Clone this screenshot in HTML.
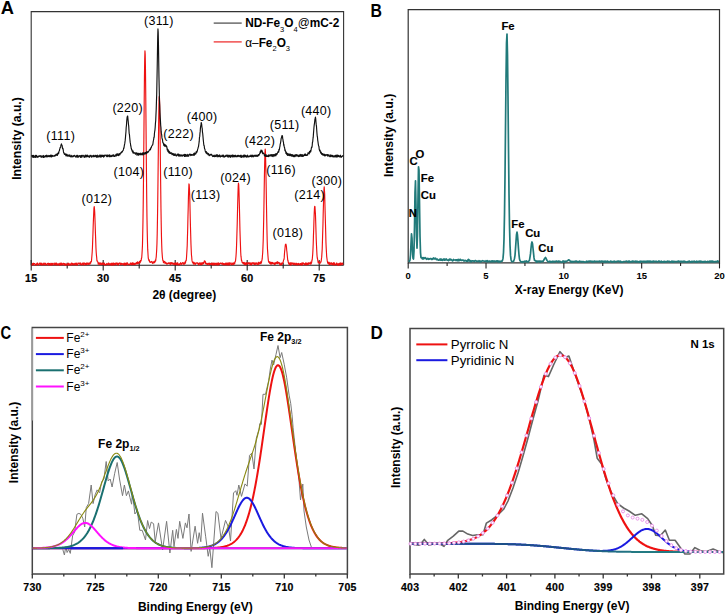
<!DOCTYPE html>
<html><head><meta charset="utf-8"><style>
html,body{margin:0;padding:0;background:#fff;width:725px;height:614px;overflow:hidden}
svg{display:block;font-family:"Liberation Sans", sans-serif}
</style></head><body>
<svg width="725" height="614" viewBox="0 0 725 614">
<rect width="725" height="614" fill="#fff"/>
<path d="M31.2,265.2 L31.2,11.6 L343.6,11.6 L343.6,265.2" fill="none" stroke="#333" stroke-width="1.1"/>
<line x1="31.2" y1="265.2" x2="343.6" y2="265.2" stroke="#222" stroke-width="1.1"/>
<line x1="31.20" y1="259.9" x2="31.20" y2="270.59999999999997" stroke="#222" stroke-width="1.1"/>
<text x="31.20" y="282.4" font-size="10.7" font-weight="700" text-anchor="middle" fill="#000" letter-spacing="0.3" stroke="#000" stroke-width="0.2">15</text>
<line x1="103.20" y1="259.9" x2="103.20" y2="270.59999999999997" stroke="#222" stroke-width="1.1"/>
<text x="103.20" y="282.4" font-size="10.7" font-weight="700" text-anchor="middle" fill="#000" letter-spacing="0.3" stroke="#000" stroke-width="0.2">30</text>
<line x1="175.20" y1="259.9" x2="175.20" y2="270.59999999999997" stroke="#222" stroke-width="1.1"/>
<text x="175.20" y="282.4" font-size="10.7" font-weight="700" text-anchor="middle" fill="#000" letter-spacing="0.3" stroke="#000" stroke-width="0.2">45</text>
<line x1="247.20" y1="259.9" x2="247.20" y2="270.59999999999997" stroke="#222" stroke-width="1.1"/>
<text x="247.20" y="282.4" font-size="10.7" font-weight="700" text-anchor="middle" fill="#000" letter-spacing="0.3" stroke="#000" stroke-width="0.2">60</text>
<line x1="319.20" y1="259.9" x2="319.20" y2="270.59999999999997" stroke="#222" stroke-width="1.1"/>
<text x="319.20" y="282.4" font-size="10.7" font-weight="700" text-anchor="middle" fill="#000" letter-spacing="0.3" stroke="#000" stroke-width="0.2">75</text>
<line x1="67.20" y1="262.7" x2="67.20" y2="268.5" stroke="#222" stroke-width="1.1"/>
<line x1="139.20" y1="262.7" x2="139.20" y2="268.5" stroke="#222" stroke-width="1.1"/>
<line x1="211.20" y1="262.7" x2="211.20" y2="268.5" stroke="#222" stroke-width="1.1"/>
<line x1="283.20" y1="262.7" x2="283.20" y2="268.5" stroke="#222" stroke-width="1.1"/>
<path d="M31.70,264.42 L31.95,265.05 L32.20,264.77 L32.45,263.50 L32.70,263.68 L32.95,265.00 L33.20,263.00 L33.45,264.88 L33.70,264.82 L33.95,264.06 L34.20,263.68 L34.45,263.63 L34.70,263.57 L34.95,264.01 L35.20,264.15 L35.45,264.26 L35.70,265.28 L35.95,264.81 L36.20,264.42 L36.45,265.26 L36.70,263.48 L36.95,263.35 L37.20,264.39 L37.45,263.09 L37.70,263.07 L37.95,264.17 L38.20,264.06 L38.45,265.09 L38.70,264.43 L38.95,264.17 L39.20,264.13 L39.45,263.55 L39.70,263.01 L39.95,263.43 L40.20,264.58 L40.45,263.45 L40.70,263.83 L40.95,262.99 L41.20,264.89 L41.45,263.34 L41.70,263.60 L41.95,265.01 L42.20,264.16 L42.45,264.93 L42.70,264.45 L42.95,264.69 L43.20,263.19 L43.45,264.23 L43.70,264.15 L43.95,264.99 L44.20,263.81 L44.45,264.36 L44.70,263.12 L44.95,263.87 L45.20,263.73 L45.45,263.33 L45.70,264.86 L45.95,263.85 L46.20,265.23 L46.45,264.34 L46.70,264.37 L46.95,264.45 L47.20,264.54 L47.45,263.33 L47.70,263.99 L47.95,263.53 L48.20,263.91 L48.45,263.20 L48.70,265.21 L48.95,263.48 L49.20,264.53 L49.45,263.67 L49.70,264.99 L49.95,264.50 L50.20,263.28 L50.45,264.92 L50.70,265.15 L50.95,265.06 L51.20,264.29 L51.45,263.31 L51.70,263.42 L51.95,265.11 L52.20,264.25 L52.45,263.39 L52.70,265.01 L52.95,264.45 L53.20,264.29 L53.45,263.84 L53.70,263.92 L53.95,263.53 L54.20,263.07 L54.45,264.99 L54.70,264.05 L54.95,264.24 L55.20,263.72 L55.45,264.70 L55.70,263.03 L55.95,263.83 L56.20,263.05 L56.45,263.26 L56.70,265.20 L56.95,264.49 L57.20,263.96 L57.45,264.18 L57.70,264.98 L57.95,263.77 L58.20,264.33 L58.45,264.55 L58.70,263.79 L58.95,264.17 L59.20,264.73 L59.45,265.06 L59.70,263.32 L59.95,265.12 L60.20,262.98 L60.45,264.70 L60.70,264.84 L60.95,263.29 L61.20,263.93 L61.45,264.85 L61.70,263.00 L61.95,264.42 L62.20,264.79 L62.45,264.15 L62.70,264.64 L62.95,263.49 L63.20,263.43 L63.45,263.80 L63.70,263.38 L63.95,263.76 L64.20,265.15 L64.45,264.29 L64.70,263.75 L64.95,263.59 L65.20,265.16 L65.45,263.99 L65.70,265.22 L65.95,264.15 L66.20,264.16 L66.45,265.03 L66.70,264.67 L66.95,264.30 L67.20,263.94 L67.45,264.98 L67.70,263.91 L67.95,265.08 L68.20,263.12 L68.45,263.95 L68.70,264.15 L68.95,265.15 L69.20,263.54 L69.45,264.81 L69.70,264.51 L69.95,264.61 L70.20,264.40 L70.45,265.19 L70.70,263.72 L70.95,263.87 L71.20,263.42 L71.45,263.07 L71.70,263.44 L71.95,265.06 L72.20,264.88 L72.45,263.21 L72.70,264.34 L72.95,264.05 L73.20,264.31 L73.45,264.46 L73.70,263.65 L73.95,265.16 L74.20,264.01 L74.45,264.39 L74.70,264.40 L74.95,263.36 L75.20,263.08 L75.45,263.88 L75.70,264.69 L75.95,264.81 L76.20,264.61 L76.45,263.19 L76.70,265.03 L76.95,264.77 L77.20,264.95 L77.45,264.13 L77.70,265.03 L77.95,263.03 L78.20,262.99 L78.45,262.97 L78.70,263.50 L78.95,263.49 L79.20,263.34 L79.45,264.21 L79.70,263.00 L79.95,264.26 L80.20,263.28 L80.45,264.46 L80.70,262.95 L80.95,263.61 L81.20,265.05 L81.45,264.13 L81.70,264.75 L81.95,264.39 L82.20,264.28 L82.45,263.31 L82.70,264.19 L82.95,262.95 L83.20,264.70 L83.45,265.06 L83.70,264.81 L83.95,262.95 L84.20,263.61 L84.45,263.55 L84.70,263.07 L84.95,264.25 L85.20,264.63 L85.45,263.51 L85.70,264.76 L85.95,264.60 L86.20,263.05 L86.45,264.50 L86.70,264.75 L86.95,263.16 L87.20,264.00 L87.45,264.13 L87.70,264.04 L87.95,262.84 L88.20,264.11 L88.45,264.01 L88.70,264.41 L88.95,264.32 L89.20,263.18 L89.45,264.03 L89.70,264.29 L89.95,264.26 L90.20,262.45 L90.45,261.96 L90.70,263.10 L90.95,261.64 L91.20,261.69 L91.45,261.38 L91.70,258.26 L91.95,255.29 L92.20,252.02 L92.45,247.55 L92.70,240.16 L92.95,233.71 L93.20,225.55 L93.45,219.37 L93.70,213.43 L93.95,208.07 L94.20,206.52 L94.45,208.44 L94.70,212.01 L94.95,218.41 L95.20,226.00 L95.45,233.89 L95.70,240.11 L95.95,247.77 L96.20,252.30 L96.45,255.39 L96.70,257.56 L96.95,260.96 L97.20,260.69 L97.45,261.44 L97.70,261.90 L97.95,262.07 L98.20,264.15 L98.45,262.81 L98.70,262.99 L98.95,264.27 L99.20,263.84 L99.45,262.89 L99.70,263.50 L99.95,264.57 L100.20,263.43 L100.45,264.23 L100.70,262.85 L100.95,264.32 L101.20,264.45 L101.45,264.58 L101.70,264.25 L101.95,263.57 L102.20,262.88 L102.45,263.94 L102.70,264.50 L102.95,263.20 L103.20,263.39 L103.45,264.02 L103.70,264.51 L103.95,264.86 L104.20,263.09 L104.45,263.23 L104.70,264.66 L104.95,264.30 L105.20,264.48 L105.45,265.12 L105.70,265.00 L105.95,264.78 L106.20,264.63 L106.45,263.75 L106.70,264.32 L106.95,263.28 L107.20,264.60 L107.45,264.60 L107.70,264.52 L107.95,263.88 L108.20,263.73 L108.45,263.83 L108.70,262.94 L108.95,264.81 L109.20,264.12 L109.45,263.76 L109.70,264.13 L109.95,264.53 L110.20,263.75 L110.45,264.79 L110.70,264.99 L110.95,263.77 L111.20,263.19 L111.45,264.63 L111.70,265.16 L111.95,263.22 L112.20,264.52 L112.45,264.78 L112.70,265.00 L112.95,263.16 L113.20,263.09 L113.45,265.15 L113.70,263.15 L113.95,263.29 L114.20,264.20 L114.45,263.90 L114.70,264.60 L114.95,263.32 L115.20,264.98 L115.45,263.38 L115.70,264.64 L115.95,263.03 L116.20,263.96 L116.45,262.95 L116.70,263.59 L116.95,263.59 L117.20,264.53 L117.45,263.92 L117.70,263.00 L117.95,265.16 L118.20,264.91 L118.45,264.97 L118.70,263.43 L118.95,263.77 L119.20,263.38 L119.45,263.15 L119.70,262.93 L119.95,264.01 L120.20,263.14 L120.45,263.26 L120.70,264.83 L120.95,263.96 L121.20,263.27 L121.45,264.39 L121.70,263.45 L121.95,264.05 L122.20,263.49 L122.45,264.02 L122.70,264.28 L122.95,264.06 L123.20,263.74 L123.45,264.64 L123.70,264.83 L123.95,263.23 L124.20,263.13 L124.45,263.07 L124.70,265.06 L124.95,264.97 L125.20,263.33 L125.45,265.03 L125.70,263.27 L125.95,263.95 L126.20,263.93 L126.45,264.88 L126.70,262.87 L126.95,263.50 L127.20,264.15 L127.45,262.91 L127.70,263.30 L127.95,263.82 L128.20,264.77 L128.45,264.49 L128.70,264.64 L128.95,264.47 L129.20,264.34 L129.45,264.66 L129.70,264.27 L129.95,264.38 L130.20,263.38 L130.45,263.06 L130.70,264.40 L130.95,263.03 L131.20,264.76 L131.45,264.00 L131.70,263.38 L131.95,264.76 L132.20,262.95 L132.45,263.76 L132.70,262.78 L132.95,264.77 L133.20,263.86 L133.45,264.36 L133.70,263.14 L133.95,264.32 L134.20,264.07 L134.45,263.91 L134.70,264.59 L134.95,263.38 L135.20,263.31 L135.45,263.91 L135.70,264.21 L135.95,263.02 L136.20,263.76 L136.45,262.65 L136.70,263.40 L136.95,263.85 L137.20,262.18 L137.45,263.64 L137.70,261.94 L137.95,264.04 L138.20,262.83 L138.45,262.61 L138.70,263.23 L138.95,262.67 L139.20,263.02 L139.45,261.40 L139.70,262.34 L139.95,262.15 L140.20,262.80 L140.45,260.49 L140.70,261.12 L140.95,261.09 L141.20,260.27 L141.45,258.19 L141.70,257.81 L141.95,254.42 L142.20,250.31 L142.45,245.62 L142.70,234.77 L142.95,222.26 L143.20,205.46 L143.45,183.39 L143.70,157.23 L143.95,129.69 L144.20,100.90 L144.45,76.57 L144.70,59.17 L144.95,50.87 L145.20,54.24 L145.45,67.90 L145.70,90.61 L145.95,117.31 L146.20,146.51 L146.45,172.62 L146.70,196.44 L146.95,216.39 L147.20,230.60 L147.45,240.92 L147.70,249.40 L147.95,253.19 L148.20,257.31 L148.45,259.06 L148.70,259.45 L148.95,260.79 L149.20,259.71 L149.45,260.87 L149.70,262.20 L149.95,261.75 L150.20,261.86 L150.45,262.24 L150.70,262.38 L150.95,262.26 L151.20,261.96 L151.45,261.47 L151.70,261.77 L151.95,261.80 L152.20,262.13 L152.45,263.45 L152.70,261.95 L152.95,262.15 L153.20,261.94 L153.45,262.38 L153.70,263.16 L153.95,262.94 L154.20,261.67 L154.45,261.29 L154.70,262.55 L154.95,261.44 L155.20,261.58 L155.45,259.74 L155.70,260.88 L155.95,258.50 L156.20,257.12 L156.45,253.54 L156.70,249.54 L156.95,243.71 L157.20,234.04 L157.45,220.17 L157.70,204.23 L157.95,183.72 L158.20,161.59 L158.45,139.73 L158.70,118.74 L158.95,103.65 L159.20,96.56 L159.45,97.63 L159.70,105.63 L159.95,123.75 L160.20,144.79 L160.45,166.32 L160.70,187.08 L160.95,207.75 L161.20,222.68 L161.45,235.97 L161.70,244.41 L161.95,251.30 L162.20,254.59 L162.45,257.75 L162.70,259.52 L162.95,260.79 L163.20,260.46 L163.45,262.63 L163.70,261.39 L163.95,261.66 L164.20,261.73 L164.45,261.45 L164.70,262.40 L164.95,263.32 L165.20,263.28 L165.45,262.19 L165.70,262.14 L165.95,262.64 L166.20,263.73 L166.45,263.15 L166.70,264.20 L166.95,263.64 L167.20,263.60 L167.45,263.98 L167.70,263.97 L167.95,263.07 L168.20,262.90 L168.45,263.35 L168.70,263.49 L168.95,262.72 L169.20,263.43 L169.45,263.91 L169.70,262.77 L169.95,262.79 L170.20,262.89 L170.45,263.16 L170.70,264.73 L170.95,262.59 L171.20,262.97 L171.45,262.94 L171.70,263.66 L171.95,262.61 L172.20,263.64 L172.45,262.97 L172.70,263.23 L172.95,264.44 L173.20,263.04 L173.45,264.05 L173.70,263.57 L173.95,263.60 L174.20,264.52 L174.45,263.02 L174.70,264.77 L174.95,264.71 L175.20,264.19 L175.45,262.77 L175.70,264.19 L175.95,264.04 L176.20,264.44 L176.45,263.15 L176.70,264.85 L176.95,264.70 L177.20,262.92 L177.45,263.38 L177.70,262.73 L177.95,264.56 L178.20,264.75 L178.45,264.92 L178.70,264.05 L178.95,264.17 L179.20,264.19 L179.45,263.93 L179.70,264.80 L179.95,264.00 L180.20,263.37 L180.45,263.76 L180.70,262.61 L180.95,264.22 L181.20,264.13 L181.45,263.49 L181.70,264.46 L181.95,264.22 L182.20,263.23 L182.45,262.60 L182.70,262.70 L182.95,262.78 L183.20,263.02 L183.45,263.30 L183.70,264.35 L183.95,262.80 L184.20,264.15 L184.45,263.57 L184.70,263.86 L184.95,262.68 L185.20,261.56 L185.45,263.06 L185.70,261.33 L185.95,260.31 L186.20,260.57 L186.45,258.34 L186.70,254.27 L186.95,250.10 L187.20,245.78 L187.45,236.69 L187.70,228.57 L187.95,216.99 L188.20,207.96 L188.45,196.47 L188.70,189.54 L188.95,183.87 L189.20,184.62 L189.45,189.09 L189.70,194.63 L189.95,204.64 L190.20,216.34 L190.45,226.38 L190.70,235.10 L190.95,243.71 L191.20,249.51 L191.45,255.04 L191.70,256.94 L191.95,260.16 L192.20,261.26 L192.45,262.37 L192.70,262.07 L192.95,263.20 L193.20,263.36 L193.45,262.80 L193.70,262.08 L193.95,264.32 L194.20,263.83 L194.45,262.72 L194.70,263.99 L194.95,263.00 L195.20,263.48 L195.45,264.41 L195.70,263.50 L195.95,263.17 L196.20,263.23 L196.45,262.73 L196.70,263.08 L196.95,263.22 L197.20,263.02 L197.45,262.78 L197.70,263.72 L197.95,263.16 L198.20,264.38 L198.45,264.81 L198.70,263.33 L198.95,264.03 L199.20,263.89 L199.45,262.90 L199.70,263.02 L199.95,264.78 L200.20,263.84 L200.45,264.60 L200.70,262.91 L200.95,264.12 L201.20,264.74 L201.45,264.74 L201.70,262.74 L201.95,263.89 L202.20,263.48 L202.45,264.29 L202.70,262.57 L202.95,262.82 L203.20,263.83 L203.45,262.75 L203.70,262.40 L203.95,263.29 L204.20,261.55 L204.45,260.77 L204.70,261.56 L204.95,261.14 L205.20,261.21 L205.45,262.62 L205.70,263.83 L205.95,263.27 L206.20,263.69 L206.45,263.15 L206.70,263.88 L206.95,264.40 L207.20,264.10 L207.45,264.63 L207.70,264.08 L207.95,263.29 L208.20,264.18 L208.45,263.98 L208.70,263.23 L208.95,264.28 L209.20,264.74 L209.45,263.17 L209.70,264.12 L209.95,264.56 L210.20,263.80 L210.45,263.49 L210.70,263.73 L210.95,264.12 L211.20,264.46 L211.45,264.17 L211.70,263.13 L211.95,264.76 L212.20,265.01 L212.45,263.12 L212.70,263.46 L212.95,263.28 L213.20,264.84 L213.45,264.98 L213.70,262.99 L213.95,263.65 L214.20,263.33 L214.45,263.97 L214.70,265.01 L214.95,263.05 L215.20,263.28 L215.45,264.01 L215.70,264.09 L215.95,264.60 L216.20,263.89 L216.45,263.21 L216.70,263.70 L216.95,265.14 L217.20,264.61 L217.45,263.15 L217.70,264.74 L217.95,263.60 L218.20,264.68 L218.45,262.91 L218.70,264.89 L218.95,263.25 L219.20,263.93 L219.45,264.40 L219.70,264.05 L219.95,263.26 L220.20,263.20 L220.45,263.53 L220.70,262.99 L220.95,263.37 L221.20,263.17 L221.45,263.94 L221.70,263.69 L221.95,264.21 L222.20,263.51 L222.45,262.94 L222.70,263.62 L222.95,264.59 L223.20,263.44 L223.45,263.78 L223.70,264.58 L223.95,263.78 L224.20,264.88 L224.45,264.95 L224.70,263.55 L224.95,264.52 L225.20,263.41 L225.45,263.14 L225.70,263.83 L225.95,264.20 L226.20,264.96 L226.45,263.14 L226.70,264.44 L226.95,263.88 L227.20,263.09 L227.45,265.01 L227.70,264.37 L227.95,263.06 L228.20,264.84 L228.45,262.98 L228.70,262.95 L228.95,263.48 L229.20,264.87 L229.45,262.77 L229.70,264.80 L229.95,264.08 L230.20,262.81 L230.45,263.94 L230.70,263.67 L230.95,263.89 L231.20,264.27 L231.45,264.10 L231.70,264.81 L231.95,262.84 L232.20,264.32 L232.45,263.35 L232.70,264.16 L232.95,264.36 L233.20,264.54 L233.45,262.80 L233.70,263.15 L233.95,264.18 L234.20,264.07 L234.45,262.59 L234.70,263.65 L234.95,262.06 L235.20,261.39 L235.45,261.32 L235.70,259.14 L235.95,256.73 L236.20,253.10 L236.45,248.28 L236.70,241.03 L236.95,232.58 L237.20,224.47 L237.45,213.45 L237.70,203.17 L237.95,194.18 L238.20,186.15 L238.45,183.16 L238.70,184.56 L238.95,189.96 L239.20,199.43 L239.45,208.73 L239.70,219.30 L239.95,230.16 L240.20,238.02 L240.45,245.09 L240.70,252.02 L240.95,256.18 L241.20,257.90 L241.45,260.50 L241.70,260.26 L241.95,261.83 L242.20,262.67 L242.45,262.21 L242.70,262.61 L242.95,263.35 L243.20,263.40 L243.45,262.48 L243.70,263.82 L243.95,262.44 L244.20,264.54 L244.45,262.82 L244.70,262.98 L244.95,262.89 L245.20,264.74 L245.45,263.15 L245.70,263.91 L245.95,264.82 L246.20,264.74 L246.45,262.67 L246.70,263.79 L246.95,263.99 L247.20,264.24 L247.45,263.40 L247.70,263.40 L247.95,262.66 L248.20,262.74 L248.45,263.93 L248.70,262.85 L248.95,263.15 L249.20,263.45 L249.45,262.85 L249.70,262.76 L249.95,264.83 L250.20,263.70 L250.45,263.17 L250.70,264.33 L250.95,262.72 L251.20,263.26 L251.45,264.91 L251.70,264.76 L251.95,264.16 L252.20,262.91 L252.45,263.42 L252.70,262.75 L252.95,263.19 L253.20,262.74 L253.45,262.96 L253.70,264.12 L253.95,262.89 L254.20,263.01 L254.45,264.72 L254.70,263.41 L254.95,263.39 L255.20,262.81 L255.45,264.43 L255.70,264.14 L255.95,263.83 L256.20,263.98 L256.45,262.77 L256.70,263.12 L256.95,263.84 L257.20,264.66 L257.45,264.32 L257.70,263.89 L257.95,263.58 L258.20,262.38 L258.45,264.35 L258.70,262.41 L258.95,262.51 L259.20,263.75 L259.45,263.96 L259.70,263.83 L259.95,262.97 L260.20,262.24 L260.45,261.80 L260.70,263.54 L260.95,263.65 L261.20,261.72 L261.45,262.78 L261.70,261.14 L261.95,260.01 L262.20,258.96 L262.45,255.46 L262.70,252.82 L262.95,246.93 L263.20,240.66 L263.45,230.35 L263.70,219.01 L263.95,204.95 L264.20,188.49 L264.45,173.65 L264.70,162.56 L264.95,152.96 L265.20,148.96 L265.45,151.91 L265.70,162.68 L265.95,174.34 L266.20,187.89 L266.45,204.07 L266.70,218.17 L266.95,230.20 L267.20,241.21 L267.45,248.66 L267.70,252.10 L267.95,255.79 L268.20,258.74 L268.45,261.21 L268.70,261.65 L268.95,262.47 L269.20,262.48 L269.45,261.89 L269.70,263.47 L269.95,261.76 L270.20,263.44 L270.45,262.38 L270.70,263.10 L270.95,264.33 L271.20,263.39 L271.45,262.34 L271.70,263.24 L271.95,263.82 L272.20,262.47 L272.45,262.96 L272.70,262.45 L272.95,263.67 L273.20,263.33 L273.45,263.62 L273.70,263.15 L273.95,263.97 L274.20,262.84 L274.45,264.49 L274.70,264.56 L274.95,263.41 L275.20,263.25 L275.45,264.04 L275.70,262.61 L275.95,263.66 L276.20,262.35 L276.45,263.24 L276.70,262.29 L276.95,262.87 L277.20,263.64 L277.45,261.70 L277.70,263.53 L277.95,263.05 L278.20,262.81 L278.45,262.88 L278.70,262.37 L278.95,262.91 L279.20,263.85 L279.45,262.71 L279.70,264.08 L279.95,264.79 L280.20,264.86 L280.45,264.66 L280.70,264.47 L280.95,263.02 L281.20,264.83 L281.45,263.04 L281.70,264.54 L281.95,264.51 L282.20,263.85 L282.45,263.49 L282.70,262.54 L282.95,262.93 L283.20,261.87 L283.45,260.69 L283.70,259.56 L283.95,259.56 L284.20,257.88 L284.45,253.75 L284.70,250.86 L284.95,248.81 L285.20,246.13 L285.45,244.44 L285.70,244.41 L285.95,244.15 L286.20,245.30 L286.45,246.74 L286.70,250.26 L286.95,252.04 L287.20,254.85 L287.45,257.27 L287.70,260.17 L287.95,260.12 L288.20,262.27 L288.45,262.07 L288.70,263.91 L288.95,263.08 L289.20,263.53 L289.45,264.50 L289.70,264.11 L289.95,262.83 L290.20,262.96 L290.45,264.96 L290.70,262.77 L290.95,263.41 L291.20,264.94 L291.45,262.78 L291.70,263.13 L291.95,263.26 L292.20,262.98 L292.45,263.87 L292.70,264.16 L292.95,263.53 L293.20,263.06 L293.45,264.68 L293.70,264.67 L293.95,264.11 L294.20,263.14 L294.45,264.07 L294.70,264.28 L294.95,263.82 L295.20,264.82 L295.45,263.74 L295.70,264.02 L295.95,263.10 L296.20,264.14 L296.45,264.61 L296.70,264.53 L296.95,263.44 L297.20,265.13 L297.45,264.50 L297.70,263.82 L297.95,263.80 L298.20,264.64 L298.45,263.25 L298.70,264.32 L298.95,264.50 L299.20,264.03 L299.45,264.85 L299.70,263.92 L299.95,263.91 L300.20,263.49 L300.45,264.95 L300.70,263.56 L300.95,264.43 L301.20,263.77 L301.45,264.98 L301.70,265.00 L301.95,262.89 L302.20,265.10 L302.45,264.20 L302.70,262.98 L302.95,263.95 L303.20,262.91 L303.45,264.06 L303.70,263.22 L303.95,263.63 L304.20,263.48 L304.45,264.16 L304.70,264.66 L304.95,264.91 L305.20,263.50 L305.45,264.05 L305.70,262.74 L305.95,263.57 L306.20,264.92 L306.45,262.97 L306.70,264.68 L306.95,264.17 L307.20,263.32 L307.45,264.42 L307.70,263.28 L307.95,264.65 L308.20,262.75 L308.45,262.81 L308.70,264.23 L308.95,263.51 L309.20,262.77 L309.45,263.57 L309.70,263.03 L309.95,263.55 L310.20,263.93 L310.45,264.10 L310.70,262.15 L310.95,263.22 L311.20,263.87 L311.45,262.27 L311.70,262.35 L311.95,259.80 L312.20,260.02 L312.45,257.00 L312.70,254.36 L312.95,249.62 L313.20,244.07 L313.45,235.36 L313.70,229.30 L313.95,220.42 L314.20,213.60 L314.45,208.43 L314.70,206.28 L314.95,206.66 L315.20,210.67 L315.45,214.26 L315.70,221.84 L315.95,229.93 L316.20,238.42 L316.45,244.42 L316.70,249.81 L316.95,254.62 L317.20,257.47 L317.45,258.77 L317.70,259.71 L317.95,261.45 L318.20,262.95 L318.45,262.61 L318.70,261.53 L318.95,262.51 L319.20,262.42 L319.45,262.88 L319.70,262.86 L319.95,263.63 L320.20,262.10 L320.45,262.05 L320.70,262.18 L320.95,262.22 L321.20,260.84 L321.45,258.75 L321.70,257.14 L321.95,252.85 L322.20,249.00 L322.45,240.90 L322.70,232.44 L322.95,224.66 L323.20,213.37 L323.45,204.81 L323.70,195.87 L323.95,189.92 L324.20,186.92 L324.45,190.58 L324.70,194.66 L324.95,205.14 L325.20,214.77 L325.45,223.54 L325.70,232.55 L325.95,242.42 L326.20,248.04 L326.45,252.19 L326.70,256.61 L326.95,258.46 L327.20,260.41 L327.45,261.94 L327.70,263.19 L327.95,263.31 L328.20,262.09 L328.45,262.99 L328.70,263.14 L328.95,264.38 L329.20,262.39 L329.45,263.43 L329.70,264.42 L329.95,263.28 L330.20,263.01 L330.45,263.73 L330.70,263.22 L330.95,264.65 L331.20,262.74 L331.45,263.05 L331.70,262.79 L331.95,264.26 L332.20,263.32 L332.45,264.73 L332.70,264.73 L332.95,264.85 L333.20,263.30 L333.45,262.72 L333.70,263.63 L333.95,264.96 L334.20,264.51 L334.45,262.90 L334.70,264.39 L334.95,264.89 L335.20,265.02 L335.45,264.45 L335.70,264.79 L335.95,264.75 L336.20,263.65 L336.45,263.06 L336.70,264.51 L336.95,263.15 L337.20,263.73 L337.45,265.14 L337.70,264.14 L337.95,264.06 L338.20,265.04 L338.45,263.52 L338.70,265.17 L338.95,264.97 L339.20,263.71 L339.45,263.63 L339.70,263.17 L339.95,264.99 L340.20,263.32 L340.45,262.91 L340.70,264.94 L340.95,264.27 L341.20,264.45 L341.45,264.59 L341.70,263.00 L341.95,263.12 L342.20,264.06 L342.45,263.03 L342.70,264.07 L342.95,264.61 L343.20,264.43" fill="none" stroke="#ee1111" stroke-width="1.15" stroke-linejoin="round"/>
<path d="M31.70,156.63 L31.95,155.32 L32.20,155.75 L32.45,157.27 L32.70,155.49 L32.95,156.43 L33.20,155.32 L33.45,157.37 L33.70,155.60 L33.95,156.15 L34.20,156.46 L34.45,156.85 L34.70,157.36 L34.95,156.89 L35.20,156.00 L35.45,155.37 L35.70,156.82 L35.95,157.43 L36.20,155.23 L36.45,156.97 L36.70,155.60 L36.95,156.25 L37.20,156.39 L37.45,156.60 L37.70,157.46 L37.95,156.76 L38.20,156.08 L38.45,156.82 L38.70,156.25 L38.95,156.13 L39.20,156.02 L39.45,156.31 L39.70,155.82 L39.95,155.73 L40.20,155.51 L40.45,156.18 L40.70,155.84 L40.95,157.09 L41.20,157.11 L41.45,155.95 L41.70,156.58 L41.95,157.23 L42.20,155.97 L42.45,156.42 L42.70,156.16 L42.95,156.64 L43.20,157.35 L43.45,155.45 L43.70,157.35 L43.95,156.66 L44.20,156.95 L44.45,156.58 L44.70,157.12 L44.95,155.86 L45.20,156.74 L45.45,155.71 L45.70,156.27 L45.95,156.66 L46.20,155.55 L46.45,155.23 L46.70,156.90 L46.95,156.94 L47.20,156.60 L47.45,155.80 L47.70,156.57 L47.95,155.24 L48.20,156.57 L48.45,156.36 L48.70,156.45 L48.95,156.05 L49.20,155.53 L49.45,156.67 L49.70,156.06 L49.95,156.69 L50.20,155.80 L50.45,155.16 L50.70,156.19 L50.95,156.36 L51.20,157.03 L51.45,156.94 L51.70,155.01 L51.95,156.64 L52.20,155.44 L52.45,156.42 L52.70,155.67 L52.95,155.51 L53.20,155.87 L53.45,155.94 L53.70,156.28 L53.95,156.12 L54.20,156.17 L54.45,155.45 L54.70,156.08 L54.95,155.26 L55.20,155.81 L55.45,155.40 L55.70,155.57 L55.95,154.23 L56.20,155.24 L56.45,154.49 L56.70,154.75 L56.95,153.88 L57.20,155.05 L57.45,155.38 L57.70,153.89 L57.95,153.02 L58.20,153.85 L58.45,152.30 L58.70,153.56 L58.95,151.21 L59.20,151.08 L59.45,150.62 L59.70,148.89 L59.95,148.41 L60.20,147.31 L60.45,147.32 L60.70,147.02 L60.95,144.84 L61.20,145.35 L61.45,143.74 L61.70,145.02 L61.95,145.27 L62.20,145.77 L62.45,147.96 L62.70,148.79 L62.95,148.36 L63.20,149.64 L63.45,151.68 L63.70,152.81 L63.95,152.57 L64.20,153.71 L64.45,154.43 L64.70,154.27 L64.95,154.38 L65.20,153.68 L65.45,154.25 L65.70,155.03 L65.95,155.89 L66.20,154.59 L66.45,154.92 L66.70,154.17 L66.95,155.81 L67.20,155.30 L67.45,156.18 L67.70,154.95 L67.95,155.98 L68.20,156.06 L68.45,155.62 L68.70,155.03 L68.95,155.56 L69.20,156.38 L69.45,155.13 L69.70,154.93 L69.95,155.81 L70.20,155.31 L70.45,156.63 L70.70,156.69 L70.95,157.00 L71.20,156.78 L71.45,156.35 L71.70,155.31 L71.95,156.78 L72.20,156.58 L72.45,156.63 L72.70,156.53 L72.95,156.84 L73.20,155.63 L73.45,156.50 L73.70,156.15 L73.95,155.74 L74.20,155.73 L74.45,155.34 L74.70,156.12 L74.95,155.84 L75.20,155.97 L75.45,156.96 L75.70,156.58 L75.95,156.58 L76.20,157.28 L76.45,155.52 L76.70,156.19 L76.95,155.24 L77.20,155.94 L77.45,157.22 L77.70,155.24 L77.95,156.78 L78.20,157.03 L78.45,156.22 L78.70,156.88 L78.95,156.07 L79.20,155.87 L79.45,156.22 L79.70,155.50 L79.95,155.77 L80.20,155.76 L80.45,157.33 L80.70,155.83 L80.95,155.59 L81.20,157.23 L81.45,155.38 L81.70,157.29 L81.95,157.03 L82.20,156.56 L82.45,156.05 L82.70,155.52 L82.95,155.31 L83.20,155.31 L83.45,155.87 L83.70,156.01 L83.95,157.19 L84.20,156.30 L84.45,157.35 L84.70,156.73 L84.95,155.41 L85.20,156.34 L85.45,155.44 L85.70,155.16 L85.95,157.24 L86.20,155.85 L86.45,155.50 L86.70,155.30 L86.95,156.57 L87.20,156.13 L87.45,155.09 L87.70,156.71 L87.95,155.65 L88.20,156.86 L88.45,156.19 L88.70,156.29 L88.95,156.11 L89.20,156.61 L89.45,157.33 L89.70,156.89 L89.95,155.21 L90.20,156.19 L90.45,155.59 L90.70,155.29 L90.95,155.50 L91.20,155.62 L91.45,157.25 L91.70,156.76 L91.95,157.01 L92.20,156.65 L92.45,155.77 L92.70,155.94 L92.95,156.05 L93.20,155.71 L93.45,156.00 L93.70,156.80 L93.95,155.20 L94.20,155.66 L94.45,156.13 L94.70,156.58 L94.95,156.51 L95.20,156.68 L95.45,155.26 L95.70,155.43 L95.95,155.72 L96.20,155.66 L96.45,156.74 L96.70,157.29 L96.95,156.57 L97.20,155.07 L97.45,155.68 L97.70,156.84 L97.95,157.11 L98.20,156.35 L98.45,155.78 L98.70,155.79 L98.95,156.43 L99.20,156.96 L99.45,155.75 L99.70,155.40 L99.95,154.96 L100.20,155.27 L100.45,156.91 L100.70,156.38 L100.95,157.22 L101.20,155.10 L101.45,155.77 L101.70,156.76 L101.95,156.44 L102.20,155.07 L102.45,155.84 L102.70,156.37 L102.95,156.48 L103.20,155.94 L103.45,155.32 L103.70,157.11 L103.95,155.95 L104.20,156.52 L104.45,156.10 L104.70,155.05 L104.95,155.40 L105.20,154.99 L105.45,155.28 L105.70,155.29 L105.95,155.78 L106.20,155.56 L106.45,155.64 L106.70,156.68 L106.95,154.84 L107.20,155.02 L107.45,156.63 L107.70,155.99 L107.95,155.76 L108.20,155.36 L108.45,155.98 L108.70,155.23 L108.95,156.69 L109.20,156.60 L109.45,155.43 L109.70,154.73 L109.95,156.70 L110.20,155.34 L110.45,156.15 L110.70,156.59 L110.95,156.44 L111.20,156.57 L111.45,155.70 L111.70,156.49 L111.95,155.60 L112.20,155.13 L112.45,155.60 L112.70,155.25 L112.95,156.22 L113.20,156.35 L113.45,154.73 L113.70,154.76 L113.95,155.24 L114.20,155.40 L114.45,156.50 L114.70,156.44 L114.95,156.46 L115.20,155.88 L115.45,155.73 L115.70,154.75 L115.95,154.95 L116.20,154.06 L116.45,155.92 L116.70,154.59 L116.95,154.09 L117.20,154.57 L117.45,154.53 L117.70,155.39 L117.95,153.67 L118.20,154.12 L118.45,155.57 L118.70,155.39 L118.95,154.78 L119.20,154.52 L119.45,153.64 L119.70,155.03 L119.95,154.64 L120.20,153.93 L120.45,152.97 L120.70,152.93 L120.95,153.12 L121.20,152.81 L121.45,151.96 L121.70,152.49 L121.95,152.30 L122.20,151.60 L122.45,151.44 L122.70,150.88 L122.95,150.46 L123.20,150.41 L123.45,149.42 L123.70,147.88 L123.95,148.26 L124.20,146.43 L124.45,144.92 L124.70,143.88 L124.95,142.09 L125.20,140.15 L125.45,137.62 L125.70,134.56 L125.95,131.71 L126.20,127.27 L126.45,125.35 L126.70,121.33 L126.95,118.78 L127.20,116.67 L127.45,116.51 L127.70,115.97 L127.95,118.85 L128.20,121.33 L128.45,124.23 L128.70,125.86 L128.95,130.19 L129.20,133.68 L129.45,134.65 L129.70,137.55 L129.95,139.98 L130.20,142.40 L130.45,143.44 L130.70,145.75 L130.95,146.54 L131.20,148.31 L131.45,148.91 L131.70,150.01 L131.95,149.63 L132.20,151.22 L132.45,151.73 L132.70,152.09 L132.95,150.92 L133.20,153.23 L133.45,152.63 L133.70,152.15 L133.95,152.71 L134.20,153.07 L134.45,153.23 L134.70,152.74 L134.95,152.90 L135.20,153.23 L135.45,154.29 L135.70,153.59 L135.95,152.75 L136.20,153.76 L136.45,153.25 L136.70,152.87 L136.95,155.13 L137.20,153.60 L137.45,154.20 L137.70,153.82 L137.95,153.14 L138.20,155.11 L138.45,155.21 L138.70,153.50 L138.95,154.04 L139.20,153.94 L139.45,153.47 L139.70,154.61 L139.95,154.88 L140.20,154.82 L140.45,154.61 L140.70,153.09 L140.95,153.56 L141.20,154.19 L141.45,154.60 L141.70,153.84 L141.95,153.96 L142.20,154.82 L142.45,152.91 L142.70,153.43 L142.95,153.43 L143.20,155.00 L143.45,153.19 L143.70,152.72 L143.95,153.51 L144.20,153.98 L144.45,152.77 L144.70,154.27 L144.95,152.71 L145.20,153.79 L145.45,152.46 L145.70,154.01 L145.95,152.35 L146.20,153.45 L146.45,153.58 L146.70,152.11 L146.95,151.61 L147.20,152.60 L147.45,152.24 L147.70,152.03 L147.95,152.55 L148.20,151.62 L148.45,151.50 L148.70,151.25 L148.95,150.94 L149.20,150.58 L149.45,149.74 L149.70,149.75 L149.95,149.36 L150.20,148.97 L150.45,149.82 L150.70,147.87 L150.95,147.64 L151.20,147.89 L151.45,146.87 L151.70,146.12 L151.95,145.78 L152.20,145.38 L152.45,145.00 L152.70,144.83 L152.95,143.60 L153.20,141.58 L153.45,140.46 L153.70,139.07 L153.95,137.19 L154.20,137.18 L154.45,133.27 L154.70,131.46 L154.95,130.07 L155.20,127.09 L155.45,123.09 L155.70,120.73 L155.95,114.86 L156.20,109.61 L156.45,101.37 L156.70,94.26 L156.95,81.04 L157.20,67.49 L157.45,52.27 L157.70,37.13 L157.95,28.91 L158.20,32.37 L158.45,44.21 L158.70,60.24 L158.95,76.45 L159.20,88.06 L159.45,99.98 L159.70,105.54 L159.95,112.44 L160.20,117.17 L160.45,120.88 L160.70,125.48 L160.95,127.47 L161.20,131.92 L161.45,133.65 L161.70,134.85 L161.95,137.63 L162.20,139.02 L162.45,139.24 L162.70,141.59 L162.95,142.78 L163.20,142.94 L163.45,143.06 L163.70,144.94 L163.95,145.54 L164.20,144.55 L164.45,144.22 L164.70,146.18 L164.95,145.78 L165.20,144.80 L165.45,145.58 L165.70,145.05 L165.95,146.68 L166.20,145.75 L166.45,145.98 L166.70,146.31 L166.95,147.71 L167.20,149.90 L167.45,148.76 L167.70,149.89 L167.95,151.58 L168.20,149.81 L168.45,150.85 L168.70,152.39 L168.95,151.01 L169.20,153.18 L169.45,153.19 L169.70,151.80 L169.95,153.01 L170.20,153.08 L170.45,153.55 L170.70,152.80 L170.95,153.10 L171.20,152.88 L171.45,153.11 L171.70,152.94 L171.95,154.72 L172.20,154.77 L172.45,153.64 L172.70,154.48 L172.95,154.09 L173.20,153.68 L173.45,153.90 L173.70,155.38 L173.95,154.01 L174.20,154.61 L174.45,155.50 L174.70,154.07 L174.95,155.29 L175.20,153.74 L175.45,155.21 L175.70,155.42 L175.95,155.53 L176.20,155.88 L176.45,155.31 L176.70,155.96 L176.95,154.38 L177.20,154.97 L177.45,154.29 L177.70,154.02 L177.95,154.87 L178.20,155.54 L178.45,155.70 L178.70,153.97 L178.95,156.12 L179.20,154.54 L179.45,154.67 L179.70,155.93 L179.95,156.09 L180.20,155.74 L180.45,154.83 L180.70,155.14 L180.95,156.01 L181.20,154.93 L181.45,155.97 L181.70,155.93 L181.95,155.22 L182.20,156.21 L182.45,155.04 L182.70,155.89 L182.95,155.65 L183.20,154.95 L183.45,155.41 L183.70,155.59 L183.95,155.43 L184.20,154.46 L184.45,156.49 L184.70,156.43 L184.95,154.29 L185.20,156.38 L185.45,155.43 L185.70,154.50 L185.95,156.09 L186.20,155.20 L186.45,155.84 L186.70,156.09 L186.95,155.42 L187.20,154.29 L187.45,156.06 L187.70,155.75 L187.95,156.24 L188.20,154.76 L188.45,155.93 L188.70,156.11 L188.95,154.90 L189.20,155.01 L189.45,154.82 L189.70,154.04 L189.95,154.53 L190.20,154.73 L190.45,154.19 L190.70,155.67 L190.95,154.86 L191.20,155.14 L191.45,154.45 L191.70,154.58 L191.95,155.43 L192.20,154.72 L192.45,154.96 L192.70,154.49 L192.95,154.73 L193.20,155.43 L193.45,153.90 L193.70,154.38 L193.95,154.67 L194.20,153.17 L194.45,155.06 L194.70,153.85 L194.95,153.11 L195.20,154.12 L195.45,154.04 L195.70,153.39 L195.95,153.79 L196.20,151.58 L196.45,152.24 L196.70,152.33 L196.95,152.25 L197.20,151.05 L197.45,150.29 L197.70,149.00 L197.95,148.48 L198.20,147.34 L198.45,146.84 L198.70,145.15 L198.95,143.21 L199.20,141.66 L199.45,137.47 L199.70,136.66 L199.95,133.38 L200.20,131.41 L200.45,127.83 L200.70,126.01 L200.95,125.20 L201.20,122.56 L201.45,123.24 L201.70,124.71 L201.95,127.32 L202.20,128.28 L202.45,132.12 L202.70,133.43 L202.95,136.13 L203.20,139.10 L203.45,141.50 L203.70,143.96 L203.95,145.65 L204.20,145.68 L204.45,148.09 L204.70,148.91 L204.95,149.25 L205.20,150.93 L205.45,151.86 L205.70,151.45 L205.95,152.93 L206.20,151.51 L206.45,151.95 L206.70,153.62 L206.95,152.83 L207.20,153.70 L207.45,153.70 L207.70,153.07 L207.95,154.63 L208.20,154.75 L208.45,153.51 L208.70,153.89 L208.95,155.24 L209.20,155.60 L209.45,155.59 L209.70,154.83 L209.95,154.60 L210.20,154.85 L210.45,154.29 L210.70,155.09 L210.95,154.54 L211.20,154.43 L211.45,154.98 L211.70,154.30 L211.95,155.28 L212.20,155.84 L212.45,155.77 L212.70,156.56 L212.95,156.38 L213.20,155.83 L213.45,156.47 L213.70,155.46 L213.95,156.30 L214.20,155.14 L214.45,155.72 L214.70,156.79 L214.95,155.93 L215.20,155.74 L215.45,156.40 L215.70,155.33 L215.95,156.54 L216.20,154.69 L216.45,155.21 L216.70,155.08 L216.95,155.28 L217.20,156.88 L217.45,154.77 L217.70,155.42 L217.95,156.06 L218.20,156.37 L218.45,156.55 L218.70,155.66 L218.95,155.29 L219.20,156.76 L219.45,155.09 L219.70,154.96 L219.95,155.36 L220.20,155.97 L220.45,157.01 L220.70,156.52 L220.95,156.15 L221.20,156.06 L221.45,156.47 L221.70,156.32 L221.95,155.66 L222.20,155.10 L222.45,155.36 L222.70,156.70 L222.95,156.37 L223.20,156.75 L223.45,155.02 L223.70,157.00 L223.95,155.81 L224.20,157.06 L224.45,156.31 L224.70,156.20 L224.95,156.83 L225.20,156.39 L225.45,156.51 L225.70,155.32 L225.95,156.35 L226.20,155.79 L226.45,155.14 L226.70,155.28 L226.95,156.08 L227.20,155.58 L227.45,156.74 L227.70,155.27 L227.95,155.02 L228.20,157.29 L228.45,155.72 L228.70,156.17 L228.95,155.48 L229.20,155.48 L229.45,155.93 L229.70,156.83 L229.95,155.10 L230.20,156.94 L230.45,157.29 L230.70,156.30 L230.95,155.85 L231.20,155.56 L231.45,155.45 L231.70,155.77 L231.95,156.99 L232.20,155.04 L232.45,156.84 L232.70,156.57 L232.95,155.08 L233.20,155.20 L233.45,156.73 L233.70,156.59 L233.95,155.76 L234.20,157.02 L234.45,155.53 L234.70,156.03 L234.95,155.31 L235.20,156.53 L235.45,155.25 L235.70,155.46 L235.95,156.81 L236.20,156.20 L236.45,156.57 L236.70,156.74 L236.95,156.45 L237.20,155.51 L237.45,156.66 L237.70,155.32 L237.95,155.68 L238.20,156.09 L238.45,155.32 L238.70,155.30 L238.95,156.56 L239.20,156.76 L239.45,155.91 L239.70,155.95 L239.95,155.53 L240.20,156.26 L240.45,156.39 L240.70,157.20 L240.95,155.15 L241.20,157.15 L241.45,157.33 L241.70,155.85 L241.95,156.72 L242.20,156.95 L242.45,156.55 L242.70,155.72 L242.95,156.49 L243.20,157.07 L243.45,155.30 L243.70,156.15 L243.95,155.10 L244.20,156.99 L244.45,156.84 L244.70,155.15 L244.95,156.76 L245.20,156.63 L245.45,155.33 L245.70,156.25 L245.95,156.62 L246.20,155.81 L246.45,156.19 L246.70,157.28 L246.95,156.49 L247.20,156.18 L247.45,155.18 L247.70,155.30 L247.95,156.98 L248.20,156.72 L248.45,156.93 L248.70,156.34 L248.95,156.33 L249.20,156.22 L249.45,156.69 L249.70,155.75 L249.95,156.13 L250.20,156.06 L250.45,156.50 L250.70,155.47 L250.95,155.02 L251.20,155.16 L251.45,155.36 L251.70,156.92 L251.95,156.58 L252.20,156.65 L252.45,155.94 L252.70,155.14 L252.95,155.97 L253.20,156.87 L253.45,156.04 L253.70,156.31 L253.95,155.70 L254.20,155.17 L254.45,156.24 L254.70,155.90 L254.95,155.55 L255.20,155.33 L255.45,156.31 L255.70,155.40 L255.95,155.96 L256.20,155.19 L256.45,156.28 L256.70,155.36 L256.95,155.53 L257.20,156.49 L257.45,155.92 L257.70,155.85 L257.95,154.81 L258.20,155.81 L258.45,154.57 L258.70,155.74 L258.95,155.26 L259.20,154.41 L259.45,154.44 L259.70,153.37 L259.95,153.35 L260.20,151.47 L260.45,152.96 L260.70,152.05 L260.95,150.16 L261.20,150.14 L261.45,150.84 L261.70,151.41 L261.95,150.30 L262.20,152.58 L262.45,151.64 L262.70,153.63 L262.95,153.54 L263.20,153.35 L263.45,153.45 L263.70,153.17 L263.95,153.44 L264.20,154.92 L264.45,155.45 L264.70,155.92 L264.95,154.81 L265.20,156.24 L265.45,154.86 L265.70,156.41 L265.95,156.42 L266.20,154.71 L266.45,156.38 L266.70,156.05 L266.95,156.08 L267.20,156.42 L267.45,155.74 L267.70,155.68 L267.95,155.37 L268.20,156.53 L268.45,156.62 L268.70,154.92 L268.95,156.33 L269.20,155.18 L269.45,154.97 L269.70,154.99 L269.95,155.85 L270.20,155.17 L270.45,155.07 L270.70,154.73 L270.95,155.23 L271.20,156.25 L271.45,154.50 L271.70,155.54 L271.95,155.79 L272.20,154.49 L272.45,155.03 L272.70,156.40 L272.95,156.57 L273.20,156.20 L273.45,154.59 L273.70,155.91 L273.95,155.14 L274.20,154.44 L274.45,155.09 L274.70,156.04 L274.95,155.86 L275.20,154.66 L275.45,153.81 L275.70,155.63 L275.95,155.71 L276.20,154.48 L276.45,153.67 L276.70,154.23 L276.95,154.39 L277.20,153.66 L277.45,153.09 L277.70,152.53 L277.95,152.27 L278.20,151.26 L278.45,151.20 L278.70,152.19 L278.95,149.28 L279.20,150.08 L279.45,149.22 L279.70,147.20 L279.95,146.34 L280.20,144.04 L280.45,143.49 L280.70,141.92 L280.95,140.30 L281.20,138.16 L281.45,137.91 L281.70,136.72 L281.95,135.62 L282.20,136.05 L282.45,135.87 L282.70,138.61 L282.95,139.44 L283.20,141.67 L283.45,141.95 L283.70,145.16 L283.95,144.64 L284.20,146.97 L284.45,147.21 L284.70,148.44 L284.95,150.67 L285.20,149.85 L285.45,151.24 L285.70,151.36 L285.95,153.35 L286.20,151.99 L286.45,152.91 L286.70,154.39 L286.95,154.25 L287.20,154.49 L287.45,155.34 L287.70,153.27 L287.95,154.88 L288.20,155.19 L288.45,155.30 L288.70,155.32 L288.95,153.93 L289.20,154.04 L289.45,155.69 L289.70,155.38 L289.95,154.64 L290.20,154.11 L290.45,155.36 L290.70,154.39 L290.95,155.94 L291.20,155.04 L291.45,156.14 L291.70,154.54 L291.95,155.48 L292.20,154.60 L292.45,156.19 L292.70,155.70 L292.95,154.97 L293.20,156.67 L293.45,156.03 L293.70,155.25 L293.95,156.46 L294.20,155.38 L294.45,156.68 L294.70,155.21 L294.95,156.79 L295.20,154.68 L295.45,156.23 L295.70,155.22 L295.95,155.53 L296.20,156.02 L296.45,154.66 L296.70,155.07 L296.95,154.79 L297.20,156.25 L297.45,155.06 L297.70,155.69 L297.95,155.30 L298.20,155.08 L298.45,156.68 L298.70,155.69 L298.95,156.01 L299.20,156.13 L299.45,156.39 L299.70,155.09 L299.95,154.66 L300.20,155.54 L300.45,154.84 L300.70,154.48 L300.95,156.53 L301.20,155.84 L301.45,155.33 L301.70,154.67 L301.95,156.09 L302.20,155.54 L302.45,154.69 L302.70,156.52 L302.95,156.42 L303.20,156.33 L303.45,156.07 L303.70,155.35 L303.95,154.78 L304.20,155.55 L304.45,154.35 L304.70,155.37 L304.95,154.06 L305.20,153.88 L305.45,155.43 L305.70,154.51 L305.95,155.26 L306.20,155.37 L306.45,155.41 L306.70,154.82 L306.95,155.25 L307.20,154.71 L307.45,155.22 L307.70,155.02 L307.95,152.92 L308.20,153.28 L308.45,153.39 L308.70,152.88 L308.95,152.50 L309.20,153.87 L309.45,151.65 L309.70,151.71 L309.95,152.69 L310.20,151.06 L310.45,150.68 L310.70,151.77 L310.95,150.67 L311.20,149.21 L311.45,147.63 L311.70,146.91 L311.95,147.36 L312.20,145.53 L312.45,142.26 L312.70,141.88 L312.95,139.02 L313.20,137.45 L313.45,133.87 L313.70,130.67 L313.95,127.45 L314.20,125.11 L314.45,123.58 L314.70,121.22 L314.95,118.96 L315.20,118.21 L315.45,117.04 L315.70,118.50 L315.95,121.69 L316.20,124.42 L316.45,126.05 L316.70,129.80 L316.95,133.11 L317.20,136.04 L317.45,136.99 L317.70,140.12 L317.95,141.56 L318.20,143.54 L318.45,145.10 L318.70,146.02 L318.95,146.59 L319.20,149.29 L319.45,149.97 L319.70,151.02 L319.95,150.06 L320.20,150.77 L320.45,152.05 L320.70,153.22 L320.95,152.49 L321.20,152.16 L321.45,153.33 L321.70,154.40 L321.95,154.40 L322.20,154.66 L322.45,153.70 L322.70,153.52 L322.95,155.05 L323.20,154.99 L323.45,155.26 L323.70,154.30 L323.95,154.16 L324.20,154.15 L324.45,155.68 L324.70,155.87 L324.95,154.67 L325.20,155.91 L325.45,154.84 L325.70,155.05 L325.95,155.38 L326.20,154.63 L326.45,154.79 L326.70,154.83 L326.95,154.86 L327.20,155.49 L327.45,154.57 L327.70,156.17 L327.95,154.81 L328.20,155.46 L328.45,155.94 L328.70,154.81 L328.95,155.46 L329.20,155.84 L329.45,155.84 L329.70,156.65 L329.95,156.42 L330.20,154.92 L330.45,156.57 L330.70,155.94 L330.95,156.25 L331.20,155.08 L331.45,155.81 L331.70,156.35 L331.95,156.59 L332.20,156.63 L332.45,155.29 L332.70,156.72 L332.95,156.12 L333.20,156.36 L333.45,156.80 L333.70,155.78 L333.95,156.97 L334.20,156.90 L334.45,156.74 L334.70,155.76 L334.95,156.11 L335.20,155.31 L335.45,156.66 L335.70,156.97 L335.95,155.30 L336.20,156.65 L336.45,156.54 L336.70,155.04 L336.95,157.07 L337.20,156.07 L337.45,155.59 L337.70,155.05 L337.95,156.79 L338.20,155.77 L338.45,156.18 L338.70,155.45 L338.95,156.41 L339.20,155.93 L339.45,156.88 L339.70,156.56 L339.95,156.69 L340.20,155.61 L340.45,155.19 L340.70,157.07 L340.95,157.20 L341.20,156.53 L341.45,157.18 L341.70,156.69 L341.95,156.46 L342.20,156.03 L342.45,155.89 L342.70,156.20 L342.95,155.59 L343.20,156.07" fill="none" stroke="#111" stroke-width="1.15" stroke-linejoin="round"/>
<text x="46.3" y="139.5" font-size="12.5" font-weight="400" text-anchor="start" fill="#000" letter-spacing="0.3">(111)</text>
<text x="112.4" y="112.0" font-size="12.5" font-weight="400" text-anchor="start" fill="#000" letter-spacing="0.3">(220)</text>
<text x="144.0" y="25.3" font-size="12.5" font-weight="400" text-anchor="start" fill="#000" letter-spacing="0.3">(311)</text>
<text x="163.2" y="137.6" font-size="12.5" font-weight="400" text-anchor="start" fill="#000" letter-spacing="0.3">(222)</text>
<text x="186.8" y="120.8" font-size="12.5" font-weight="400" text-anchor="start" fill="#000" letter-spacing="0.3">(400)</text>
<text x="244.5" y="145.3" font-size="12.5" font-weight="400" text-anchor="start" fill="#000" letter-spacing="0.3">(422)</text>
<text x="269.8" y="129.4" font-size="12.5" font-weight="400" text-anchor="start" fill="#000" letter-spacing="0.3">(511)</text>
<text x="300.9" y="114.8" font-size="12.5" font-weight="400" text-anchor="start" fill="#000" letter-spacing="0.3">(440)</text>
<text x="113.5" y="176.0" font-size="12.5" font-weight="400" text-anchor="start" fill="#000" letter-spacing="0.3">(104)</text>
<text x="163.2" y="176.4" font-size="12.5" font-weight="400" text-anchor="start" fill="#000" letter-spacing="0.3">(110)</text>
<text x="81.5" y="202.8" font-size="12.5" font-weight="400" text-anchor="start" fill="#000" letter-spacing="0.3">(012)</text>
<text x="190.8" y="199.3" font-size="12.5" font-weight="400" text-anchor="start" fill="#000" letter-spacing="0.3">(113)</text>
<text x="220.3" y="181.8" font-size="12.5" font-weight="400" text-anchor="start" fill="#000" letter-spacing="0.3">(024)</text>
<text x="266.3" y="173.7" font-size="12.5" font-weight="400" text-anchor="start" fill="#000" letter-spacing="0.3">(116)</text>
<text x="272.5" y="237.2" font-size="12.5" font-weight="400" text-anchor="start" fill="#000" letter-spacing="0.3">(018)</text>
<text x="294.2" y="199.4" font-size="12.5" font-weight="400" text-anchor="start" fill="#000" letter-spacing="0.3">(214)</text>
<text x="311.5" y="184.5" font-size="12.5" font-weight="400" text-anchor="start" fill="#000" letter-spacing="0.3">(300)</text>
<line x1="213.7" y1="23.1" x2="241.7" y2="23.1" stroke="#555" stroke-width="1.3"/>
<line x1="213.7" y1="41.9" x2="241.7" y2="41.9" stroke="#ee3333" stroke-width="1.3"/>
<text x="245.2" y="27.4" font-size="11.85" font-weight="700">ND-Fe<tspan font-size="7.5" font-weight="400" dy="4.2">3</tspan><tspan dy="-4.2">O</tspan><tspan font-size="7.5" font-weight="400" dy="4.2">4</tspan><tspan dy="-4.2" font-weight="400">@</tspan><tspan>mC-2</tspan></text>
<text x="245.2" y="46.7" font-size="11.85" font-weight="700"><tspan font-weight="400">α–</tspan>Fe<tspan font-size="7.5" font-weight="400" dy="4.2">2</tspan><tspan dy="-4.2">O</tspan><tspan font-size="7.5" font-weight="400" dy="4.2">3</tspan></text>
<text x="0.7" y="13.8" font-size="18.3" font-weight="700" text-anchor="start" fill="#000" >A</text>
<text transform="translate(21,138.5) rotate(-90)" font-size="12.2" font-weight="700" text-anchor="middle">Intensity (a.u.)</text>
<text x="184.3" y="299.4" font-size="12" font-weight="700" text-anchor="middle" fill="#000" >2θ (degree)</text>
<path d="M408.2,262.9 L408.2,9.7 L719.5,9.7 L719.5,262.9 Z" fill="none" stroke="#333" stroke-width="1.2"/>
<line x1="408.20" y1="262.9" x2="408.20" y2="268.4" stroke="#222" stroke-width="1.1"/>
<text x="408.20" y="279.0" font-size="9.5" font-weight="700" text-anchor="middle" fill="#000" >0</text>
<line x1="486.02" y1="262.9" x2="486.02" y2="268.4" stroke="#222" stroke-width="1.1"/>
<text x="486.02" y="279.0" font-size="9.5" font-weight="700" text-anchor="middle" fill="#000" >5</text>
<line x1="563.85" y1="262.9" x2="563.85" y2="268.4" stroke="#222" stroke-width="1.1"/>
<text x="563.85" y="279.0" font-size="9.5" font-weight="700" text-anchor="middle" fill="#000" >10</text>
<line x1="641.67" y1="262.9" x2="641.67" y2="268.4" stroke="#222" stroke-width="1.1"/>
<text x="641.67" y="279.0" font-size="9.5" font-weight="700" text-anchor="middle" fill="#000" >15</text>
<line x1="719.50" y1="262.9" x2="719.50" y2="268.4" stroke="#222" stroke-width="1.1"/>
<text x="719.50" y="279.0" font-size="9.5" font-weight="700" text-anchor="middle" fill="#000" >20</text>
<line x1="447.11" y1="262.9" x2="447.11" y2="266.09999999999997" stroke="#222" stroke-width="1.1"/>
<line x1="524.94" y1="262.9" x2="524.94" y2="266.09999999999997" stroke="#222" stroke-width="1.1"/>
<line x1="602.76" y1="262.9" x2="602.76" y2="266.09999999999997" stroke="#222" stroke-width="1.1"/>
<line x1="680.59" y1="262.9" x2="680.59" y2="266.09999999999997" stroke="#222" stroke-width="1.1"/>
<path d="M408.50,261.61 L409.00,261.03 L409.50,261.32 L410.00,259.98 L410.50,255.03 L411.00,243.56 L411.50,233.87 L412.00,238.46 L412.50,250.91 L413.00,258.31 L413.50,259.02 L414.00,251.02 L414.50,226.69 L415.00,192.42 L415.50,180.82 L416.00,205.90 L416.50,237.13 L417.00,248.22 L417.50,233.61 L418.00,197.72 L418.50,166.73 L419.00,170.09 L419.50,202.35 L420.00,236.12 L420.50,252.55 L421.00,257.77 L421.50,257.42 L422.00,258.34 L422.50,258.94 L423.00,257.58 L423.50,258.92 L424.00,257.92 L424.50,258.45 L425.00,257.60 L425.50,258.00 L426.00,258.46 L426.50,259.30 L427.00,258.95 L427.50,258.60 L428.00,258.42 L428.50,259.24 L429.00,258.84 L429.50,259.08 L430.00,258.84 L430.50,258.56 L431.00,258.88 L431.50,259.39 L432.00,258.68 L432.50,259.27 L433.00,258.90 L433.50,257.97 L434.00,258.91 L434.50,258.90 L435.00,258.40 L435.50,258.23 L436.00,259.22 L436.50,259.59 L437.00,259.06 L437.50,259.35 L438.00,260.07 L438.50,260.26 L439.00,260.15 L439.50,259.78 L440.00,259.10 L440.50,260.00 L441.00,259.01 L441.50,260.20 L442.00,259.63 L442.50,260.41 L443.00,259.51 L443.50,259.90 L444.00,258.78 L444.50,260.25 L445.00,260.27 L445.50,259.67 L446.00,258.95 L446.50,259.02 L447.00,260.03 L447.50,260.27 L448.00,260.22 L448.50,260.68 L449.00,259.57 L449.50,259.13 L450.00,260.05 L450.50,259.23 L451.00,259.78 L451.50,259.69 L452.00,260.33 L452.50,260.81 L453.00,260.71 L453.50,259.44 L454.00,260.07 L454.50,260.02 L455.00,260.02 L455.50,259.80 L456.00,260.67 L456.50,259.80 L457.00,260.07 L457.50,259.70 L458.00,260.91 L458.50,259.49 L459.00,259.66 L459.50,260.50 L460.00,259.54 L460.50,259.37 L461.00,260.27 L461.50,260.40 L462.00,260.17 L462.50,260.10 L463.00,260.37 L463.50,260.21 L464.00,261.05 L464.50,260.60 L465.00,260.83 L465.50,260.44 L466.00,260.68 L466.50,261.10 L467.00,260.75 L467.50,261.27 L468.00,259.83 L468.50,259.35 L469.00,260.97 L469.50,260.17 L470.00,261.07 L470.50,261.60 L471.00,260.75 L471.50,261.65 L472.00,260.98 L472.50,260.81 L473.00,260.80 L473.50,261.15 L474.00,261.10 L474.50,261.61 L475.00,260.61 L475.50,260.61 L476.00,260.75 L476.50,261.30 L477.00,261.52 L477.50,261.17 L478.00,261.33 L478.50,261.37 L479.00,260.63 L479.50,260.91 L480.00,261.82 L480.50,261.03 L481.00,261.77 L481.50,261.23 L482.00,260.92 L482.50,260.66 L483.00,260.92 L483.50,261.05 L484.00,261.20 L484.50,261.22 L485.00,261.34 L485.50,261.26 L486.00,260.74 L486.50,261.02 L487.00,261.86 L487.50,260.75 L488.00,261.60 L488.50,261.29 L489.00,261.58 L489.50,261.13 L490.00,261.18 L490.50,261.36 L491.00,261.84 L491.50,261.15 L492.00,260.86 L492.50,260.81 L493.00,261.82 L493.50,261.14 L494.00,260.92 L494.50,261.49 L495.00,261.79 L495.50,261.50 L496.00,260.97 L496.50,261.28 L497.00,261.12 L497.50,260.82 L498.00,261.96 L498.50,261.36 L499.00,260.97 L499.50,261.87 L500.00,262.00 L500.50,261.80 L501.00,261.11 L501.50,260.98 L502.00,261.15 L502.50,260.41 L503.00,258.38 L503.50,252.45 L504.00,239.28 L504.50,214.39 L505.00,177.01 L505.50,128.06 L506.00,79.23 L506.50,43.11 L507.00,34.01 L507.50,54.81 L508.00,97.92 L508.50,148.48 L509.00,193.83 L509.50,225.34 L510.00,244.71 L510.50,255.16 L511.00,259.42 L511.50,261.04 L512.00,261.56 L512.50,261.62 L513.00,261.47 L513.50,261.49 L514.00,260.01 L514.50,258.39 L515.00,255.32 L515.50,248.61 L516.00,241.46 L516.50,234.55 L517.00,232.12 L517.50,235.25 L518.00,241.62 L518.50,248.92 L519.00,254.78 L519.50,259.12 L520.00,260.72 L520.50,261.15 L521.00,261.89 L521.50,261.73 L522.00,262.09 L522.50,261.71 L523.00,262.00 L523.50,261.58 L524.00,261.77 L524.50,261.93 L525.00,261.03 L525.50,261.50 L526.00,261.65 L526.50,261.00 L527.00,261.88 L527.50,261.78 L528.00,262.01 L528.50,261.19 L529.00,260.86 L529.50,260.21 L530.00,257.18 L530.50,253.70 L531.00,248.22 L531.50,243.79 L532.00,241.97 L532.50,243.64 L533.00,248.24 L533.50,252.89 L534.00,257.69 L534.50,260.30 L535.00,260.42 L535.50,260.83 L536.00,260.91 L536.50,262.06 L537.00,261.04 L537.50,261.77 L538.00,261.32 L538.50,261.19 L539.00,261.25 L539.50,261.78 L540.00,260.98 L540.50,261.99 L541.00,261.64 L541.50,261.24 L542.00,261.20 L542.50,261.68 L543.00,261.48 L543.50,260.65 L544.00,259.79 L544.50,258.72 L545.00,258.18 L545.50,257.43 L546.00,258.46 L546.50,259.44 L547.00,260.47 L547.50,261.09 L548.00,261.64 L548.50,261.52 L549.00,261.83 L549.50,261.19 L550.00,261.36 L550.50,262.02 L551.00,261.44 L551.50,261.98 L552.00,262.10 L552.50,261.67 L553.00,261.09 L553.50,261.88 L554.00,261.77 L554.50,261.32 L555.00,262.01 L555.50,261.55 L556.00,261.04 L556.50,261.06 L557.00,261.25 L557.50,261.71 L558.00,261.96 L558.50,261.10 L559.00,261.00 L559.50,261.73 L560.00,261.47 L560.50,261.51 L561.00,261.96 L561.50,262.08 L562.00,262.14 L562.50,261.92 L563.00,260.98 L563.50,261.16 L564.00,261.69 L564.50,262.13 L565.00,261.08 L565.50,261.60 L566.00,261.44 L566.50,261.41 L567.00,261.10 L567.50,260.82 L568.00,260.36 L568.50,259.78 L569.00,260.15 L569.50,260.20 L570.00,260.93 L570.50,261.27 L571.00,261.93 L571.50,261.33 L572.00,262.03 L572.50,261.44 L573.00,261.78 L573.50,261.95 L574.00,261.46 L574.50,261.52 L575.00,261.74 L575.50,261.12 L576.00,261.63 L576.50,261.10 L577.00,261.26 L577.50,261.74 L578.00,262.16 L578.50,262.19 L579.00,261.30 L579.50,261.16 L580.00,261.61 L580.50,261.52 L581.00,261.45 L581.50,261.91 L582.00,261.84 L582.50,261.66 L583.00,261.74 L583.50,261.69 L584.00,261.80 L584.50,262.10 L585.00,262.13 L585.50,262.17 L586.00,262.02 L586.50,261.12 L587.00,261.53 L587.50,261.93 L588.00,261.35 L588.50,261.72 L589.00,261.06 L589.50,261.24 L590.00,261.47 L590.50,261.08 L591.00,261.50 L591.50,261.27 L592.00,262.03 L592.50,261.38 L593.00,261.45 L593.50,261.96 L594.00,261.67 L594.50,261.05 L595.00,261.25 L595.50,261.73 L596.00,261.23 L596.50,261.29 L597.00,261.74 L597.50,261.59 L598.00,261.32 L598.50,261.67 L599.00,261.76 L599.50,261.04 L600.00,261.32 L600.50,261.36 L601.00,262.05 L601.50,261.06 L602.00,261.41 L602.50,261.23 L603.00,261.83 L603.50,261.97 L604.00,261.06 L604.50,262.03 L605.00,261.83 L605.50,261.26 L606.00,262.09 L606.50,261.35 L607.00,261.94 L607.50,261.09 L608.00,261.54 L608.50,261.60 L609.00,262.07 L609.50,262.00 L610.00,261.65 L610.50,261.06 L611.00,261.51 L611.50,261.45 L612.00,262.19 L612.50,261.81 L613.00,261.48 L613.50,261.43 L614.00,261.92 L614.50,261.11 L615.00,261.98 L615.50,261.80 L616.00,261.52 L616.50,261.85 L617.00,261.47 L617.50,261.17 L618.00,261.50 L618.50,261.06 L619.00,261.10 L619.50,261.52 L620.00,261.99 L620.50,261.24 L621.00,261.60 L621.50,262.17 L622.00,261.99 L622.50,262.08 L623.00,261.81 L623.50,261.70 L624.00,261.70 L624.50,261.72 L625.00,261.56 L625.50,261.43 L626.00,261.28 L626.50,261.08 L627.00,261.44 L627.50,261.92 L628.00,261.66 L628.50,261.19 L629.00,261.98 L629.50,261.05 L630.00,262.12 L630.50,261.78 L631.00,261.67 L631.50,261.49 L632.00,261.99 L632.50,261.01 L633.00,261.02 L633.50,261.62 L634.00,261.35 L634.50,261.48 L635.00,261.64 L635.50,261.05 L636.00,262.18 L636.50,261.81 L637.00,261.12 L637.50,261.88 L638.00,261.64 L638.50,261.82 L639.00,261.88 L639.50,262.19 L640.00,261.14 L640.50,262.19 L641.00,261.57 L641.50,261.24 L642.00,261.45 L642.50,261.44 L643.00,262.07 L643.50,261.63 L644.00,261.08 L644.50,261.86 L645.00,261.60 L645.50,261.98 L646.00,261.05 L646.50,262.04 L647.00,262.07 L647.50,261.01 L648.00,261.57 L648.50,261.14 L649.00,261.63 L649.50,261.11 L650.00,262.06 L650.50,261.22 L651.00,261.80 L651.50,261.78 L652.00,261.38 L652.50,261.26 L653.00,262.10 L653.50,261.05 L654.00,261.30 L654.50,261.39 L655.00,261.70 L655.50,261.44 L656.00,261.13 L656.50,261.68 L657.00,261.87 L657.50,261.85 L658.00,261.59 L658.50,261.37 L659.00,261.01 L659.50,261.64 L660.00,261.75 L660.50,261.53 L661.00,262.15 L661.50,261.24 L662.00,261.98 L662.50,261.86 L663.00,262.08 L663.50,262.11 L664.00,261.28 L664.50,262.11 L665.00,261.48 L665.50,261.81 L666.00,262.14 L666.50,261.71 L667.00,261.70 L667.50,261.08 L668.00,261.72 L668.50,261.29 L669.00,261.47 L669.50,261.45 L670.00,262.17 L670.50,261.76 L671.00,261.87 L671.50,261.21 L672.00,261.36 L672.50,262.05 L673.00,261.14 L673.50,262.14 L674.00,261.51 L674.50,261.47 L675.00,261.62 L675.50,261.53 L676.00,261.56 L676.50,261.51 L677.00,261.84 L677.50,261.33 L678.00,261.20 L678.50,261.52 L679.00,261.11 L679.50,261.54 L680.00,261.59 L680.50,261.94 L681.00,261.13 L681.50,261.48 L682.00,261.94 L682.50,261.41 L683.00,262.00 L683.50,261.86 L684.00,261.05 L684.50,261.46 L685.00,261.92 L685.50,261.63 L686.00,261.81 L686.50,262.19 L687.00,261.81 L687.50,261.66 L688.00,262.02 L688.50,261.52 L689.00,261.01 L689.50,261.33 L690.00,261.71 L690.50,262.14 L691.00,261.73 L691.50,261.34 L692.00,262.19 L692.50,261.48 L693.00,261.27 L693.50,261.66 L694.00,261.41 L694.50,261.13 L695.00,261.86 L695.50,261.83 L696.00,262.17 L696.50,261.16 L697.00,262.09 L697.50,261.96 L698.00,261.30 L698.50,261.57 L699.00,261.76 L699.50,261.38 L700.00,261.13 L700.50,262.00 L701.00,261.20 L701.50,261.59 L702.00,261.53 L702.50,262.08 L703.00,261.67 L703.50,261.51 L704.00,262.17 L704.50,261.42 L705.00,261.87 L705.50,261.28 L706.00,261.91 L706.50,261.90 L707.00,261.99 L707.50,261.58 L708.00,261.27 L708.50,261.76 L709.00,262.09 L709.50,261.37 L710.00,261.02 L710.50,261.22 L711.00,262.12 L711.50,261.01 L712.00,261.06 L712.50,261.12 L713.00,262.07 L713.50,261.46 L714.00,261.83 L714.50,261.85 L715.00,261.52 L715.50,261.88 L716.00,261.55 L716.50,261.65 L717.00,261.37 L717.50,261.00 L718.00,261.71 L718.50,261.32 L719.00,261.33" fill="none" stroke="#217a7a" stroke-width="1.7" stroke-linejoin="round"/>
<text x="409.4" y="165.0" font-size="11.3" font-weight="700" text-anchor="start" fill="#000" stroke="#000" stroke-width="0.15">C</text>
<text x="415.5" y="157.7" font-size="11.3" font-weight="700" text-anchor="start" fill="#000" stroke="#000" stroke-width="0.15">O</text>
<text x="420.8" y="182.0" font-size="11.3" font-weight="700" text-anchor="start" fill="#000" stroke="#000" stroke-width="0.15">Fe</text>
<text x="420.8" y="198.9" font-size="11.3" font-weight="700" text-anchor="start" fill="#000" stroke="#000" stroke-width="0.15">Cu</text>
<text x="408.8" y="216.8" font-size="11.3" font-weight="700" text-anchor="start" fill="#000" stroke="#000" stroke-width="0.15">N</text>
<text x="501.4" y="29.9" font-size="11.3" font-weight="700" text-anchor="start" fill="#000" stroke="#000" stroke-width="0.15">Fe</text>
<text x="511.3" y="227.5" font-size="11.3" font-weight="700" text-anchor="start" fill="#000" stroke="#000" stroke-width="0.15">Fe</text>
<text x="525.2" y="237.2" font-size="11.3" font-weight="700" text-anchor="start" fill="#000" stroke="#000" stroke-width="0.15">Cu</text>
<text x="538.3" y="252.1" font-size="11.3" font-weight="700" text-anchor="start" fill="#000" stroke="#000" stroke-width="0.15">Cu</text>
<text transform="translate(370.6,17.1) scale(0.88,1)" font-size="18" font-weight="700">B</text>
<text transform="translate(392.9,135.4) rotate(-90)" font-size="12.3" font-weight="700" text-anchor="middle">Intensity (a.u.)</text>
<text x="569.2" y="293.6" font-size="12" font-weight="700" text-anchor="middle" fill="#000" >X-ray Energy (KeV)</text>
<path d="M32.3,574.1 L32.3,327.5 L347.4,327.5 L347.4,574.1 Z" fill="none" stroke="#444" stroke-width="1.5"/>
<line x1="32.3" y1="328.3" x2="32.3" y2="420.5" stroke="#9a9a9a" stroke-width="1.6"/>
<line x1="32.30" y1="574.1" x2="32.30" y2="578.6" stroke="#333" stroke-width="1.3"/>
<text x="32.50" y="590.9" font-size="10.5" font-weight="700" text-anchor="middle" fill="#000" letter-spacing="0.35" stroke="#000" stroke-width="0.2">730</text>
<line x1="95.30" y1="574.1" x2="95.30" y2="578.6" stroke="#333" stroke-width="1.3"/>
<text x="95.50" y="590.9" font-size="10.5" font-weight="700" text-anchor="middle" fill="#000" letter-spacing="0.35" stroke="#000" stroke-width="0.2">725</text>
<line x1="158.30" y1="574.1" x2="158.30" y2="578.6" stroke="#333" stroke-width="1.3"/>
<text x="158.50" y="590.9" font-size="10.5" font-weight="700" text-anchor="middle" fill="#000" letter-spacing="0.35" stroke="#000" stroke-width="0.2">720</text>
<line x1="221.30" y1="574.1" x2="221.30" y2="578.6" stroke="#333" stroke-width="1.3"/>
<text x="221.50" y="590.9" font-size="10.5" font-weight="700" text-anchor="middle" fill="#000" letter-spacing="0.35" stroke="#000" stroke-width="0.2">715</text>
<line x1="284.30" y1="574.1" x2="284.30" y2="578.6" stroke="#333" stroke-width="1.3"/>
<text x="284.50" y="590.9" font-size="10.5" font-weight="700" text-anchor="middle" fill="#000" letter-spacing="0.35" stroke="#000" stroke-width="0.2">710</text>
<line x1="347.30" y1="574.1" x2="347.30" y2="578.6" stroke="#333" stroke-width="1.3"/>
<text x="347.50" y="590.9" font-size="10.5" font-weight="700" text-anchor="middle" fill="#000" letter-spacing="0.35" stroke="#000" stroke-width="0.2">705</text>
<line x1="63.80" y1="574.1" x2="63.80" y2="576.6" stroke="#333" stroke-width="1.3"/>
<line x1="126.80" y1="574.1" x2="126.80" y2="576.6" stroke="#333" stroke-width="1.3"/>
<line x1="189.80" y1="574.1" x2="189.80" y2="576.6" stroke="#333" stroke-width="1.3"/>
<line x1="252.80" y1="574.1" x2="252.80" y2="576.6" stroke="#333" stroke-width="1.3"/>
<line x1="315.80" y1="574.1" x2="315.80" y2="576.6" stroke="#333" stroke-width="1.3"/>
<path d="M62.80,549.50 L64.40,555.00 L65.80,546.60 L67.10,552.50 L68.70,549.50 L70.30,553.40 L72.60,535.80 L74.60,532.00 L76.90,514.30 L78.90,513.40 L80.80,514.30 L82.80,518.20 L84.70,527.00 L86.30,507.50 L88.60,503.60 L91.20,485.00 L93.10,503.60 L95.10,494.80 L97.10,489.90 L99.60,492.80 L101.60,482.00 L103.90,479.00 L106.20,461.50 L108.20,481.00 L110.20,479.00 L112.10,487.00 L114.70,473.30 L117.20,462.50 L119.50,479.00 L122.50,495.70 L124.40,485.00 L126.40,495.70 L128.40,490.90 L130.00,497.70 L131.60,504.20 L132.40,492.80 L134.90,514.00 L137.30,510.70 L139.80,530.30 L142.20,530.30 L145.50,540.00 L147.60,520.50 L149.50,528.60 L151.20,522.10 L153.60,523.70 L155.20,541.70 L158.50,522.90 L162.60,549.80 L166.60,521.30 L169.90,553.00 L172.70,530.30 L174.00,546.50 L176.40,529.40 L178.00,538.40 L179.70,521.30 L182.90,538.40 L185.40,522.90 L187.00,527.80 L189.00,514.00 L191.10,551.40 L195.10,526.20 L197.60,543.30 L199.20,532.70 L200.80,541.70 L202.50,513.20 L205.70,536.80 L208.20,556.30 L209.80,548.20 L211.90,567.70 L213.90,540.00 L216.00,511.50 L217.90,513.20 L221.00,538.60 L225.50,520.40 L228.50,527.20 L230.50,541.00 L233.50,493.00 L235.80,490.70 L237.00,495.30 L238.80,485.00 L241.50,496.40 L245.00,483.90 L247.20,486.20 L249.50,455.40 L251.80,453.10 L254.00,469.00 L256.30,438.30 L259.00,429.30 L259.80,423.60 L261.40,424.40 L263.00,394.30 L265.50,394.30 L268.70,380.50 L270.30,369.00 L272.00,360.10 L273.60,365.00 L276.00,354.40 L278.00,345.50 L280.10,357.70 L281.70,352.50 L284.20,364.20 L286.60,377.20 L289.10,395.10 L290.70,403.30 L292.00,414.60 L293.10,427.70 L296.00,455.00 L299.00,480.00 L300.50,500.00 L302.80,484.00 L304.00,511.00 L306.30,527.00 L309.00,540.00 L312.00,549.00" fill="none" stroke="#7a7a7a" stroke-width="1.0" stroke-linejoin="round"/>
<path d="M32.80,548.20 L33.30,548.20 L33.80,548.20 L34.30,548.20 L34.80,548.20 L35.30,548.20 L35.80,548.20 L36.30,548.20 L36.80,548.20 L37.30,548.20 L37.80,548.20 L38.30,548.20 L38.80,548.20 L39.30,548.20 L39.80,548.20 L40.30,548.20 L40.80,548.20 L41.30,548.20 L41.80,548.20 L42.30,548.20 L42.80,548.20 L43.30,548.20 L43.80,548.20 L44.30,548.20 L44.80,548.20 L45.30,548.20 L45.80,548.20 L46.30,548.20 L46.80,548.20 L47.30,548.20 L47.80,548.20 L48.30,548.20 L48.80,548.20 L49.30,548.20 L49.80,548.20 L50.30,548.20 L50.80,548.20 L51.30,548.20 L51.80,548.20 L52.30,548.20 L52.80,548.20 L53.30,548.20 L53.80,548.20 L54.30,548.20 L54.80,548.20 L55.30,548.20 L55.80,548.20 L56.30,548.20 L56.80,548.20 L57.30,548.20 L57.80,548.20 L58.30,548.20 L58.80,548.20 L59.30,548.20 L59.80,548.20 L60.30,548.20 L60.80,548.20 L61.30,548.20 L61.80,548.20 L62.30,548.20 L62.80,548.20 L63.30,548.20 L63.80,548.20 L64.30,548.20 L64.80,548.20 L65.30,548.20 L65.80,548.20 L66.30,548.20 L66.80,548.20 L67.30,548.20 L67.80,548.20 L68.30,548.20 L68.80,548.20 L69.30,548.20 L69.80,548.20 L70.30,548.20 L70.80,548.20 L71.30,548.20 L71.80,548.20 L72.30,548.20 L72.80,548.20 L73.30,548.20 L73.80,548.20 L74.30,548.20 L74.80,548.20 L75.30,548.20 L75.80,548.20 L76.30,548.20 L76.80,548.20 L77.30,548.20 L77.80,548.20 L78.30,548.20 L78.80,548.20 L79.30,548.20 L79.80,548.20 L80.30,548.20 L80.80,548.20 L81.30,548.20 L81.80,548.20 L82.30,548.20 L82.80,548.20 L83.30,548.20 L83.80,548.20 L84.30,548.20 L84.80,548.20 L85.30,548.20 L85.80,548.20 L86.30,548.20 L86.80,548.20 L87.30,548.20 L87.80,548.20 L88.30,548.20 L88.80,548.20 L89.30,548.20 L89.80,548.20 L90.30,548.20 L90.80,548.20 L91.30,548.20 L91.80,548.20 L92.30,548.20 L92.80,548.20 L93.30,548.20 L93.80,548.20 L94.30,548.20 L94.80,548.20 L95.30,548.20 L95.80,548.20 L96.30,548.20 L96.80,548.20 L97.30,548.20 L97.80,548.20 L98.30,548.20 L98.80,548.20 L99.30,548.20 L99.80,548.20 L100.30,548.20 L100.80,548.20 L101.30,548.20 L101.80,548.20 L102.30,548.20 L102.80,548.20 L103.30,548.20 L103.80,548.20 L104.30,548.20 L104.80,548.20 L105.30,548.20 L105.80,548.20 L106.30,548.20 L106.80,548.20 L107.30,548.20 L107.80,548.20 L108.30,548.20 L108.80,548.20 L109.30,548.20 L109.80,548.20 L110.30,548.20 L110.80,548.20 L111.30,548.20 L111.80,548.20 L112.30,548.20 L112.80,548.20 L113.30,548.20 L113.80,548.20 L114.30,548.20 L114.80,548.20 L115.30,548.20 L115.80,548.20 L116.30,548.20 L116.80,548.20 L117.30,548.20 L117.80,548.20 L118.30,548.20 L118.80,548.20 L119.30,548.20 L119.80,548.20 L120.30,548.20 L120.80,548.20 L121.30,548.20 L121.80,548.20 L122.30,548.20 L122.80,548.20 L123.30,548.20 L123.80,548.20 L124.30,548.20 L124.80,548.20 L125.30,548.20 L125.80,548.20 L126.30,548.20 L126.80,548.20 L127.30,548.20 L127.80,548.20 L128.30,548.20 L128.80,548.20 L129.30,548.20 L129.80,548.20 L130.30,548.20 L130.80,548.20 L131.30,548.20 L131.80,548.20 L132.30,548.20 L132.80,548.20 L133.30,548.20 L133.80,548.20 L134.30,548.20 L134.80,548.20 L135.30,548.20 L135.80,548.20 L136.30,548.20 L136.80,548.20 L137.30,548.20 L137.80,548.20 L138.30,548.20 L138.80,548.20 L139.30,548.20 L139.80,548.20 L140.30,548.20 L140.80,548.20 L141.30,548.20 L141.80,548.20 L142.30,548.20 L142.80,548.20 L143.30,548.20 L143.80,548.20 L144.30,548.20 L144.80,548.20 L145.30,548.20 L145.80,548.20 L146.30,548.20 L146.80,548.20 L147.30,548.20 L147.80,548.20 L148.30,548.20 L148.80,548.20 L149.30,548.20 L149.80,548.20 L150.30,548.20 L150.80,548.20 L151.30,548.20 L151.80,548.20 L152.30,548.20 L152.80,548.20 L153.30,548.20 L153.80,548.20 L154.30,548.20 L154.80,548.20 L155.30,548.20 L155.80,548.20 L156.30,548.20 L156.80,548.20 L157.30,548.20 L157.80,548.20 L158.30,548.20 L158.80,548.20 L159.30,548.20 L159.80,548.20 L160.30,548.20 L160.80,548.20 L161.30,548.20 L161.80,548.20 L162.30,548.20 L162.80,548.20 L163.30,548.20 L163.80,548.20 L164.30,548.20 L164.80,548.20 L165.30,548.20 L165.80,548.20 L166.30,548.20 L166.80,548.20 L167.30,548.20 L167.80,548.20 L168.30,548.20 L168.80,548.20 L169.30,548.20 L169.80,548.20 L170.30,548.20 L170.80,548.20 L171.30,548.20 L171.80,548.20 L172.30,548.20 L172.80,548.20 L173.30,548.20 L173.80,548.20 L174.30,548.20 L174.80,548.20 L175.30,548.20 L175.80,548.20 L176.30,548.20 L176.80,548.20 L177.30,548.20 L177.80,548.20 L178.30,548.20 L178.80,548.20 L179.30,548.20 L179.80,548.20 L180.30,548.20 L180.80,548.20 L181.30,548.20 L181.80,548.20 L182.30,548.20 L182.80,548.20 L183.30,548.20 L183.80,548.20 L184.30,548.20 L184.80,548.20 L185.30,548.20 L185.80,548.20 L186.30,548.20 L186.80,548.20 L187.30,548.20 L187.80,548.20 L188.30,548.20 L188.80,548.20 L189.30,548.20 L189.80,548.20 L190.30,548.20 L190.80,548.20 L191.30,548.20 L191.80,548.20 L192.30,548.19 L192.80,548.19 L193.30,548.19 L193.80,548.19 L194.30,548.19 L194.80,548.19 L195.30,548.19 L195.80,548.19 L196.30,548.19 L196.80,548.19 L197.30,548.18 L197.80,548.18 L198.30,548.18 L198.80,548.18 L199.30,548.18 L199.80,548.18 L200.30,548.17 L200.80,548.17 L201.30,548.17 L201.80,548.16 L202.30,548.16 L202.80,548.16 L203.30,548.15 L203.80,548.15 L204.30,548.14 L204.80,548.14 L205.30,548.13 L205.80,548.12 L206.30,548.12 L206.80,548.11 L207.30,548.10 L207.80,548.09 L208.30,548.08 L208.80,548.07 L209.30,548.06 L209.80,548.04 L210.30,548.03 L210.80,548.01 L211.30,548.00 L211.80,547.98 L212.30,547.96 L212.80,547.94 L213.30,547.91 L213.80,547.89 L214.30,547.86 L214.80,547.83 L215.30,547.80 L215.80,547.77 L216.30,547.73 L216.80,547.69 L217.30,547.65 L217.80,547.60 L218.30,547.55 L218.80,547.50 L219.30,547.44 L219.80,547.38 L220.30,547.31 L220.80,547.24 L221.30,547.17 L221.80,547.08 L222.30,547.00 L222.80,546.90 L223.30,546.80 L223.80,546.69 L224.30,546.58 L224.80,546.45 L225.30,546.32 L225.80,546.18 L226.30,546.03 L226.80,545.87 L227.30,545.70 L227.80,545.51 L228.30,545.32 L228.80,545.11 L229.30,544.89 L229.80,544.65 L230.30,544.40 L230.80,544.13 L231.30,543.85 L231.80,543.55 L232.30,543.23 L232.80,542.89 L233.30,542.53 L233.80,542.15 L234.30,541.75 L234.80,541.32 L235.30,540.87 L235.80,540.39 L236.30,539.89 L236.80,539.35 L237.30,538.79 L237.80,538.19 L238.30,537.57 L238.80,536.91 L239.30,536.21 L239.80,535.48 L240.30,534.70 L240.80,533.89 L241.30,533.04 L241.80,532.14 L242.30,531.20 L242.80,530.22 L243.30,529.18 L243.80,528.10 L244.30,526.96 L244.80,525.77 L245.30,524.53 L245.80,523.23 L246.30,521.87 L246.80,520.45 L247.30,518.98 L247.80,517.43 L248.30,515.83 L248.80,514.16 L249.30,512.42 L249.80,510.61 L250.30,508.73 L250.80,506.79 L251.30,504.77 L251.80,502.67 L252.30,500.51 L252.80,498.27 L253.30,495.95 L253.80,493.56 L254.30,491.10 L254.80,488.56 L255.30,485.94 L255.80,483.25 L256.30,480.49 L256.80,477.66 L257.30,474.75 L257.80,471.78 L258.30,468.74 L258.80,465.64 L259.30,462.48 L259.80,459.26 L260.30,455.98 L260.80,452.66 L261.30,449.29 L261.80,445.88 L262.30,442.44 L262.80,438.97 L263.30,435.48 L263.80,431.98 L264.30,428.46 L264.80,424.95 L265.30,421.45 L265.80,417.96 L266.30,414.50 L266.80,411.08 L267.30,407.70 L267.80,404.38 L268.30,401.13 L268.80,397.95 L269.30,394.86 L269.80,391.87 L270.30,388.99 L270.80,386.23 L271.30,383.59 L271.80,381.10 L272.30,378.76 L272.80,376.58 L273.30,374.56 L273.80,372.73 L274.30,371.08 L274.80,369.62 L275.30,368.36 L275.80,367.31 L276.30,366.46 L276.80,365.83 L277.30,365.41 L277.80,365.22 L278.30,365.24 L278.80,365.48 L279.30,365.94 L279.80,366.61 L280.30,367.50 L280.80,368.60 L281.30,369.90 L281.80,371.39 L282.30,373.08 L282.80,374.95 L283.30,377.00 L283.80,379.22 L284.30,381.59 L284.80,384.11 L285.30,386.77 L285.80,389.56 L286.30,392.46 L286.80,395.47 L287.30,398.58 L287.80,401.77 L288.30,405.04 L288.80,408.37 L289.30,411.76 L289.80,415.19 L290.30,418.66 L290.80,422.15 L291.30,425.65 L291.80,429.17 L292.30,432.68 L292.80,436.18 L293.30,439.67 L293.80,443.13 L294.30,446.57 L294.80,449.97 L295.30,453.33 L295.80,456.64 L296.30,459.91 L296.80,463.11 L297.30,466.27 L297.80,469.36 L298.30,472.38 L298.80,475.34 L299.30,478.23 L299.80,481.05 L300.30,483.80 L300.80,486.47 L301.30,489.07 L301.80,491.60 L302.30,494.05 L302.80,496.42 L303.30,498.72 L303.80,500.95 L304.30,503.10 L304.80,505.18 L305.30,507.18 L305.80,509.12 L306.30,510.98 L306.80,512.77 L307.30,514.50 L307.80,516.16 L308.30,517.75 L308.80,519.28 L309.30,520.74 L309.80,522.15 L310.30,523.49 L310.80,524.78 L311.30,526.01 L311.80,527.19 L312.30,528.32 L312.80,529.39 L313.30,530.42 L313.80,531.40 L314.30,532.33 L314.80,533.21 L315.30,534.06 L315.80,534.86 L316.30,535.63 L316.80,536.35 L317.30,537.04 L317.80,537.69 L318.30,538.32 L318.80,538.90 L319.30,539.46 L319.80,539.99 L320.30,540.49 L320.80,540.96 L321.30,541.41 L321.80,541.83 L322.30,542.23 L322.80,542.61 L323.30,542.96 L323.80,543.30 L324.30,543.61 L324.80,543.91 L325.30,544.19 L325.80,544.45 L326.30,544.70 L326.80,544.93 L327.30,545.15 L327.80,545.36 L328.30,545.55 L328.80,545.73 L329.30,545.90 L329.80,546.06 L330.30,546.21 L330.80,546.35 L331.30,546.48 L331.80,546.60 L332.30,546.72 L332.80,546.82 L333.30,546.92 L333.80,547.01 L334.30,547.10 L334.80,547.18 L335.30,547.26 L335.80,547.33 L336.30,547.39 L336.80,547.45 L337.30,547.51 L337.80,547.56 L338.30,547.61 L338.80,547.66 L339.30,547.70 L339.80,547.74 L340.30,547.77 L340.80,547.81 L341.30,547.84 L341.80,547.87 L342.30,547.89 L342.80,547.92 L343.30,547.94 L343.80,547.96 L344.30,547.98 L344.80,548.00 L345.30,548.02 L345.80,548.03 L346.30,548.05 L346.80,548.06" fill="none" stroke="#ee1111" stroke-width="2" />
<path d="M32.80,548.20 L33.30,548.20 L33.80,548.20 L34.30,548.20 L34.80,548.20 L35.30,548.20 L35.80,548.20 L36.30,548.20 L36.80,548.20 L37.30,548.20 L37.80,548.20 L38.30,548.20 L38.80,548.20 L39.30,548.20 L39.80,548.20 L40.30,548.20 L40.80,548.20 L41.30,548.20 L41.80,548.20 L42.30,548.20 L42.80,548.20 L43.30,548.20 L43.80,548.20 L44.30,548.20 L44.80,548.20 L45.30,548.20 L45.80,548.20 L46.30,548.20 L46.80,548.20 L47.30,548.20 L47.80,548.20 L48.30,548.20 L48.80,548.20 L49.30,548.20 L49.80,548.20 L50.30,548.20 L50.80,548.20 L51.30,548.20 L51.80,548.20 L52.30,548.20 L52.80,548.20 L53.30,548.20 L53.80,548.20 L54.30,548.20 L54.80,548.20 L55.30,548.20 L55.80,548.20 L56.30,548.20 L56.80,548.20 L57.30,548.20 L57.80,548.20 L58.30,548.20 L58.80,548.20 L59.30,548.20 L59.80,548.20 L60.30,548.20 L60.80,548.20 L61.30,548.20 L61.80,548.20 L62.30,548.20 L62.80,548.20 L63.30,548.20 L63.80,548.20 L64.30,548.20 L64.80,548.20 L65.30,548.20 L65.80,548.20 L66.30,548.20 L66.80,548.20 L67.30,548.20 L67.80,548.20 L68.30,548.20 L68.80,548.20 L69.30,548.20 L69.80,548.20 L70.30,548.20 L70.80,548.20 L71.30,548.20 L71.80,548.20 L72.30,548.20 L72.80,548.20 L73.30,548.20 L73.80,548.20 L74.30,548.20 L74.80,548.20 L75.30,548.20 L75.80,548.20 L76.30,548.20 L76.80,548.20 L77.30,548.20 L77.80,548.20 L78.30,548.20 L78.80,548.20 L79.30,548.20 L79.80,548.20 L80.30,548.20 L80.80,548.20 L81.30,548.20 L81.80,548.20 L82.30,548.20 L82.80,548.20 L83.30,548.20 L83.80,548.20 L84.30,548.20 L84.80,548.20 L85.30,548.20 L85.80,548.20 L86.30,548.20 L86.80,548.20 L87.30,548.20 L87.80,548.20 L88.30,548.20 L88.80,548.20 L89.30,548.20 L89.80,548.20 L90.30,548.20 L90.80,548.20 L91.30,548.20 L91.80,548.20 L92.30,548.20 L92.80,548.20 L93.30,548.20 L93.80,548.20 L94.30,548.20 L94.80,548.20 L95.30,548.20 L95.80,548.20 L96.30,548.20 L96.80,548.20 L97.30,548.20 L97.80,548.20 L98.30,548.20 L98.80,548.20 L99.30,548.20 L99.80,548.20 L100.30,548.20 L100.80,548.20 L101.30,548.20 L101.80,548.20 L102.30,548.20 L102.80,548.20 L103.30,548.20 L103.80,548.20 L104.30,548.20 L104.80,548.20 L105.30,548.20 L105.80,548.20 L106.30,548.20 L106.80,548.20 L107.30,548.20 L107.80,548.20 L108.30,548.20 L108.80,548.20 L109.30,548.20 L109.80,548.20 L110.30,548.20 L110.80,548.20 L111.30,548.20 L111.80,548.20 L112.30,548.20 L112.80,548.20 L113.30,548.20 L113.80,548.20 L114.30,548.20 L114.80,548.20 L115.30,548.20 L115.80,548.20 L116.30,548.20 L116.80,548.20 L117.30,548.20 L117.80,548.20 L118.30,548.20 L118.80,548.20 L119.30,548.20 L119.80,548.20 L120.30,548.20 L120.80,548.20 L121.30,548.20 L121.80,548.20 L122.30,548.20 L122.80,548.20 L123.30,548.20 L123.80,548.20 L124.30,548.20 L124.80,548.20 L125.30,548.20 L125.80,548.20 L126.30,548.20 L126.80,548.20 L127.30,548.20 L127.80,548.20 L128.30,548.20 L128.80,548.20 L129.30,548.20 L129.80,548.20 L130.30,548.20 L130.80,548.20 L131.30,548.20 L131.80,548.20 L132.30,548.20 L132.80,548.20 L133.30,548.20 L133.80,548.20 L134.30,548.20 L134.80,548.20 L135.30,548.20 L135.80,548.20 L136.30,548.20 L136.80,548.20 L137.30,548.20 L137.80,548.20 L138.30,548.20 L138.80,548.20 L139.30,548.20 L139.80,548.20 L140.30,548.20 L140.80,548.20 L141.30,548.20 L141.80,548.20 L142.30,548.20 L142.80,548.20 L143.30,548.20 L143.80,548.20 L144.30,548.20 L144.80,548.20 L145.30,548.20 L145.80,548.20 L146.30,548.20 L146.80,548.20 L147.30,548.20 L147.80,548.20 L148.30,548.20 L148.80,548.20 L149.30,548.20 L149.80,548.20 L150.30,548.20 L150.80,548.20 L151.30,548.20 L151.80,548.20 L152.30,548.20 L152.80,548.20 L153.30,548.20 L153.80,548.20 L154.30,548.20 L154.80,548.20 L155.30,548.20 L155.80,548.20 L156.30,548.20 L156.80,548.20 L157.30,548.20 L157.80,548.20 L158.30,548.20 L158.80,548.20 L159.30,548.20 L159.80,548.20 L160.30,548.20 L160.80,548.20 L161.30,548.20 L161.80,548.20 L162.30,548.20 L162.80,548.20 L163.30,548.20 L163.80,548.20 L164.30,548.20 L164.80,548.20 L165.30,548.20 L165.80,548.20 L166.30,548.20 L166.80,548.20 L167.30,548.20 L167.80,548.20 L168.30,548.20 L168.80,548.20 L169.30,548.20 L169.80,548.20 L170.30,548.20 L170.80,548.20 L171.30,548.20 L171.80,548.20 L172.30,548.20 L172.80,548.20 L173.30,548.20 L173.80,548.20 L174.30,548.20 L174.80,548.20 L175.30,548.20 L175.80,548.20 L176.30,548.20 L176.80,548.20 L177.30,548.20 L177.80,548.20 L178.30,548.19 L178.80,548.19 L179.30,548.19 L179.80,548.19 L180.30,548.19 L180.80,548.19 L181.30,548.19 L181.80,548.19 L182.30,548.19 L182.80,548.19 L183.30,548.18 L183.80,548.18 L184.30,548.18 L184.80,548.18 L185.30,548.18 L185.80,548.17 L186.30,548.17 L186.80,548.17 L187.30,548.16 L187.80,548.16 L188.30,548.16 L188.80,548.15 L189.30,548.15 L189.80,548.14 L190.30,548.13 L190.80,548.13 L191.30,548.12 L191.80,548.11 L192.30,548.10 L192.80,548.09 L193.30,548.08 L193.80,548.07 L194.30,548.06 L194.80,548.04 L195.30,548.03 L195.80,548.01 L196.30,547.99 L196.80,547.97 L197.30,547.95 L197.80,547.93 L198.30,547.90 L198.80,547.88 L199.30,547.85 L199.80,547.82 L200.30,547.78 L200.80,547.74 L201.30,547.70 L201.80,547.66 L202.30,547.61 L202.80,547.56 L203.30,547.50 L203.80,547.44 L204.30,547.38 L204.80,547.31 L205.30,547.24 L205.80,547.16 L206.30,547.07 L206.80,546.98 L207.30,546.88 L207.80,546.78 L208.30,546.66 L208.80,546.54 L209.30,546.41 L209.80,546.27 L210.30,546.13 L210.80,545.97 L211.30,545.80 L211.80,545.62 L212.30,545.43 L212.80,545.23 L213.30,545.01 L213.80,544.78 L214.30,544.54 L214.80,544.28 L215.30,544.01 L215.80,543.72 L216.30,543.41 L216.80,543.09 L217.30,542.75 L217.80,542.39 L218.30,542.01 L218.80,541.61 L219.30,541.18 L219.80,540.74 L220.30,540.27 L220.80,539.78 L221.30,539.27 L221.80,538.73 L222.30,538.17 L222.80,537.58 L223.30,536.96 L223.80,536.32 L224.30,535.65 L224.80,534.96 L225.30,534.23 L225.80,533.48 L226.30,532.70 L226.80,531.89 L227.30,531.05 L227.80,530.19 L228.30,529.30 L228.80,528.38 L229.30,527.44 L229.80,526.47 L230.30,525.47 L230.80,524.46 L231.30,523.42 L231.80,522.37 L232.30,521.29 L232.80,520.20 L233.30,519.10 L233.80,517.99 L234.30,516.87 L234.80,515.74 L235.30,514.62 L235.80,513.49 L236.30,512.37 L236.80,511.27 L237.30,510.17 L237.80,509.09 L238.30,508.04 L238.80,507.02 L239.30,506.02 L239.80,505.06 L240.30,504.15 L240.80,503.27 L241.30,502.45 L241.80,501.69 L242.30,500.98 L242.80,500.33 L243.30,499.75 L243.80,499.25 L244.30,498.81 L244.80,498.45 L245.30,498.17 L245.80,497.96 L246.30,497.84 L246.80,497.80 L247.30,497.84 L247.80,497.96 L248.30,498.17 L248.80,498.45 L249.30,498.81 L249.80,499.25 L250.30,499.75 L250.80,500.33 L251.30,500.98 L251.80,501.69 L252.30,502.45 L252.80,503.27 L253.30,504.15 L253.80,505.06 L254.30,506.02 L254.80,507.02 L255.30,508.04 L255.80,509.09 L256.30,510.17 L256.80,511.27 L257.30,512.37 L257.80,513.49 L258.30,514.62 L258.80,515.74 L259.30,516.87 L259.80,517.99 L260.30,519.10 L260.80,520.20 L261.30,521.29 L261.80,522.37 L262.30,523.42 L262.80,524.46 L263.30,525.47 L263.80,526.47 L264.30,527.44 L264.80,528.38 L265.30,529.30 L265.80,530.19 L266.30,531.05 L266.80,531.89 L267.30,532.70 L267.80,533.48 L268.30,534.23 L268.80,534.96 L269.30,535.65 L269.80,536.32 L270.30,536.96 L270.80,537.58 L271.30,538.17 L271.80,538.73 L272.30,539.27 L272.80,539.78 L273.30,540.27 L273.80,540.74 L274.30,541.18 L274.80,541.61 L275.30,542.01 L275.80,542.39 L276.30,542.75 L276.80,543.09 L277.30,543.41 L277.80,543.72 L278.30,544.01 L278.80,544.28 L279.30,544.54 L279.80,544.78 L280.30,545.01 L280.80,545.23 L281.30,545.43 L281.80,545.62 L282.30,545.80 L282.80,545.97 L283.30,546.13 L283.80,546.27 L284.30,546.41 L284.80,546.54 L285.30,546.66 L285.80,546.78 L286.30,546.88 L286.80,546.98 L287.30,547.07 L287.80,547.16 L288.30,547.24 L288.80,547.31 L289.30,547.38 L289.80,547.44 L290.30,547.50 L290.80,547.56 L291.30,547.61 L291.80,547.66 L292.30,547.70 L292.80,547.74 L293.30,547.78 L293.80,547.82 L294.30,547.85 L294.80,547.88 L295.30,547.90 L295.80,547.93 L296.30,547.95 L296.80,547.97 L297.30,547.99 L297.80,548.01 L298.30,548.03 L298.80,548.04 L299.30,548.06 L299.80,548.07 L300.30,548.08 L300.80,548.09 L301.30,548.10 L301.80,548.11 L302.30,548.12 L302.80,548.13 L303.30,548.13 L303.80,548.14 L304.30,548.15 L304.80,548.15 L305.30,548.16 L305.80,548.16 L306.30,548.16 L306.80,548.17 L307.30,548.17 L307.80,548.17 L308.30,548.18 L308.80,548.18 L309.30,548.18 L309.80,548.18 L310.30,548.18 L310.80,548.19 L311.30,548.19 L311.80,548.19 L312.30,548.19 L312.80,548.19 L313.30,548.19 L313.80,548.19 L314.30,548.19 L314.80,548.19 L315.30,548.19 L315.80,548.20 L316.30,548.20 L316.80,548.20 L317.30,548.20 L317.80,548.20 L318.30,548.20 L318.80,548.20 L319.30,548.20 L319.80,548.20 L320.30,548.20 L320.80,548.20 L321.30,548.20 L321.80,548.20 L322.30,548.20 L322.80,548.20 L323.30,548.20 L323.80,548.20 L324.30,548.20 L324.80,548.20 L325.30,548.20 L325.80,548.20 L326.30,548.20 L326.80,548.20 L327.30,548.20 L327.80,548.20 L328.30,548.20 L328.80,548.20 L329.30,548.20 L329.80,548.20 L330.30,548.20 L330.80,548.20 L331.30,548.20 L331.80,548.20 L332.30,548.20 L332.80,548.20 L333.30,548.20 L333.80,548.20 L334.30,548.20 L334.80,548.20 L335.30,548.20 L335.80,548.20 L336.30,548.20 L336.80,548.20 L337.30,548.20 L337.80,548.20 L338.30,548.20 L338.80,548.20 L339.30,548.20 L339.80,548.20 L340.30,548.20 L340.80,548.20 L341.30,548.20 L341.80,548.20 L342.30,548.20 L342.80,548.20 L343.30,548.20 L343.80,548.20 L344.30,548.20 L344.80,548.20 L345.30,548.20 L345.80,548.20 L346.30,548.20 L346.80,548.20" fill="none" stroke="#1a1ae0" stroke-width="2" />
<path d="M32.80,548.20 L33.30,548.20 L33.80,548.20 L34.30,548.20 L34.80,548.20 L35.30,548.20 L35.80,548.20 L36.30,548.19 L36.80,548.19 L37.30,548.19 L37.80,548.19 L38.30,548.19 L38.80,548.19 L39.30,548.19 L39.80,548.19 L40.30,548.19 L40.80,548.19 L41.30,548.19 L41.80,548.18 L42.30,548.18 L42.80,548.18 L43.30,548.18 L43.80,548.18 L44.30,548.17 L44.80,548.17 L45.30,548.17 L45.80,548.16 L46.30,548.16 L46.80,548.16 L47.30,548.15 L47.80,548.15 L48.30,548.14 L48.80,548.14 L49.30,548.13 L49.80,548.13 L50.30,548.12 L50.80,548.11 L51.30,548.10 L51.80,548.10 L52.30,548.09 L52.80,548.08 L53.30,548.06 L53.80,548.05 L54.30,548.04 L54.80,548.02 L55.30,548.01 L55.80,547.99 L56.30,547.97 L56.80,547.95 L57.30,547.93 L57.80,547.91 L58.30,547.89 L58.80,547.86 L59.30,547.83 L59.80,547.80 L60.30,547.77 L60.80,547.73 L61.30,547.69 L61.80,547.65 L62.30,547.61 L62.80,547.56 L63.30,547.51 L63.80,547.46 L64.30,547.40 L64.80,547.33 L65.30,547.27 L65.80,547.20 L66.30,547.12 L66.80,547.04 L67.30,546.95 L67.80,546.86 L68.30,546.76 L68.80,546.65 L69.30,546.54 L69.80,546.41 L70.30,546.29 L70.80,546.15 L71.30,546.00 L71.80,545.85 L72.30,545.68 L72.80,545.51 L73.30,545.32 L73.80,545.12 L74.30,544.92 L74.80,544.69 L75.30,544.46 L75.80,544.21 L76.30,543.95 L76.80,543.67 L77.30,543.38 L77.80,543.07 L78.30,542.74 L78.80,542.39 L79.30,542.03 L79.80,541.64 L80.30,541.24 L80.80,540.81 L81.30,540.37 L81.80,539.90 L82.30,539.40 L82.80,538.88 L83.30,538.34 L83.80,537.77 L84.30,537.17 L84.80,536.54 L85.30,535.89 L85.80,535.20 L86.30,534.49 L86.80,533.74 L87.30,532.96 L87.80,532.14 L88.30,531.29 L88.80,530.41 L89.30,529.49 L89.80,528.54 L90.30,527.54 L90.80,526.52 L91.30,525.45 L91.80,524.34 L92.30,523.20 L92.80,522.01 L93.30,520.79 L93.80,519.53 L94.30,518.23 L94.80,516.89 L95.30,515.51 L95.80,514.09 L96.30,512.64 L96.80,511.15 L97.30,509.62 L97.80,508.06 L98.30,506.47 L98.80,504.84 L99.30,503.19 L99.80,501.51 L100.30,499.80 L100.80,498.07 L101.30,496.32 L101.80,494.55 L102.30,492.78 L102.80,490.99 L103.30,489.19 L103.80,487.39 L104.30,485.60 L104.80,483.81 L105.30,482.04 L105.80,480.28 L106.30,478.54 L106.80,476.83 L107.30,475.15 L107.80,473.51 L108.30,471.91 L108.80,470.36 L109.30,468.87 L109.80,467.44 L110.30,466.07 L110.80,464.78 L111.30,463.56 L111.80,462.43 L112.30,461.38 L112.80,460.42 L113.30,459.57 L113.80,458.81 L114.30,458.15 L114.80,457.60 L115.30,457.16 L115.80,456.83 L116.30,456.61 L116.80,456.51 L117.30,456.52 L117.80,456.65 L118.30,456.89 L118.80,457.24 L119.30,457.70 L119.80,458.27 L120.30,458.95 L120.80,459.73 L121.30,460.61 L121.80,461.58 L122.30,462.65 L122.80,463.80 L123.30,465.03 L123.80,466.34 L124.30,467.72 L124.80,469.17 L125.30,470.67 L125.80,472.23 L126.30,473.83 L126.80,475.48 L127.30,477.17 L127.80,478.88 L128.30,480.63 L128.80,482.39 L129.30,484.17 L129.80,485.96 L130.30,487.75 L130.80,489.55 L131.30,491.34 L131.80,493.13 L132.30,494.91 L132.80,496.67 L133.30,498.42 L133.80,500.14 L134.30,501.84 L134.80,503.52 L135.30,505.17 L135.80,506.79 L136.30,508.37 L136.80,509.93 L137.30,511.45 L137.80,512.93 L138.30,514.38 L138.80,515.79 L139.30,517.16 L139.80,518.49 L140.30,519.78 L140.80,521.04 L141.30,522.25 L141.80,523.43 L142.30,524.57 L142.80,525.66 L143.30,526.72 L143.80,527.75 L144.30,528.73 L144.80,529.68 L145.30,530.59 L145.80,531.47 L146.30,532.31 L146.80,533.12 L147.30,533.89 L147.80,534.63 L148.30,535.34 L148.80,536.02 L149.30,536.67 L149.80,537.29 L150.30,537.88 L150.80,538.45 L151.30,538.99 L151.80,539.50 L152.30,539.99 L152.80,540.46 L153.30,540.90 L153.80,541.32 L154.30,541.72 L154.80,542.10 L155.30,542.46 L155.80,542.80 L156.30,543.13 L156.80,543.44 L157.30,543.73 L157.80,544.00 L158.30,544.26 L158.80,544.51 L159.30,544.74 L159.80,544.96 L160.30,545.16 L160.80,545.36 L161.30,545.54 L161.80,545.72 L162.30,545.88 L162.80,546.03 L163.30,546.18 L163.80,546.31 L164.30,546.44 L164.80,546.56 L165.30,546.67 L165.80,546.78 L166.30,546.87 L166.80,546.97 L167.30,547.05 L167.80,547.13 L168.30,547.21 L168.80,547.28 L169.30,547.35 L169.80,547.41 L170.30,547.47 L170.80,547.52 L171.30,547.57 L171.80,547.62 L172.30,547.66 L172.80,547.70 L173.30,547.74 L173.80,547.77 L174.30,547.81 L174.80,547.84 L175.30,547.86 L175.80,547.89 L176.30,547.92 L176.80,547.94 L177.30,547.96 L177.80,547.98 L178.30,548.00 L178.80,548.01 L179.30,548.03 L179.80,548.04 L180.30,548.05 L180.80,548.07 L181.30,548.08 L181.80,548.09 L182.30,548.10 L182.80,548.11 L183.30,548.11 L183.80,548.12 L184.30,548.13 L184.80,548.13 L185.30,548.14 L185.80,548.14 L186.30,548.15 L186.80,548.15 L187.30,548.16 L187.80,548.16 L188.30,548.17 L188.80,548.17 L189.30,548.17 L189.80,548.17 L190.30,548.18 L190.80,548.18 L191.30,548.18 L191.80,548.18 L192.30,548.18 L192.80,548.19 L193.30,548.19 L193.80,548.19 L194.30,548.19 L194.80,548.19 L195.30,548.19 L195.80,548.19 L196.30,548.19 L196.80,548.19 L197.30,548.19 L197.80,548.19 L198.30,548.20 L198.80,548.20 L199.30,548.20 L199.80,548.20 L200.30,548.20 L200.80,548.20 L201.30,548.20 L201.80,548.20 L202.30,548.20 L202.80,548.20 L203.30,548.20 L203.80,548.20 L204.30,548.20 L204.80,548.20 L205.30,548.20 L205.80,548.20 L206.30,548.20 L206.80,548.20 L207.30,548.20 L207.80,548.20 L208.30,548.20 L208.80,548.20 L209.30,548.20 L209.80,548.20 L210.30,548.20 L210.80,548.20 L211.30,548.20 L211.80,548.20 L212.30,548.20 L212.80,548.20 L213.30,548.20 L213.80,548.20 L214.30,548.20 L214.80,548.20 L215.30,548.20 L215.80,548.20 L216.30,548.20 L216.80,548.20 L217.30,548.20 L217.80,548.20 L218.30,548.20 L218.80,548.20 L219.30,548.20 L219.80,548.20 L220.30,548.20 L220.80,548.20 L221.30,548.20 L221.80,548.20 L222.30,548.20 L222.80,548.20 L223.30,548.20 L223.80,548.20 L224.30,548.20 L224.80,548.20 L225.30,548.20 L225.80,548.20 L226.30,548.20 L226.80,548.20 L227.30,548.20 L227.80,548.20 L228.30,548.20 L228.80,548.20 L229.30,548.20 L229.80,548.20 L230.30,548.20 L230.80,548.20 L231.30,548.20 L231.80,548.20 L232.30,548.20 L232.80,548.20 L233.30,548.20 L233.80,548.20 L234.30,548.20 L234.80,548.20 L235.30,548.20 L235.80,548.20 L236.30,548.20 L236.80,548.20 L237.30,548.20 L237.80,548.20 L238.30,548.20 L238.80,548.20 L239.30,548.20 L239.80,548.20 L240.30,548.20 L240.80,548.20 L241.30,548.20 L241.80,548.20 L242.30,548.20 L242.80,548.20 L243.30,548.20 L243.80,548.20 L244.30,548.20 L244.80,548.20 L245.30,548.20 L245.80,548.20 L246.30,548.20 L246.80,548.20 L247.30,548.20 L247.80,548.20 L248.30,548.20 L248.80,548.20 L249.30,548.20 L249.80,548.20 L250.30,548.20 L250.80,548.20 L251.30,548.20 L251.80,548.20 L252.30,548.20 L252.80,548.20 L253.30,548.20 L253.80,548.20 L254.30,548.20 L254.80,548.20 L255.30,548.20 L255.80,548.20 L256.30,548.20 L256.80,548.20 L257.30,548.20 L257.80,548.20 L258.30,548.20 L258.80,548.20 L259.30,548.20 L259.80,548.20 L260.30,548.20 L260.80,548.20 L261.30,548.20 L261.80,548.20 L262.30,548.20 L262.80,548.20 L263.30,548.20 L263.80,548.20 L264.30,548.20 L264.80,548.20 L265.30,548.20 L265.80,548.20 L266.30,548.20 L266.80,548.20 L267.30,548.20 L267.80,548.20 L268.30,548.20 L268.80,548.20 L269.30,548.20 L269.80,548.20 L270.30,548.20 L270.80,548.20 L271.30,548.20 L271.80,548.20 L272.30,548.20 L272.80,548.20 L273.30,548.20 L273.80,548.20 L274.30,548.20 L274.80,548.20 L275.30,548.20 L275.80,548.20 L276.30,548.20 L276.80,548.20 L277.30,548.20 L277.80,548.20 L278.30,548.20 L278.80,548.20 L279.30,548.20 L279.80,548.20 L280.30,548.20 L280.80,548.20 L281.30,548.20 L281.80,548.20 L282.30,548.20 L282.80,548.20 L283.30,548.20 L283.80,548.20 L284.30,548.20 L284.80,548.20 L285.30,548.20 L285.80,548.20 L286.30,548.20 L286.80,548.20 L287.30,548.20 L287.80,548.20 L288.30,548.20 L288.80,548.20 L289.30,548.20 L289.80,548.20 L290.30,548.20 L290.80,548.20 L291.30,548.20 L291.80,548.20 L292.30,548.20 L292.80,548.20 L293.30,548.20 L293.80,548.20 L294.30,548.20 L294.80,548.20 L295.30,548.20 L295.80,548.20 L296.30,548.20 L296.80,548.20 L297.30,548.20 L297.80,548.20 L298.30,548.20 L298.80,548.20 L299.30,548.20 L299.80,548.20 L300.30,548.20 L300.80,548.20 L301.30,548.20 L301.80,548.20 L302.30,548.20 L302.80,548.20 L303.30,548.20 L303.80,548.20 L304.30,548.20 L304.80,548.20 L305.30,548.20 L305.80,548.20 L306.30,548.20 L306.80,548.20 L307.30,548.20 L307.80,548.20 L308.30,548.20 L308.80,548.20 L309.30,548.20 L309.80,548.20 L310.30,548.20 L310.80,548.20 L311.30,548.20 L311.80,548.20 L312.30,548.20 L312.80,548.20 L313.30,548.20 L313.80,548.20 L314.30,548.20 L314.80,548.20 L315.30,548.20 L315.80,548.20 L316.30,548.20 L316.80,548.20 L317.30,548.20 L317.80,548.20 L318.30,548.20 L318.80,548.20 L319.30,548.20 L319.80,548.20 L320.30,548.20 L320.80,548.20 L321.30,548.20 L321.80,548.20 L322.30,548.20 L322.80,548.20 L323.30,548.20 L323.80,548.20 L324.30,548.20 L324.80,548.20 L325.30,548.20 L325.80,548.20 L326.30,548.20 L326.80,548.20 L327.30,548.20 L327.80,548.20 L328.30,548.20 L328.80,548.20 L329.30,548.20 L329.80,548.20 L330.30,548.20 L330.80,548.20 L331.30,548.20 L331.80,548.20 L332.30,548.20 L332.80,548.20 L333.30,548.20 L333.80,548.20 L334.30,548.20 L334.80,548.20 L335.30,548.20 L335.80,548.20 L336.30,548.20 L336.80,548.20 L337.30,548.20 L337.80,548.20 L338.30,548.20 L338.80,548.20 L339.30,548.20 L339.80,548.20 L340.30,548.20 L340.80,548.20 L341.30,548.20 L341.80,548.20 L342.30,548.20 L342.80,548.20 L343.30,548.20 L343.80,548.20 L344.30,548.20 L344.80,548.20 L345.30,548.20 L345.80,548.20 L346.30,548.20 L346.80,548.20" fill="none" stroke="#1a7070" stroke-width="2" />
<path d="M32.80,548.15 L33.30,548.14 L33.80,548.14 L34.30,548.13 L34.80,548.12 L35.30,548.11 L35.80,548.11 L36.30,548.10 L36.80,548.09 L37.30,548.07 L37.80,548.06 L38.30,548.05 L38.80,548.03 L39.30,548.02 L39.80,548.00 L40.30,547.98 L40.80,547.96 L41.30,547.94 L41.80,547.92 L42.30,547.89 L42.80,547.87 L43.30,547.84 L43.80,547.80 L44.30,547.77 L44.80,547.73 L45.30,547.69 L45.80,547.65 L46.30,547.60 L46.80,547.55 L47.30,547.50 L47.80,547.44 L48.30,547.38 L48.80,547.31 L49.30,547.24 L49.80,547.17 L50.30,547.08 L50.80,547.00 L51.30,546.90 L51.80,546.81 L52.30,546.70 L52.80,546.59 L53.30,546.47 L53.80,546.34 L54.30,546.21 L54.80,546.06 L55.30,545.91 L55.80,545.75 L56.30,545.58 L56.80,545.40 L57.30,545.21 L57.80,545.01 L58.30,544.79 L58.80,544.57 L59.30,544.33 L59.80,544.08 L60.30,543.82 L60.80,543.55 L61.30,543.26 L61.80,542.96 L62.30,542.65 L62.80,542.32 L63.30,541.97 L63.80,541.62 L64.30,541.24 L64.80,540.85 L65.30,540.45 L65.80,540.03 L66.30,539.60 L66.80,539.15 L67.30,538.69 L67.80,538.21 L68.30,537.72 L68.80,537.22 L69.30,536.70 L69.80,536.18 L70.30,535.64 L70.80,535.09 L71.30,534.53 L71.80,533.96 L72.30,533.39 L72.80,532.81 L73.30,532.23 L73.80,531.64 L74.30,531.06 L74.80,530.48 L75.30,529.90 L75.80,529.33 L76.30,528.77 L76.80,528.22 L77.30,527.68 L77.80,527.16 L78.30,526.66 L78.80,526.18 L79.30,525.72 L79.80,525.30 L80.30,524.89 L80.80,524.52 L81.30,524.19 L81.80,523.89 L82.30,523.62 L82.80,523.40 L83.30,523.21 L83.80,523.07 L84.30,522.97 L84.80,522.91 L85.30,522.90 L85.80,522.93 L86.30,523.01 L86.80,523.12 L87.30,523.28 L87.80,523.48 L88.30,523.72 L88.80,524.00 L89.30,524.32 L89.80,524.67 L90.30,525.05 L90.80,525.46 L91.30,525.90 L91.80,526.37 L92.30,526.86 L92.80,527.37 L93.30,527.90 L93.80,528.44 L94.30,528.99 L94.80,529.56 L95.30,530.13 L95.80,530.71 L96.30,531.29 L96.80,531.88 L97.30,532.46 L97.80,533.04 L98.30,533.62 L98.80,534.19 L99.30,534.75 L99.80,535.31 L100.30,535.85 L100.80,536.39 L101.30,536.91 L101.80,537.42 L102.30,537.92 L102.80,538.41 L103.30,538.88 L103.80,539.33 L104.30,539.78 L104.80,540.20 L105.30,540.61 L105.80,541.01 L106.30,541.39 L106.80,541.76 L107.30,542.11 L107.80,542.45 L108.30,542.77 L108.80,543.08 L109.30,543.38 L109.80,543.66 L110.30,543.93 L110.80,544.19 L111.30,544.43 L111.80,544.66 L112.30,544.88 L112.80,545.09 L113.30,545.28 L113.80,545.47 L114.30,545.65 L114.80,545.81 L115.30,545.97 L115.80,546.12 L116.30,546.26 L116.80,546.39 L117.30,546.52 L117.80,546.63 L118.30,546.74 L118.80,546.85 L119.30,546.94 L119.80,547.03 L120.30,547.12 L120.80,547.20 L121.30,547.27 L121.80,547.34 L122.30,547.40 L122.80,547.46 L123.30,547.52 L123.80,547.57 L124.30,547.62 L124.80,547.67 L125.30,547.71 L125.80,547.75 L126.30,547.78 L126.80,547.82 L127.30,547.85 L127.80,547.88 L128.30,547.90 L128.80,547.93 L129.30,547.95 L129.80,547.97 L130.30,547.99 L130.80,548.01 L131.30,548.03 L131.80,548.04 L132.30,548.05 L132.80,548.07 L133.30,548.08 L133.80,548.09 L134.30,548.10 L134.80,548.11 L135.30,548.12 L135.80,548.12 L136.30,548.13 L136.80,548.14 L137.30,548.14 L137.80,548.15 L138.30,548.15 L138.80,548.16 L139.30,548.16 L139.80,548.17 L140.30,548.17 L140.80,548.17 L141.30,548.18 L141.80,548.18 L142.30,548.18 L142.80,548.18 L143.30,548.18 L143.80,548.19 L144.30,548.19 L144.80,548.19 L145.30,548.19 L145.80,548.19 L146.30,548.19 L146.80,548.19 L147.30,548.19 L147.80,548.19 L148.30,548.19 L148.80,548.20 L149.30,548.20 L149.80,548.20 L150.30,548.20 L150.80,548.20 L151.30,548.20 L151.80,548.20 L152.30,548.20 L152.80,548.20 L153.30,548.20 L153.80,548.20 L154.30,548.20 L154.80,548.20 L155.30,548.20 L155.80,548.20 L156.30,548.20 L156.80,548.20 L157.30,548.20 L157.80,548.20 L158.30,548.20 L158.80,548.20 L159.30,548.20 L159.80,548.20 L160.30,548.20 L160.80,548.20 L161.30,548.20 L161.80,548.20 L162.30,548.20 L162.80,548.20 L163.30,548.20 L163.80,548.20 L164.30,548.20 L164.80,548.20 L165.30,548.20 L165.80,548.20 L166.30,548.20 L166.80,548.20 L167.30,548.20 L167.80,548.20 L168.30,548.20 L168.80,548.20 L169.30,548.20 L169.80,548.20 L170.30,548.20 L170.80,548.20 L171.30,548.20 L171.80,548.20 L172.30,548.20 L172.80,548.20 L173.30,548.20 L173.80,548.20 L174.30,548.20 L174.80,548.20 L175.30,548.20 L175.80,548.20 L176.30,548.20 L176.80,548.20 L177.30,548.20 L177.80,548.20 L178.30,548.20 L178.80,548.20 L179.30,548.20 L179.80,548.20 L180.30,548.20 L180.80,548.20 L181.30,548.20 L181.80,548.20 L182.30,548.20 L182.80,548.20 L183.30,548.20 L183.80,548.20 L184.30,548.20 L184.80,548.20 L185.30,548.20 L185.80,548.20 L186.30,548.20 L186.80,548.20 L187.30,548.20 L187.80,548.20 L188.30,548.20 L188.80,548.20 L189.30,548.20 L189.80,548.20 L190.30,548.20 L190.80,548.20 L191.30,548.20 L191.80,548.20 L192.30,548.20 L192.80,548.20 L193.30,548.20 L193.80,548.20 L194.30,548.20 L194.80,548.20 L195.30,548.20 L195.80,548.20 L196.30,548.20 L196.80,548.20 L197.30,548.20 L197.80,548.20 L198.30,548.20 L198.80,548.20 L199.30,548.20 L199.80,548.20 L200.30,548.20 L200.80,548.20 L201.30,548.20 L201.80,548.20 L202.30,548.20 L202.80,548.20 L203.30,548.20 L203.80,548.20 L204.30,548.20 L204.80,548.20 L205.30,548.20 L205.80,548.20 L206.30,548.20 L206.80,548.20 L207.30,548.20 L207.80,548.20 L208.30,548.20 L208.80,548.20 L209.30,548.20 L209.80,548.20 L210.30,548.20 L210.80,548.20 L211.30,548.20 L211.80,548.20 L212.30,548.20 L212.80,548.20 L213.30,548.20 L213.80,548.20 L214.30,548.20 L214.80,548.20 L215.30,548.20 L215.80,548.20 L216.30,548.20 L216.80,548.20 L217.30,548.20 L217.80,548.20 L218.30,548.20 L218.80,548.20 L219.30,548.20 L219.80,548.20 L220.30,548.20 L220.80,548.20 L221.30,548.20 L221.80,548.20 L222.30,548.20 L222.80,548.20 L223.30,548.20 L223.80,548.20 L224.30,548.20 L224.80,548.20 L225.30,548.20 L225.80,548.20 L226.30,548.20 L226.80,548.20 L227.30,548.20 L227.80,548.20 L228.30,548.20 L228.80,548.20 L229.30,548.20 L229.80,548.20 L230.30,548.20 L230.80,548.20 L231.30,548.20 L231.80,548.20 L232.30,548.20 L232.80,548.20 L233.30,548.20 L233.80,548.20 L234.30,548.20 L234.80,548.20 L235.30,548.20 L235.80,548.20 L236.30,548.20 L236.80,548.20 L237.30,548.20 L237.80,548.20 L238.30,548.20 L238.80,548.20 L239.30,548.20 L239.80,548.20 L240.30,548.20 L240.80,548.20 L241.30,548.20 L241.80,548.20 L242.30,548.20 L242.80,548.20 L243.30,548.20 L243.80,548.20 L244.30,548.20 L244.80,548.20 L245.30,548.20 L245.80,548.20 L246.30,548.20 L246.80,548.20 L247.30,548.20 L247.80,548.20 L248.30,548.20 L248.80,548.20 L249.30,548.20 L249.80,548.20 L250.30,548.20 L250.80,548.20 L251.30,548.20 L251.80,548.20 L252.30,548.20 L252.80,548.20 L253.30,548.20 L253.80,548.20 L254.30,548.20 L254.80,548.20 L255.30,548.20 L255.80,548.20 L256.30,548.20 L256.80,548.20 L257.30,548.20 L257.80,548.20 L258.30,548.20 L258.80,548.20 L259.30,548.20 L259.80,548.20 L260.30,548.20 L260.80,548.20 L261.30,548.20 L261.80,548.20 L262.30,548.20 L262.80,548.20 L263.30,548.20 L263.80,548.20 L264.30,548.20 L264.80,548.20 L265.30,548.20 L265.80,548.20 L266.30,548.20 L266.80,548.20 L267.30,548.20 L267.80,548.20 L268.30,548.20 L268.80,548.20 L269.30,548.20 L269.80,548.20 L270.30,548.20 L270.80,548.20 L271.30,548.20 L271.80,548.20 L272.30,548.20 L272.80,548.20 L273.30,548.20 L273.80,548.20 L274.30,548.20 L274.80,548.20 L275.30,548.20 L275.80,548.20 L276.30,548.20 L276.80,548.20 L277.30,548.20 L277.80,548.20 L278.30,548.20 L278.80,548.20 L279.30,548.20 L279.80,548.20 L280.30,548.20 L280.80,548.20 L281.30,548.20 L281.80,548.20 L282.30,548.20 L282.80,548.20 L283.30,548.20 L283.80,548.20 L284.30,548.20 L284.80,548.20 L285.30,548.20 L285.80,548.20 L286.30,548.20 L286.80,548.20 L287.30,548.20 L287.80,548.20 L288.30,548.20 L288.80,548.20 L289.30,548.20 L289.80,548.20 L290.30,548.20 L290.80,548.20 L291.30,548.20 L291.80,548.20 L292.30,548.20 L292.80,548.20 L293.30,548.20 L293.80,548.20 L294.30,548.20 L294.80,548.20 L295.30,548.20 L295.80,548.20 L296.30,548.20 L296.80,548.20 L297.30,548.20 L297.80,548.20 L298.30,548.20 L298.80,548.20 L299.30,548.20 L299.80,548.20 L300.30,548.20 L300.80,548.20 L301.30,548.20 L301.80,548.20 L302.30,548.20 L302.80,548.20 L303.30,548.20 L303.80,548.20 L304.30,548.20 L304.80,548.20 L305.30,548.20 L305.80,548.20 L306.30,548.20 L306.80,548.20 L307.30,548.20 L307.80,548.20 L308.30,548.20 L308.80,548.20 L309.30,548.20 L309.80,548.20 L310.30,548.20 L310.80,548.20 L311.30,548.20 L311.80,548.20 L312.30,548.20 L312.80,548.20 L313.30,548.20 L313.80,548.20 L314.30,548.20 L314.80,548.20 L315.30,548.20 L315.80,548.20 L316.30,548.20 L316.80,548.20 L317.30,548.20 L317.80,548.20 L318.30,548.20 L318.80,548.20 L319.30,548.20 L319.80,548.20 L320.30,548.20 L320.80,548.20 L321.30,548.20 L321.80,548.20 L322.30,548.20 L322.80,548.20 L323.30,548.20 L323.80,548.20 L324.30,548.20 L324.80,548.20 L325.30,548.20 L325.80,548.20 L326.30,548.20 L326.80,548.20 L327.30,548.20 L327.80,548.20 L328.30,548.20 L328.80,548.20 L329.30,548.20 L329.80,548.20 L330.30,548.20 L330.80,548.20 L331.30,548.20 L331.80,548.20 L332.30,548.20 L332.80,548.20 L333.30,548.20 L333.80,548.20 L334.30,548.20 L334.80,548.20 L335.30,548.20 L335.80,548.20 L336.30,548.20 L336.80,548.20 L337.30,548.20 L337.80,548.20 L338.30,548.20 L338.80,548.20 L339.30,548.20 L339.80,548.20 L340.30,548.20 L340.80,548.20 L341.30,548.20 L341.80,548.20 L342.30,548.20 L342.80,548.20 L343.30,548.20 L343.80,548.20 L344.30,548.20 L344.80,548.20 L345.30,548.20 L345.80,548.20 L346.30,548.20 L346.80,548.20" fill="none" stroke="#ff11ff" stroke-width="2" />
<line x1="71" y1="548.2" x2="123" y2="548.2" stroke="#1a1ae0" stroke-width="2"/>
<path d="M32.80,548.14 L33.30,548.14 L33.80,548.13 L34.30,548.13 L34.80,548.12 L35.30,548.11 L35.80,548.10 L36.30,548.09 L36.80,548.08 L37.30,548.07 L37.80,548.06 L38.30,548.04 L38.80,548.03 L39.30,548.01 L39.80,547.99 L40.30,547.97 L40.80,547.95 L41.30,547.93 L41.80,547.90 L42.30,547.88 L42.80,547.85 L43.30,547.81 L43.80,547.78 L44.30,547.74 L44.80,547.70 L45.30,547.66 L45.80,547.61 L46.30,547.56 L46.80,547.51 L47.30,547.45 L47.80,547.39 L48.30,547.32 L48.80,547.25 L49.30,547.17 L49.80,547.09 L50.30,547.00 L50.80,546.91 L51.30,546.81 L51.80,546.70 L52.30,546.59 L52.80,546.46 L53.30,546.33 L53.80,546.19 L54.30,546.04 L54.80,545.89 L55.30,545.72 L55.80,545.54 L56.30,545.35 L56.80,545.15 L57.30,544.94 L57.80,544.72 L58.30,544.48 L58.80,544.23 L59.30,543.96 L59.80,543.68 L60.30,543.39 L60.80,543.08 L61.30,542.75 L61.80,542.41 L62.30,542.05 L62.80,541.68 L63.30,541.28 L63.80,540.87 L64.30,540.44 L64.80,539.99 L65.30,539.52 L65.80,539.03 L66.30,538.52 L66.80,537.99 L67.30,537.44 L67.80,536.86 L68.30,536.27 L68.80,535.66 L69.30,535.03 L69.80,534.38 L70.30,533.71 L70.80,533.03 L71.30,532.32 L71.80,531.60 L72.30,530.86 L72.80,530.10 L73.30,529.33 L73.80,528.55 L74.30,527.75 L74.80,526.95 L75.30,526.13 L75.80,525.31 L76.30,524.49 L76.80,523.65 L77.30,522.82 L77.80,521.98 L78.30,521.15 L78.80,520.32 L79.30,519.50 L79.80,518.68 L80.30,517.86 L80.80,517.06 L81.30,516.27 L81.80,515.49 L82.30,514.73 L82.80,513.97 L83.30,513.24 L83.80,512.51 L84.30,511.80 L84.80,511.11 L85.30,510.43 L85.80,509.76 L86.30,509.11 L86.80,508.46 L87.30,507.83 L87.80,507.20 L88.30,506.57 L88.80,505.95 L89.30,505.33 L89.80,504.71 L90.30,504.08 L90.80,503.44 L91.30,502.79 L91.80,502.13 L92.30,501.45 L92.80,500.76 L93.30,500.04 L93.80,499.29 L94.30,498.52 L94.80,497.72 L95.30,496.88 L95.80,496.02 L96.30,495.12 L96.80,494.18 L97.30,493.21 L97.80,492.20 L98.30,491.15 L98.80,490.06 L99.30,488.94 L99.80,487.78 L100.30,486.59 L100.80,485.36 L101.30,484.10 L101.80,482.82 L102.30,481.50 L102.80,480.17 L103.30,478.81 L103.80,477.44 L104.30,476.06 L104.80,474.66 L105.30,473.27 L105.80,471.88 L106.30,470.50 L106.80,469.12 L107.30,467.77 L107.80,466.45 L108.30,465.15 L108.80,463.89 L109.30,462.67 L109.80,461.50 L110.30,460.39 L110.80,459.33 L111.30,458.34 L111.80,457.43 L112.30,456.59 L112.80,455.83 L113.30,455.16 L113.80,454.58 L114.30,454.10 L114.80,453.71 L115.30,453.43 L115.80,453.25 L116.30,453.18 L116.80,453.21 L117.30,453.36 L117.80,453.61 L118.30,453.97 L118.80,454.44 L119.30,455.01 L119.80,455.69 L120.30,456.47 L120.80,457.35 L121.30,458.32 L121.80,459.39 L122.30,460.54 L122.80,461.78 L123.30,463.09 L123.80,464.48 L124.30,465.94 L124.80,467.46 L125.30,469.03 L125.80,470.66 L126.30,472.33 L126.80,474.05 L127.30,475.80 L127.80,477.57 L128.30,479.38 L128.80,481.20 L129.30,483.03 L129.80,484.87 L130.30,486.72 L130.80,488.57 L131.30,490.41 L131.80,492.24 L132.30,494.06 L132.80,495.87 L133.30,497.66 L133.80,499.42 L134.30,501.16 L134.80,502.88 L135.30,504.56 L135.80,506.21 L136.30,507.83 L136.80,509.42 L137.30,510.97 L137.80,512.48 L138.30,513.96 L138.80,515.39 L139.30,516.79 L139.80,518.14 L140.30,519.46 L140.80,520.74 L141.30,521.97 L141.80,523.17 L142.30,524.32 L142.80,525.44 L143.30,526.51 L143.80,527.55 L144.30,528.55 L144.80,529.51 L145.30,530.44 L145.80,531.32 L146.30,532.18 L146.80,532.99 L147.30,533.78 L147.80,534.53 L148.30,535.25 L148.80,535.93 L149.30,536.59 L149.80,537.22 L150.30,537.82 L150.80,538.39 L151.30,538.93 L151.80,539.45 L152.30,539.95 L152.80,540.42 L153.30,540.86 L153.80,541.29 L154.30,541.69 L154.80,542.08 L155.30,542.44 L155.80,542.78 L156.30,543.11 L156.80,543.42 L157.30,543.71 L157.80,543.99 L158.30,544.25 L158.80,544.50 L159.30,544.73 L159.80,544.95 L160.30,545.16 L160.80,545.35 L161.30,545.54 L161.80,545.71 L162.30,545.87 L162.80,546.03 L163.30,546.17 L163.80,546.31 L164.30,546.44 L164.80,546.56 L165.30,546.67 L165.80,546.77 L166.30,546.87 L166.80,546.97 L167.30,547.05 L167.80,547.13 L168.30,547.21 L168.80,547.28 L169.30,547.35 L169.80,547.41 L170.30,547.47 L170.80,547.52 L171.30,547.57 L171.80,547.62 L172.30,547.66 L172.80,547.70 L173.30,547.74 L173.80,547.77 L174.30,547.80 L174.80,547.83 L175.30,547.86 L175.80,547.89 L176.30,547.91 L176.80,547.93 L177.30,547.95 L177.80,547.97 L178.30,547.99 L178.80,548.01 L179.30,548.02 L179.80,548.03 L180.30,548.05 L180.80,548.06 L181.30,548.07 L181.80,548.08 L182.30,548.08 L182.80,548.09 L183.30,548.10 L183.80,548.10 L184.30,548.11 L184.80,548.11 L185.30,548.11 L185.80,548.12 L186.30,548.12 L186.80,548.12 L187.30,548.12 L187.80,548.12 L188.30,548.12 L188.80,548.12 L189.30,548.11 L189.80,548.11 L190.30,548.11 L190.80,548.10 L191.30,548.10 L191.80,548.09 L192.30,548.08 L192.80,548.07 L193.30,548.06 L193.80,548.05 L194.30,548.04 L194.80,548.02 L195.30,548.01 L195.80,547.99 L196.30,547.97 L196.80,547.95 L197.30,547.93 L197.80,547.91 L198.30,547.88 L198.80,547.85 L199.30,547.82 L199.80,547.79 L200.30,547.75 L200.80,547.71 L201.30,547.67 L201.80,547.62 L202.30,547.57 L202.80,547.51 L203.30,547.45 L203.80,547.39 L204.30,547.32 L204.80,547.24 L205.30,547.16 L205.80,547.08 L206.30,546.98 L206.80,546.88 L207.30,546.78 L207.80,546.66 L208.30,546.54 L208.80,546.41 L209.30,546.26 L209.80,546.11 L210.30,545.95 L210.80,545.78 L211.30,545.59 L211.80,545.39 L212.30,545.18 L212.80,544.96 L213.30,544.72 L213.80,544.46 L214.30,544.19 L214.80,543.90 L215.30,543.60 L215.80,543.27 L216.30,542.93 L216.80,542.56 L217.30,542.18 L217.80,541.77 L218.30,541.34 L218.80,540.88 L219.30,540.40 L219.80,539.89 L220.30,539.35 L220.80,538.79 L221.30,538.20 L221.80,537.57 L222.30,536.92 L222.80,536.23 L223.30,535.51 L223.80,534.75 L224.30,533.96 L224.80,533.14 L225.30,532.28 L225.80,531.38 L226.30,530.44 L226.80,529.46 L227.30,528.45 L227.80,527.39 L228.30,526.29 L228.80,525.16 L229.30,523.98 L229.80,522.77 L230.30,521.52 L230.80,520.22 L231.30,518.89 L231.80,517.52 L232.30,516.11 L232.80,514.67 L233.30,513.19 L233.80,511.68 L234.30,510.14 L234.80,508.57 L235.30,506.97 L235.80,505.35 L236.30,503.71 L236.80,502.04 L237.30,500.36 L237.80,498.67 L238.30,496.96 L238.80,495.25 L239.30,493.53 L239.80,491.81 L240.30,490.09 L240.80,488.38 L241.30,486.67 L241.80,484.97 L242.30,483.29 L242.80,481.62 L243.30,479.97 L243.80,478.33 L244.30,476.72 L244.80,475.13 L245.30,473.56 L245.80,472.01 L246.30,470.49 L246.80,468.98 L247.30,467.49 L247.80,466.03 L248.30,464.57 L248.80,463.13 L249.30,461.70 L249.80,460.27 L250.30,458.85 L250.80,457.42 L251.30,455.99 L251.80,454.54 L252.30,453.08 L252.80,451.60 L253.30,450.09 L253.80,448.56 L254.30,446.98 L254.80,445.37 L255.30,443.72 L255.80,442.02 L256.30,440.26 L256.80,438.46 L257.30,436.60 L257.80,434.67 L258.30,432.69 L258.80,430.65 L259.30,428.54 L259.80,426.38 L260.30,424.15 L260.80,421.86 L261.30,419.52 L261.80,417.12 L262.30,414.67 L262.80,412.18 L263.30,409.64 L263.80,407.06 L264.30,404.46 L264.80,401.83 L265.30,399.19 L265.80,396.54 L266.30,393.89 L266.80,391.26 L267.30,388.64 L267.80,386.05 L268.30,383.51 L268.80,381.01 L269.30,378.58 L269.80,376.22 L270.30,373.95 L270.80,371.77 L271.30,369.70 L271.80,367.74 L272.30,365.91 L272.80,364.22 L273.30,362.68 L273.80,361.30 L274.30,360.08 L274.80,359.03 L275.30,358.17 L275.80,357.49 L276.30,357.01 L276.80,356.72 L277.30,356.64 L277.80,356.76 L278.30,357.08 L278.80,357.61 L279.30,358.35 L279.80,359.29 L280.30,360.43 L280.80,361.76 L281.30,363.30 L281.80,365.02 L282.30,366.92 L282.80,369.00 L283.30,371.24 L283.80,373.65 L284.30,376.20 L284.80,378.90 L285.30,381.73 L285.80,384.68 L286.30,387.75 L286.80,390.91 L287.30,394.17 L287.80,397.50 L288.30,400.91 L288.80,404.38 L289.30,407.90 L289.80,411.45 L290.30,415.04 L290.80,418.65 L291.30,422.28 L291.80,425.90 L292.30,429.53 L292.80,433.14 L293.30,436.73 L293.80,440.30 L294.30,443.83 L294.80,447.33 L295.30,450.78 L295.80,454.19 L296.30,457.54 L296.80,460.84 L297.30,464.07 L297.80,467.25 L298.30,470.35 L298.80,473.39 L299.30,476.36 L299.80,479.25 L300.30,482.07 L300.80,484.82 L301.30,487.48 L301.80,490.08 L302.30,492.59 L302.80,495.03 L303.30,497.39 L303.80,499.67 L304.30,501.88 L304.80,504.02 L305.30,506.08 L305.80,508.06 L306.30,509.97 L306.80,511.81 L307.30,513.59 L307.80,515.29 L308.30,516.92 L308.80,518.49 L309.30,520.00 L309.80,521.44 L310.30,522.83 L310.80,524.15 L311.30,525.42 L311.80,526.63 L312.30,527.78 L312.80,528.89 L313.30,529.94 L313.80,530.95 L314.30,531.90 L314.80,532.82 L315.30,533.68 L315.80,534.51 L316.30,535.30 L316.80,536.04 L317.30,536.75 L317.80,537.42 L318.30,538.06 L318.80,538.66 L319.30,539.24 L319.80,539.78 L320.30,540.29 L320.80,540.78 L321.30,541.24 L321.80,541.67 L322.30,542.08 L322.80,542.47 L323.30,542.83 L323.80,543.18 L324.30,543.50 L324.80,543.81 L325.30,544.09 L325.80,544.36 L326.30,544.62 L326.80,544.86 L327.30,545.08 L327.80,545.29 L328.30,545.49 L328.80,545.68 L329.30,545.85 L329.80,546.01 L330.30,546.17 L330.80,546.31 L331.30,546.44 L331.80,546.57 L332.30,546.69 L332.80,546.79 L333.30,546.90 L333.80,546.99 L334.30,547.08 L334.80,547.16 L335.30,547.24 L335.80,547.31 L336.30,547.38 L336.80,547.44 L337.30,547.50 L337.80,547.55 L338.30,547.60 L338.80,547.65 L339.30,547.69 L339.80,547.73 L340.30,547.77 L340.80,547.80 L341.30,547.83 L341.80,547.86 L342.30,547.89 L342.80,547.91 L343.30,547.94 L343.80,547.96 L344.30,547.98 L344.80,548.00 L345.30,548.01 L345.80,548.03 L346.30,548.04 L346.80,548.06" fill="none" stroke="#8a8a10" stroke-width="1.1" />
<line x1="35.9" y1="337.9" x2="63.8" y2="337.9" stroke="#ee1111" stroke-width="2"/>
<text x="66.3" y="342.0" font-size="12">Fe<tspan font-size="8" dy="-5">2+</tspan></text>
<line x1="35.9" y1="354.1" x2="63.8" y2="354.1" stroke="#1a1ae0" stroke-width="2"/>
<text x="66.3" y="358.2" font-size="12">Fe<tspan font-size="8" dy="-5">3+</tspan></text>
<line x1="35.9" y1="370.3" x2="63.8" y2="370.3" stroke="#1a7070" stroke-width="2"/>
<text x="66.3" y="374.4" font-size="12">Fe<tspan font-size="8" dy="-5">2+</tspan></text>
<line x1="35.9" y1="386.5" x2="63.8" y2="386.5" stroke="#ff11ff" stroke-width="2"/>
<text x="66.3" y="390.6" font-size="12">Fe<tspan font-size="8" dy="-5">3+</tspan></text>
<text x="260" y="341" font-size="12" font-weight="700">Fe 2p<tspan font-size="7.3" dy="3.3">3/2</tspan></text>
<text x="98.1" y="447.6" font-size="12" font-weight="700">Fe 2p<tspan font-size="7.3" dy="3.3">1/2</tspan></text>
<text transform="translate(0.4,338.6) scale(0.82,1)" font-size="18" font-weight="700">C</text>
<text transform="translate(18.1,442.5) rotate(-90)" font-size="12" font-weight="700" text-anchor="middle">Intensity (a.u.)</text>
<text x="195.3" y="610.5" font-size="12" font-weight="700" text-anchor="middle" fill="#000" >Binding Energy (eV)</text>
<path d="M410.0,574.0 L410.0,328.6 L723.7,328.6 L723.7,574.0 Z" fill="none" stroke="#444" stroke-width="1.5"/>
<line x1="410.00" y1="574.0" x2="410.00" y2="578.5" stroke="#333" stroke-width="1.3"/>
<text x="410.20" y="591.0" font-size="10.5" font-weight="700" text-anchor="middle" fill="#000" letter-spacing="0.35" stroke="#000" stroke-width="0.2">403</text>
<line x1="458.30" y1="574.0" x2="458.30" y2="578.5" stroke="#333" stroke-width="1.3"/>
<text x="458.50" y="591.0" font-size="10.5" font-weight="700" text-anchor="middle" fill="#000" letter-spacing="0.35" stroke="#000" stroke-width="0.2">402</text>
<line x1="506.60" y1="574.0" x2="506.60" y2="578.5" stroke="#333" stroke-width="1.3"/>
<text x="506.80" y="591.0" font-size="10.5" font-weight="700" text-anchor="middle" fill="#000" letter-spacing="0.35" stroke="#000" stroke-width="0.2">401</text>
<line x1="554.90" y1="574.0" x2="554.90" y2="578.5" stroke="#333" stroke-width="1.3"/>
<text x="555.10" y="591.0" font-size="10.5" font-weight="700" text-anchor="middle" fill="#000" letter-spacing="0.35" stroke="#000" stroke-width="0.2">400</text>
<line x1="603.20" y1="574.0" x2="603.20" y2="578.5" stroke="#333" stroke-width="1.3"/>
<text x="603.40" y="591.0" font-size="10.5" font-weight="700" text-anchor="middle" fill="#000" letter-spacing="0.35" stroke="#000" stroke-width="0.2">399</text>
<line x1="651.50" y1="574.0" x2="651.50" y2="578.5" stroke="#333" stroke-width="1.3"/>
<text x="651.70" y="591.0" font-size="10.5" font-weight="700" text-anchor="middle" fill="#000" letter-spacing="0.35" stroke="#000" stroke-width="0.2">398</text>
<line x1="699.80" y1="574.0" x2="699.80" y2="578.5" stroke="#333" stroke-width="1.3"/>
<text x="700.00" y="591.0" font-size="10.5" font-weight="700" text-anchor="middle" fill="#000" letter-spacing="0.35" stroke="#000" stroke-width="0.2">397</text>
<line x1="434.15" y1="574.0" x2="434.15" y2="576.5" stroke="#333" stroke-width="1.3"/>
<line x1="482.45" y1="574.0" x2="482.45" y2="576.5" stroke="#333" stroke-width="1.3"/>
<line x1="530.75" y1="574.0" x2="530.75" y2="576.5" stroke="#333" stroke-width="1.3"/>
<line x1="579.05" y1="574.0" x2="579.05" y2="576.5" stroke="#333" stroke-width="1.3"/>
<line x1="627.35" y1="574.0" x2="627.35" y2="576.5" stroke="#333" stroke-width="1.3"/>
<line x1="675.65" y1="574.0" x2="675.65" y2="576.5" stroke="#333" stroke-width="1.3"/>
<path d="M410.50,543.80 L415.00,544.60 L419.50,545.20 L424.30,539.40 L429.10,545.20 L434.00,543.80 L439.50,543.80 L444.00,546.30 L447.80,540.30 L453.30,536.20 L458.80,531.10 L462.90,531.10 L467.80,534.10 L472.60,535.50 L477.40,534.80 L482.90,534.80 L486.40,523.10 L491.90,519.70 L498.10,514.80 L503.60,509.30 L508.00,501.00 L513.00,488.00 L518.00,473.00 L523.00,456.00 L528.00,438.00 L533.00,419.00 L538.00,401.00 L544.00,375.20 L548.40,376.60 L554.00,364.00 L560.00,351.70 L565.00,357.60 L568.90,356.10 L573.30,369.30 L578.50,384.00 L584.00,400.00 L589.00,418.00 L594.00,440.00 L597.20,458.20 L601.60,464.00 L606.00,479.00 L611.00,492.00 L617.70,503.60 L623.60,508.00 L629.00,511.00 L635.30,515.30 L641.80,513.80 L647.70,518.60 L652.30,525.50 L655.70,535.30 L660.30,535.70 L665.30,530.00 L669.40,540.30 L675.10,540.30 L680.80,548.30 L684.90,554.00 L689.90,554.00 L694.90,547.60 L700.20,550.50 L705.90,551.70 L713.10,549.00 L719.50,551.70 L723.00,552.80" fill="none" stroke="#666" stroke-width="1.6" stroke-linejoin="round"/>
<path d="M410.50,543.70 L411.00,543.70 L411.50,543.70 L412.00,543.69 L412.50,543.69 L413.00,543.69 L413.50,543.69 L414.00,543.69 L414.50,543.69 L415.00,543.69 L415.50,543.69 L416.00,543.69 L416.50,543.69 L417.00,543.69 L417.50,543.69 L418.00,543.69 L418.50,543.69 L419.00,543.69 L419.50,543.69 L420.00,543.68 L420.50,543.68 L421.00,543.68 L421.50,543.68 L422.00,543.68 L422.50,543.68 L423.00,543.68 L423.50,543.68 L424.00,543.67 L424.50,543.67 L425.00,543.67 L425.50,543.67 L426.00,543.67 L426.50,543.66 L427.00,543.66 L427.50,543.66 L428.00,543.66 L428.50,543.65 L429.00,543.65 L429.50,543.65 L430.00,543.64 L430.50,543.64 L431.00,543.64 L431.50,543.63 L432.00,543.63 L432.50,543.62 L433.00,543.62 L433.50,543.61 L434.00,543.61 L434.50,543.60 L435.00,543.60 L435.50,543.59 L436.00,543.58 L436.50,543.58 L437.00,543.57 L437.50,543.56 L438.00,543.55 L438.50,543.54 L439.00,543.53 L439.50,543.52 L440.00,543.51 L440.50,543.50 L441.00,543.49 L441.50,543.48 L442.00,543.46 L442.50,543.45 L443.00,543.44 L443.50,543.42 L444.00,543.41 L444.50,543.39 L445.00,543.37 L445.50,543.35 L446.00,543.33 L446.50,543.31 L447.00,543.29 L447.50,543.27 L448.00,543.25 L448.50,543.22 L449.00,543.19 L449.50,543.17 L450.00,543.14 L450.50,543.11 L451.00,543.08 L451.50,543.04 L452.00,543.01 L452.50,542.97 L453.00,542.93 L453.50,542.89 L454.00,542.85 L454.50,542.81 L455.00,542.76 L455.50,542.71 L456.00,542.66 L456.50,542.61 L457.00,542.55 L457.50,542.50 L458.00,542.44 L458.50,542.37 L459.00,542.31 L459.50,542.24 L460.00,542.17 L460.50,542.09 L461.00,542.02 L461.50,541.93 L462.00,541.85 L462.50,541.76 L463.00,541.67 L463.50,541.57 L464.00,541.47 L464.50,541.37 L465.00,541.26 L465.50,541.15 L466.00,541.03 L466.50,540.90 L467.00,540.78 L467.50,540.64 L468.00,540.51 L468.50,540.36 L469.00,540.21 L469.50,540.06 L470.00,539.90 L470.50,539.73 L471.00,539.56 L471.50,539.38 L472.00,539.19 L472.50,539.00 L473.00,538.80 L473.50,538.59 L474.00,538.38 L474.50,538.15 L475.00,537.92 L475.50,537.68 L476.00,537.44 L476.50,537.18 L477.00,536.92 L477.50,536.64 L478.00,536.36 L478.50,536.07 L479.00,535.76 L479.50,535.45 L480.00,535.13 L480.50,534.79 L481.00,534.45 L481.50,534.09 L482.00,533.73 L482.50,533.35 L483.00,532.96 L483.50,532.55 L484.00,532.14 L484.50,531.71 L485.00,531.27 L485.50,530.82 L486.00,530.35 L486.50,529.87 L487.00,529.38 L487.50,528.87 L488.00,528.35 L488.50,527.81 L489.00,527.26 L489.50,526.69 L490.00,526.11 L490.50,525.51 L491.00,524.89 L491.50,524.26 L492.00,523.62 L492.50,522.95 L493.00,522.27 L493.50,521.57 L494.00,520.86 L494.50,520.13 L495.00,519.38 L495.50,518.61 L496.00,517.82 L496.50,517.02 L497.00,516.20 L497.50,515.35 L498.00,514.49 L498.50,513.62 L499.00,512.72 L499.50,511.80 L500.00,510.86 L500.50,509.91 L501.00,508.93 L501.50,507.93 L502.00,506.92 L502.50,505.88 L503.00,504.83 L503.50,503.75 L504.00,502.66 L504.50,501.54 L505.00,500.41 L505.50,499.25 L506.00,498.07 L506.50,496.88 L507.00,495.66 L507.50,494.43 L508.00,493.17 L508.50,491.90 L509.00,490.60 L509.50,489.29 L510.00,487.96 L510.50,486.61 L511.00,485.24 L511.50,483.85 L512.00,482.44 L512.50,481.01 L513.00,479.57 L513.50,478.10 L514.00,476.62 L514.50,475.13 L515.00,473.62 L515.50,472.09 L516.00,470.54 L516.50,468.98 L517.00,467.40 L517.50,465.81 L518.00,464.20 L518.50,462.59 L519.00,460.95 L519.50,459.31 L520.00,457.65 L520.50,455.98 L521.00,454.30 L521.50,452.61 L522.00,450.91 L522.50,449.20 L523.00,447.48 L523.50,445.75 L524.00,444.02 L524.50,442.27 L525.00,440.53 L525.50,438.78 L526.00,437.02 L526.50,435.26 L527.00,433.50 L527.50,431.73 L528.00,429.97 L528.50,428.20 L529.00,426.43 L529.50,424.67 L530.00,422.91 L530.50,421.15 L531.00,419.39 L531.50,417.64 L532.00,415.90 L532.50,414.16 L533.00,412.43 L533.50,410.71 L534.00,408.99 L534.50,407.29 L535.00,405.60 L535.50,403.92 L536.00,402.26 L536.50,400.61 L537.00,398.97 L537.50,397.36 L538.00,395.75 L538.50,394.17 L539.00,392.61 L539.50,391.06 L540.00,389.54 L540.50,388.04 L541.00,386.56 L541.50,385.10 L542.00,383.67 L542.50,382.27 L543.00,380.89 L543.50,379.54 L544.00,378.22 L544.50,376.93 L545.00,375.66 L545.50,374.43 L546.00,373.23 L546.50,372.07 L547.00,370.93 L547.50,369.83 L548.00,368.77 L548.50,367.74 L549.00,366.75 L549.50,365.79 L550.00,364.87 L550.50,363.99 L551.00,363.15 L551.50,362.35 L552.00,361.59 L552.50,360.87 L553.00,360.19 L553.50,359.55 L554.00,358.96 L554.50,358.41 L555.00,357.90 L555.50,357.43 L556.00,357.01 L556.50,356.63 L557.00,356.30 L557.50,356.01 L558.00,355.76 L558.50,355.56 L559.00,355.41 L559.50,355.30 L560.00,355.24 L560.50,355.22 L561.00,355.25 L561.50,355.32 L562.00,355.44 L562.50,355.61 L563.00,355.82 L563.50,356.07 L564.00,356.37 L564.50,356.72 L565.00,357.11 L565.50,357.54 L566.00,358.02 L566.50,358.55 L567.00,359.11 L567.50,359.72 L568.00,360.37 L568.50,361.07 L569.00,361.80 L569.50,362.58 L570.00,363.40 L570.50,364.26 L571.00,365.16 L571.50,366.10 L572.00,367.07 L572.50,368.09 L573.00,369.14 L573.50,370.22 L574.00,371.35 L574.50,372.51 L575.00,373.70 L575.50,374.93 L576.00,376.18 L576.50,377.48 L577.00,378.80 L577.50,380.15 L578.00,381.53 L578.50,382.94 L579.00,384.38 L579.50,385.84 L580.00,387.34 L580.50,388.85 L581.00,390.39 L581.50,391.95 L582.00,393.54 L582.50,395.14 L583.00,396.77 L583.50,398.41 L584.00,400.08 L584.50,401.76 L585.00,403.45 L585.50,405.17 L586.00,406.89 L586.50,408.63 L587.00,410.39 L587.50,412.15 L588.00,413.92 L588.50,415.71 L589.00,417.50 L589.50,419.30 L590.00,421.11 L590.50,422.92 L591.00,424.74 L591.50,426.56 L592.00,428.38 L592.50,430.21 L593.00,432.04 L593.50,433.87 L594.00,435.69 L594.50,437.52 L595.00,439.34 L595.50,441.17 L596.00,442.98 L596.50,444.80 L597.00,446.60 L597.50,448.40 L598.00,450.20 L598.50,451.99 L599.00,453.77 L599.50,455.54 L600.00,457.30 L600.50,459.05 L601.00,460.79 L601.50,462.51 L602.00,464.23 L602.50,465.93 L603.00,467.62 L603.50,469.30 L604.00,470.96 L604.50,472.61 L605.00,474.24 L605.50,475.86 L606.00,477.46 L606.50,479.04 L607.00,480.61 L607.50,482.16 L608.00,483.70 L608.50,485.21 L609.00,486.71 L609.50,488.19 L610.00,489.64 L610.50,491.09 L611.00,492.51 L611.50,493.91 L612.00,495.29 L612.50,496.65 L613.00,498.00 L613.50,499.32 L614.00,500.62 L614.50,501.90 L615.00,503.16 L615.50,504.40 L616.00,505.62 L616.50,506.82 L617.00,508.00 L617.50,509.16 L618.00,510.30 L618.50,511.41 L619.00,512.51 L619.50,513.59 L620.00,514.64 L620.50,515.68 L621.00,516.69 L621.50,517.69 L622.00,518.66 L622.50,519.61 L623.00,520.55 L623.50,521.46 L624.00,522.36 L624.50,523.23 L625.00,524.09 L625.50,524.93 L626.00,525.75 L626.50,526.55 L627.00,527.33 L627.50,528.09 L628.00,528.83 L628.50,529.56 L629.00,530.27 L629.50,530.96 L630.00,531.64 L630.50,532.29 L631.00,532.93 L631.50,533.56 L632.00,534.17 L632.50,534.76 L633.00,535.33 L633.50,535.90 L634.00,536.44 L634.50,536.97 L635.00,537.49 L635.50,537.99 L636.00,538.48 L636.50,538.95 L637.00,539.41 L637.50,539.86 L638.00,540.29 L638.50,540.71 L639.00,541.12 L639.50,541.52 L640.00,541.90 L640.50,542.27 L641.00,542.63 L641.50,542.98 L642.00,543.32 L642.50,543.65 L643.00,543.97 L643.50,544.27 L644.00,544.57 L644.50,544.86 L645.00,545.14 L645.50,545.40 L646.00,545.66 L646.50,545.91 L647.00,546.16 L647.50,546.39 L648.00,546.62 L648.50,546.83 L649.00,547.04 L649.50,547.25 L650.00,547.44 L650.50,547.63 L651.00,547.81 L651.50,547.99 L652.00,548.16 L652.50,548.32 L653.00,548.48 L653.50,548.63 L654.00,548.77 L654.50,548.91 L655.00,549.05 L655.50,549.17 L656.00,549.30 L656.50,549.42 L657.00,549.53 L657.50,549.64 L658.00,549.75 L658.50,549.85 L659.00,549.95 L659.50,550.04 L660.00,550.13 L660.50,550.22 L661.00,550.30 L661.50,550.38 L662.00,550.45 L662.50,550.52 L663.00,550.59 L663.50,550.66 L664.00,550.72 L664.50,550.79 L665.00,550.84 L665.50,550.90 L666.00,550.95 L666.50,551.00 L667.00,551.05 L667.50,551.10 L668.00,551.14 L668.50,551.19 L669.00,551.23 L669.50,551.26 L670.00,551.30 L670.50,551.34 L671.00,551.37 L671.50,551.40 L672.00,551.43 L672.50,551.46 L673.00,551.49 L673.50,551.52 L674.00,551.54 L674.50,551.57 L675.00,551.59 L675.50,551.61 L676.00,551.63 L676.50,551.65 L677.00,551.67 L677.50,551.69 L678.00,551.70 L678.50,551.72 L679.00,551.73 L679.50,551.75 L680.00,551.76 L680.50,551.78 L681.00,551.79 L681.50,551.80 L682.00,551.81 L682.50,551.82 L683.00,551.83 L683.50,551.84 L684.00,551.85 L684.50,551.86 L685.00,551.87 L685.50,551.87 L686.00,551.88 L686.50,551.89 L687.00,551.89 L687.50,551.90 L688.00,551.91 L688.50,551.91 L689.00,551.92 L689.50,551.92 L690.00,551.93 L690.50,551.93 L691.00,551.94 L691.50,551.94 L692.00,551.94 L692.50,551.95 L693.00,551.95 L693.50,551.95 L694.00,551.96 L694.50,551.96 L695.00,551.96 L695.50,551.96 L696.00,551.97 L696.50,551.97 L697.00,551.97 L697.50,551.97 L698.00,551.97 L698.50,551.97 L699.00,551.98 L699.50,551.98 L700.00,551.98 L700.50,551.98 L701.00,551.98 L701.50,551.98 L702.00,551.98 L702.50,551.99 L703.00,551.99 L703.50,551.99 L704.00,551.99 L704.50,551.99 L705.00,551.99 L705.50,551.99 L706.00,551.99 L706.50,551.99 L707.00,551.99 L707.50,551.99 L708.00,551.99 L708.50,551.99 L709.00,551.99 L709.50,551.99 L710.00,551.99 L710.50,552.00 L711.00,552.00 L711.50,552.00 L712.00,552.00 L712.50,552.00 L713.00,552.00 L713.50,552.00 L714.00,552.00 L714.50,552.00 L715.00,552.00 L715.50,552.00 L716.00,552.00 L716.50,552.00 L717.00,552.00 L717.50,552.00 L718.00,552.00 L718.50,552.00 L719.00,552.00 L719.50,552.00 L720.00,552.00 L720.50,552.00 L721.00,552.00 L721.50,552.00 L722.00,552.00 L722.50,552.00 L723.00,552.00" fill="none" stroke="#ee1111" stroke-width="2.2"/>
<path d="M410.50,543.70 L411.00,543.70 L411.50,543.70 L412.00,543.70 L412.50,543.70 L413.00,543.70 L413.50,543.70 L414.00,543.70 L414.50,543.70 L415.00,543.70 L415.50,543.70 L416.00,543.70 L416.50,543.70 L417.00,543.70 L417.50,543.70 L418.00,543.70 L418.50,543.70 L419.00,543.70 L419.50,543.70 L420.00,543.70 L420.50,543.70 L421.00,543.70 L421.50,543.70 L422.00,543.70 L422.50,543.70 L423.00,543.70 L423.50,543.70 L424.00,543.70 L424.50,543.70 L425.00,543.70 L425.50,543.70 L426.00,543.70 L426.50,543.70 L427.00,543.70 L427.50,543.70 L428.00,543.70 L428.50,543.70 L429.00,543.70 L429.50,543.70 L430.00,543.70 L430.50,543.70 L431.00,543.70 L431.50,543.70 L432.00,543.70 L432.50,543.70 L433.00,543.70 L433.50,543.70 L434.00,543.70 L434.50,543.70 L435.00,543.70 L435.50,543.70 L436.00,543.70 L436.50,543.70 L437.00,543.70 L437.50,543.70 L438.00,543.70 L438.50,543.70 L439.00,543.70 L439.50,543.70 L440.00,543.70 L440.50,543.70 L441.00,543.70 L441.50,543.70 L442.00,543.70 L442.50,543.70 L443.00,543.70 L443.50,543.70 L444.00,543.70 L444.50,543.70 L445.00,543.70 L445.50,543.70 L446.00,543.70 L446.50,543.70 L447.00,543.70 L447.50,543.70 L448.00,543.70 L448.50,543.70 L449.00,543.70 L449.50,543.70 L450.00,543.70 L450.50,543.70 L451.00,543.70 L451.50,543.70 L452.00,543.70 L452.50,543.70 L453.00,543.70 L453.50,543.70 L454.00,543.70 L454.50,543.70 L455.00,543.70 L455.50,543.70 L456.00,543.71 L456.50,543.71 L457.00,543.71 L457.50,543.71 L458.00,543.71 L458.50,543.71 L459.00,543.71 L459.50,543.71 L460.00,543.71 L460.50,543.71 L461.00,543.71 L461.50,543.71 L462.00,543.71 L462.50,543.71 L463.00,543.71 L463.50,543.71 L464.00,543.71 L464.50,543.71 L465.00,543.71 L465.50,543.71 L466.00,543.71 L466.50,543.72 L467.00,543.72 L467.50,543.72 L468.00,543.72 L468.50,543.72 L469.00,543.72 L469.50,543.72 L470.00,543.72 L470.50,543.72 L471.00,543.72 L471.50,543.72 L472.00,543.73 L472.50,543.73 L473.00,543.73 L473.50,543.73 L474.00,543.73 L474.50,543.73 L475.00,543.73 L475.50,543.74 L476.00,543.74 L476.50,543.74 L477.00,543.74 L477.50,543.74 L478.00,543.74 L478.50,543.75 L479.00,543.75 L479.50,543.75 L480.00,543.75 L480.50,543.75 L481.00,543.76 L481.50,543.76 L482.00,543.76 L482.50,543.77 L483.00,543.77 L483.50,543.77 L484.00,543.77 L484.50,543.78 L485.00,543.78 L485.50,543.78 L486.00,543.79 L486.50,543.79 L487.00,543.79 L487.50,543.80 L488.00,543.80 L488.50,543.81 L489.00,543.81 L489.50,543.82 L490.00,543.82 L490.50,543.82 L491.00,543.83 L491.50,543.83 L492.00,543.84 L492.50,543.85 L493.00,543.85 L493.50,543.86 L494.00,543.86 L494.50,543.87 L495.00,543.88 L495.50,543.88 L496.00,543.89 L496.50,543.90 L497.00,543.90 L497.50,543.91 L498.00,543.92 L498.50,543.93 L499.00,543.93 L499.50,543.94 L500.00,543.95 L500.50,543.96 L501.00,543.97 L501.50,543.98 L502.00,543.99 L502.50,544.00 L503.00,544.01 L503.50,544.02 L504.00,544.03 L504.50,544.04 L505.00,544.05 L505.50,544.06 L506.00,544.08 L506.50,544.09 L507.00,544.10 L507.50,544.11 L508.00,544.13 L508.50,544.14 L509.00,544.15 L509.50,544.17 L510.00,544.18 L510.50,544.20 L511.00,544.21 L511.50,544.23 L512.00,544.25 L512.50,544.26 L513.00,544.28 L513.50,544.30 L514.00,544.31 L514.50,544.33 L515.00,544.35 L515.50,544.37 L516.00,544.39 L516.50,544.41 L517.00,544.43 L517.50,544.45 L518.00,544.47 L518.50,544.49 L519.00,544.51 L519.50,544.54 L520.00,544.56 L520.50,544.58 L521.00,544.61 L521.50,544.63 L522.00,544.66 L522.50,544.68 L523.00,544.71 L523.50,544.73 L524.00,544.76 L524.50,544.78 L525.00,544.81 L525.50,544.84 L526.00,544.87 L526.50,544.90 L527.00,544.93 L527.50,544.96 L528.00,544.99 L528.50,545.02 L529.00,545.05 L529.50,545.08 L530.00,545.11 L530.50,545.14 L531.00,545.18 L531.50,545.21 L532.00,545.24 L532.50,545.28 L533.00,545.31 L533.50,545.35 L534.00,545.39 L534.50,545.42 L535.00,545.46 L535.50,545.50 L536.00,545.53 L536.50,545.57 L537.00,545.61 L537.50,545.65 L538.00,545.69 L538.50,545.73 L539.00,545.77 L539.50,545.81 L540.00,545.85 L540.50,545.89 L541.00,545.93 L541.50,545.98 L542.00,546.02 L542.50,546.06 L543.00,546.11 L543.50,546.15 L544.00,546.19 L544.50,546.24 L545.00,546.28 L545.50,546.33 L546.00,546.37 L546.50,546.42 L547.00,546.47 L547.50,546.51 L548.00,546.56 L548.50,546.61 L549.00,546.65 L549.50,546.70 L550.00,546.75 L550.50,546.80 L551.00,546.85 L551.50,546.90 L552.00,546.94 L552.50,546.99 L553.00,547.04 L553.50,547.09 L554.00,547.14 L554.50,547.19 L555.00,547.24 L555.50,547.29 L556.00,547.34 L556.50,547.39 L557.00,547.44 L557.50,547.49 L558.00,547.54 L558.50,547.60 L559.00,547.65 L559.50,547.70 L560.00,547.75 L560.50,547.80 L561.00,547.85 L561.50,547.90 L562.00,547.95 L562.50,548.00 L563.00,548.05 L563.50,548.10 L564.00,548.16 L564.50,548.21 L565.00,548.26 L565.50,548.31 L566.00,548.36 L566.50,548.41 L567.00,548.46 L567.50,548.51 L568.00,548.56 L568.50,548.61 L569.00,548.66 L569.50,548.71 L570.00,548.76 L570.50,548.80 L571.00,548.85 L571.50,548.90 L572.00,548.95 L572.50,549.00 L573.00,549.05 L573.50,549.09 L574.00,549.14 L574.50,549.19 L575.00,549.23 L575.50,549.28 L576.00,549.33 L576.50,549.37 L577.00,549.42 L577.50,549.46 L578.00,549.51 L578.50,549.55 L579.00,549.59 L579.50,549.64 L580.00,549.68 L580.50,549.72 L581.00,549.76 L581.50,549.81 L582.00,549.85 L582.50,549.89 L583.00,549.93 L583.50,549.97 L584.00,550.01 L584.50,550.05 L585.00,550.09 L585.50,550.12 L586.00,550.16 L586.50,550.20 L587.00,550.23 L587.50,550.27 L588.00,550.30 L588.50,550.34 L589.00,550.37 L589.50,550.41 L590.00,550.44 L590.50,550.47 L591.00,550.50 L591.50,550.53 L592.00,550.56 L592.50,550.59 L593.00,550.62 L593.50,550.64 L594.00,550.67 L594.50,550.69 L595.00,550.72 L595.50,550.74 L596.00,550.76 L596.50,550.78 L597.00,550.80 L597.50,550.82 L598.00,550.83 L598.50,550.85 L599.00,550.86 L599.50,550.87 L600.00,550.88 L600.50,550.88 L601.00,550.88 L601.50,550.89 L602.00,550.88 L602.50,550.88 L603.00,550.87 L603.50,550.86 L604.00,550.85 L604.50,550.83 L605.00,550.81 L605.50,550.79 L606.00,550.76 L606.50,550.73 L607.00,550.69 L607.50,550.65 L608.00,550.60 L608.50,550.55 L609.00,550.49 L609.50,550.43 L610.00,550.36 L610.50,550.28 L611.00,550.19 L611.50,550.10 L612.00,550.00 L612.50,549.90 L613.00,549.78 L613.50,549.66 L614.00,549.53 L614.50,549.39 L615.00,549.24 L615.50,549.08 L616.00,548.91 L616.50,548.73 L617.00,548.54 L617.50,548.33 L618.00,548.12 L618.50,547.90 L619.00,547.66 L619.50,547.42 L620.00,547.16 L620.50,546.89 L621.00,546.61 L621.50,546.32 L622.00,546.01 L622.50,545.70 L623.00,545.37 L623.50,545.03 L624.00,544.68 L624.50,544.32 L625.00,543.95 L625.50,543.57 L626.00,543.18 L626.50,542.78 L627.00,542.37 L627.50,541.95 L628.00,541.53 L628.50,541.09 L629.00,540.65 L629.50,540.21 L630.00,539.76 L630.50,539.31 L631.00,538.85 L631.50,538.39 L632.00,537.93 L632.50,537.47 L633.00,537.01 L633.50,536.55 L634.00,536.10 L634.50,535.65 L635.00,535.20 L635.50,534.77 L636.00,534.34 L636.50,533.91 L637.00,533.50 L637.50,533.10 L638.00,532.71 L638.50,532.34 L639.00,531.98 L639.50,531.64 L640.00,531.31 L640.50,531.00 L641.00,530.71 L641.50,530.44 L642.00,530.19 L642.50,529.96 L643.00,529.76 L643.50,529.57 L644.00,529.41 L644.50,529.27 L645.00,529.16 L645.50,529.08 L646.00,529.01 L646.50,528.98 L647.00,528.97 L647.50,528.98 L648.00,529.02 L648.50,529.09 L649.00,529.18 L649.50,529.29 L650.00,529.43 L650.50,529.59 L651.00,529.78 L651.50,529.99 L652.00,530.22 L652.50,530.48 L653.00,530.75 L653.50,531.04 L654.00,531.36 L654.50,531.69 L655.00,532.03 L655.50,532.40 L656.00,532.77 L656.50,533.17 L657.00,533.57 L657.50,533.99 L658.00,534.41 L658.50,534.85 L659.00,535.29 L659.50,535.74 L660.00,536.19 L660.50,536.65 L661.00,537.11 L661.50,537.58 L662.00,538.04 L662.50,538.51 L663.00,538.97 L663.50,539.43 L664.00,539.89 L664.50,540.35 L665.00,540.80 L665.50,541.24 L666.00,541.68 L666.50,542.12 L667.00,542.54 L667.50,542.96 L668.00,543.36 L668.50,543.76 L669.00,544.15 L669.50,544.53 L670.00,544.90 L670.50,545.26 L671.00,545.60 L671.50,545.94 L672.00,546.26 L672.50,546.58 L673.00,546.88 L673.50,547.17 L674.00,547.45 L674.50,547.71 L675.00,547.97 L675.50,548.22 L676.00,548.45 L676.50,548.67 L677.00,548.89 L677.50,549.09 L678.00,549.28 L678.50,549.46 L679.00,549.64 L679.50,549.80 L680.00,549.95 L680.50,550.10 L681.00,550.24 L681.50,550.37 L682.00,550.49 L682.50,550.60 L683.00,550.71 L683.50,550.81 L684.00,550.90 L684.50,550.99 L685.00,551.07 L685.50,551.15 L686.00,551.22 L686.50,551.28 L687.00,551.34 L687.50,551.40 L688.00,551.45 L688.50,551.50 L689.00,551.54 L689.50,551.58 L690.00,551.62 L690.50,551.66 L691.00,551.69 L691.50,551.72 L692.00,551.74 L692.50,551.77 L693.00,551.79 L693.50,551.81 L694.00,551.83 L694.50,551.85 L695.00,551.86 L695.50,551.88 L696.00,551.89 L696.50,551.90 L697.00,551.91 L697.50,551.92 L698.00,551.93 L698.50,551.94 L699.00,551.94 L699.50,551.95 L700.00,551.96 L700.50,551.96 L701.00,551.96 L701.50,551.97 L702.00,551.97 L702.50,551.98 L703.00,551.98 L703.50,551.98 L704.00,551.98 L704.50,551.99 L705.00,551.99 L705.50,551.99 L706.00,551.99 L706.50,551.99 L707.00,551.99 L707.50,551.99 L708.00,551.99 L708.50,551.99 L709.00,552.00 L709.50,552.00 L710.00,552.00 L710.50,552.00 L711.00,552.00 L711.50,552.00 L712.00,552.00 L712.50,552.00 L713.00,552.00 L713.50,552.00 L714.00,552.00 L714.50,552.00 L715.00,552.00 L715.50,552.00 L716.00,552.00 L716.50,552.00 L717.00,552.00 L717.50,552.00 L718.00,552.00 L718.50,552.00 L719.00,552.00 L719.50,552.00 L720.00,552.00 L720.50,552.00 L721.00,552.00 L721.50,552.00 L722.00,552.00 L722.50,552.00 L723.00,552.00" fill="none" stroke="#1a1ae0" stroke-width="2"/>
<defs><linearGradient id="bgg" gradientUnits="userSpaceOnUse" x1="410" y1="0" x2="724" y2="0"><stop offset="0" stop-color="#1c4f88"/><stop offset="0.5" stop-color="#1c4f88"/><stop offset="0.72" stop-color="#237a82"/><stop offset="1" stop-color="#237a82"/></linearGradient></defs>
<path d="M410.50,543.70 L411.00,543.70 L411.50,543.70 L412.00,543.70 L412.50,543.70 L413.00,543.70 L413.50,543.70 L414.00,543.70 L414.50,543.70 L415.00,543.70 L415.50,543.70 L416.00,543.70 L416.50,543.70 L417.00,543.70 L417.50,543.70 L418.00,543.70 L418.50,543.70 L419.00,543.70 L419.50,543.70 L420.00,543.70 L420.50,543.70 L421.00,543.70 L421.50,543.70 L422.00,543.70 L422.50,543.70 L423.00,543.70 L423.50,543.70 L424.00,543.70 L424.50,543.70 L425.00,543.70 L425.50,543.70 L426.00,543.70 L426.50,543.70 L427.00,543.70 L427.50,543.70 L428.00,543.70 L428.50,543.70 L429.00,543.70 L429.50,543.70 L430.00,543.70 L430.50,543.70 L431.00,543.70 L431.50,543.70 L432.00,543.70 L432.50,543.70 L433.00,543.70 L433.50,543.70 L434.00,543.70 L434.50,543.70 L435.00,543.70 L435.50,543.70 L436.00,543.70 L436.50,543.70 L437.00,543.70 L437.50,543.70 L438.00,543.70 L438.50,543.70 L439.00,543.70 L439.50,543.70 L440.00,543.70 L440.50,543.70 L441.00,543.70 L441.50,543.70 L442.00,543.70 L442.50,543.70 L443.00,543.70 L443.50,543.70 L444.00,543.70 L444.50,543.70 L445.00,543.70 L445.50,543.70 L446.00,543.70 L446.50,543.70 L447.00,543.70 L447.50,543.70 L448.00,543.70 L448.50,543.70 L449.00,543.70 L449.50,543.70 L450.00,543.70 L450.50,543.70 L451.00,543.70 L451.50,543.70 L452.00,543.70 L452.50,543.70 L453.00,543.70 L453.50,543.70 L454.00,543.70 L454.50,543.70 L455.00,543.70 L455.50,543.70 L456.00,543.71 L456.50,543.71 L457.00,543.71 L457.50,543.71 L458.00,543.71 L458.50,543.71 L459.00,543.71 L459.50,543.71 L460.00,543.71 L460.50,543.71 L461.00,543.71 L461.50,543.71 L462.00,543.71 L462.50,543.71 L463.00,543.71 L463.50,543.71 L464.00,543.71 L464.50,543.71 L465.00,543.71 L465.50,543.71 L466.00,543.71 L466.50,543.72 L467.00,543.72 L467.50,543.72 L468.00,543.72 L468.50,543.72 L469.00,543.72 L469.50,543.72 L470.00,543.72 L470.50,543.72 L471.00,543.72 L471.50,543.72 L472.00,543.73 L472.50,543.73 L473.00,543.73 L473.50,543.73 L474.00,543.73 L474.50,543.73 L475.00,543.73 L475.50,543.74 L476.00,543.74 L476.50,543.74 L477.00,543.74 L477.50,543.74 L478.00,543.74 L478.50,543.75 L479.00,543.75 L479.50,543.75 L480.00,543.75 L480.50,543.75 L481.00,543.76 L481.50,543.76 L482.00,543.76 L482.50,543.77 L483.00,543.77 L483.50,543.77 L484.00,543.77 L484.50,543.78 L485.00,543.78 L485.50,543.78 L486.00,543.79 L486.50,543.79 L487.00,543.79 L487.50,543.80 L488.00,543.80 L488.50,543.81 L489.00,543.81 L489.50,543.82 L490.00,543.82 L490.50,543.82 L491.00,543.83 L491.50,543.83 L492.00,543.84 L492.50,543.85 L493.00,543.85 L493.50,543.86 L494.00,543.86 L494.50,543.87 L495.00,543.88 L495.50,543.88 L496.00,543.89 L496.50,543.90 L497.00,543.90 L497.50,543.91 L498.00,543.92 L498.50,543.93 L499.00,543.93 L499.50,543.94 L500.00,543.95 L500.50,543.96 L501.00,543.97 L501.50,543.98 L502.00,543.99 L502.50,544.00 L503.00,544.01 L503.50,544.02 L504.00,544.03 L504.50,544.04 L505.00,544.05 L505.50,544.06 L506.00,544.08 L506.50,544.09 L507.00,544.10 L507.50,544.11 L508.00,544.13 L508.50,544.14 L509.00,544.15 L509.50,544.17 L510.00,544.18 L510.50,544.20 L511.00,544.21 L511.50,544.23 L512.00,544.25 L512.50,544.26 L513.00,544.28 L513.50,544.30 L514.00,544.31 L514.50,544.33 L515.00,544.35 L515.50,544.37 L516.00,544.39 L516.50,544.41 L517.00,544.43 L517.50,544.45 L518.00,544.47 L518.50,544.49 L519.00,544.51 L519.50,544.54 L520.00,544.56 L520.50,544.58 L521.00,544.61 L521.50,544.63 L522.00,544.66 L522.50,544.68 L523.00,544.71 L523.50,544.73 L524.00,544.76 L524.50,544.78 L525.00,544.81 L525.50,544.84 L526.00,544.87 L526.50,544.90 L527.00,544.93 L527.50,544.96 L528.00,544.99 L528.50,545.02 L529.00,545.05 L529.50,545.08 L530.00,545.11 L530.50,545.14 L531.00,545.18 L531.50,545.21 L532.00,545.24 L532.50,545.28 L533.00,545.31 L533.50,545.35 L534.00,545.39 L534.50,545.42 L535.00,545.46 L535.50,545.50 L536.00,545.53 L536.50,545.57 L537.00,545.61 L537.50,545.65 L538.00,545.69 L538.50,545.73 L539.00,545.77 L539.50,545.81 L540.00,545.85 L540.50,545.89 L541.00,545.93 L541.50,545.98 L542.00,546.02 L542.50,546.06 L543.00,546.11 L543.50,546.15 L544.00,546.19 L544.50,546.24 L545.00,546.28 L545.50,546.33 L546.00,546.37 L546.50,546.42 L547.00,546.47 L547.50,546.51 L548.00,546.56 L548.50,546.61 L549.00,546.65 L549.50,546.70 L550.00,546.75 L550.50,546.80 L551.00,546.85 L551.50,546.90 L552.00,546.94 L552.50,546.99 L553.00,547.04 L553.50,547.09 L554.00,547.14 L554.50,547.19 L555.00,547.24 L555.50,547.29 L556.00,547.34 L556.50,547.39 L557.00,547.44 L557.50,547.49 L558.00,547.54 L558.50,547.60 L559.00,547.65 L559.50,547.70 L560.00,547.75 L560.50,547.80 L561.00,547.85 L561.50,547.90 L562.00,547.95 L562.50,548.00 L563.00,548.05 L563.50,548.10 L564.00,548.16 L564.50,548.21 L565.00,548.26 L565.50,548.31 L566.00,548.36 L566.50,548.41 L567.00,548.46 L567.50,548.51 L568.00,548.56 L568.50,548.61 L569.00,548.66 L569.50,548.71 L570.00,548.76 L570.50,548.80 L571.00,548.85 L571.50,548.90 L572.00,548.95 L572.50,549.00 L573.00,549.05 L573.50,549.09 L574.00,549.14 L574.50,549.19 L575.00,549.23 L575.50,549.28 L576.00,549.33 L576.50,549.37 L577.00,549.42 L577.50,549.46 L578.00,549.51 L578.50,549.55 L579.00,549.59 L579.50,549.64 L580.00,549.68 L580.50,549.72 L581.00,549.77 L581.50,549.81 L582.00,549.85 L582.50,549.89 L583.00,549.93 L583.50,549.97 L584.00,550.01 L584.50,550.05 L585.00,550.09 L585.50,550.13 L586.00,550.17 L586.50,550.20 L587.00,550.24 L587.50,550.28 L588.00,550.31 L588.50,550.35 L589.00,550.39 L589.50,550.42 L590.00,550.46 L590.50,550.49 L591.00,550.52 L591.50,550.56 L592.00,550.59 L592.50,550.62 L593.00,550.65 L593.50,550.68 L594.00,550.71 L594.50,550.74 L595.00,550.77 L595.50,550.80 L596.00,550.83 L596.50,550.86 L597.00,550.89 L597.50,550.92 L598.00,550.94 L598.50,550.97 L599.00,550.99 L599.50,551.02 L600.00,551.04 L600.50,551.07 L601.00,551.09 L601.50,551.12 L602.00,551.14 L602.50,551.16 L603.00,551.19 L603.50,551.21 L604.00,551.23 L604.50,551.25 L605.00,551.27 L605.50,551.29 L606.00,551.31 L606.50,551.33 L607.00,551.35 L607.50,551.37 L608.00,551.39 L608.50,551.40 L609.00,551.42 L609.50,551.44 L610.00,551.45 L610.50,551.47 L611.00,551.49 L611.50,551.50 L612.00,551.52 L612.50,551.53 L613.00,551.55 L613.50,551.56 L614.00,551.57 L614.50,551.59 L615.00,551.60 L615.50,551.61 L616.00,551.62 L616.50,551.64 L617.00,551.65 L617.50,551.66 L618.00,551.67 L618.50,551.68 L619.00,551.69 L619.50,551.70 L620.00,551.71 L620.50,551.72 L621.00,551.73 L621.50,551.74 L622.00,551.75 L622.50,551.76 L623.00,551.77 L623.50,551.77 L624.00,551.78 L624.50,551.79 L625.00,551.80 L625.50,551.80 L626.00,551.81 L626.50,551.82 L627.00,551.82 L627.50,551.83 L628.00,551.84 L628.50,551.84 L629.00,551.85 L629.50,551.85 L630.00,551.86 L630.50,551.87 L631.00,551.87 L631.50,551.88 L632.00,551.88 L632.50,551.88 L633.00,551.89 L633.50,551.89 L634.00,551.90 L634.50,551.90 L635.00,551.91 L635.50,551.91 L636.00,551.91 L636.50,551.92 L637.00,551.92 L637.50,551.92 L638.00,551.93 L638.50,551.93 L639.00,551.93 L639.50,551.93 L640.00,551.94 L640.50,551.94 L641.00,551.94 L641.50,551.95 L642.00,551.95 L642.50,551.95 L643.00,551.95 L643.50,551.95 L644.00,551.96 L644.50,551.96 L645.00,551.96 L645.50,551.96 L646.00,551.96 L646.50,551.96 L647.00,551.97 L647.50,551.97 L648.00,551.97 L648.50,551.97 L649.00,551.97 L649.50,551.97 L650.00,551.97 L650.50,551.98 L651.00,551.98 L651.50,551.98 L652.00,551.98 L652.50,551.98 L653.00,551.98 L653.50,551.98 L654.00,551.98 L654.50,551.98 L655.00,551.98 L655.50,551.98 L656.00,551.99 L656.50,551.99 L657.00,551.99 L657.50,551.99 L658.00,551.99 L658.50,551.99 L659.00,551.99 L659.50,551.99 L660.00,551.99 L660.50,551.99 L661.00,551.99 L661.50,551.99 L662.00,551.99 L662.50,551.99 L663.00,551.99 L663.50,551.99 L664.00,551.99 L664.50,551.99 L665.00,551.99 L665.50,551.99 L666.00,551.99 L666.50,552.00 L667.00,552.00 L667.50,552.00 L668.00,552.00 L668.50,552.00 L669.00,552.00 L669.50,552.00 L670.00,552.00 L670.50,552.00 L671.00,552.00 L671.50,552.00 L672.00,552.00 L672.50,552.00 L673.00,552.00 L673.50,552.00 L674.00,552.00 L674.50,552.00 L675.00,552.00 L675.50,552.00 L676.00,552.00 L676.50,552.00 L677.00,552.00 L677.50,552.00 L678.00,552.00 L678.50,552.00 L679.00,552.00 L679.50,552.00 L680.00,552.00 L680.50,552.00 L681.00,552.00 L681.50,552.00 L682.00,552.00 L682.50,552.00 L683.00,552.00 L683.50,552.00 L684.00,552.00 L684.50,552.00 L685.00,552.00 L685.50,552.00 L686.00,552.00 L686.50,552.00 L687.00,552.00 L687.50,552.00 L688.00,552.00 L688.50,552.00 L689.00,552.00 L689.50,552.00 L690.00,552.00 L690.50,552.00 L691.00,552.00 L691.50,552.00 L692.00,552.00 L692.50,552.00 L693.00,552.00 L693.50,552.00 L694.00,552.00 L694.50,552.00 L695.00,552.00 L695.50,552.00 L696.00,552.00 L696.50,552.00 L697.00,552.00 L697.50,552.00 L698.00,552.00 L698.50,552.00 L699.00,552.00 L699.50,552.00 L700.00,552.00 L700.50,552.00 L701.00,552.00 L701.50,552.00 L702.00,552.00 L702.50,552.00 L703.00,552.00 L703.50,552.00 L704.00,552.00 L704.50,552.00 L705.00,552.00 L705.50,552.00 L706.00,552.00 L706.50,552.00 L707.00,552.00 L707.50,552.00 L708.00,552.00 L708.50,552.00 L709.00,552.00 L709.50,552.00 L710.00,552.00 L710.50,552.00 L711.00,552.00 L711.50,552.00 L712.00,552.00 L712.50,552.00 L713.00,552.00 L713.50,552.00 L714.00,552.00 L714.50,552.00 L715.00,552.00 L715.50,552.00 L716.00,552.00 L716.50,552.00 L717.00,552.00 L717.50,552.00 L718.00,552.00 L718.50,552.00 L719.00,552.00 L719.50,552.00 L720.00,552.00 L720.50,552.00 L721.00,552.00 L721.50,552.00 L722.00,552.00 L722.50,552.00 L723.00,552.00" fill="none" stroke="url(#bgg)" stroke-width="2"/>
<g fill="#fff" stroke="#e58be5" stroke-width="0.9"><circle cx="410.50" cy="543.70" r="1.5"/><circle cx="415.33" cy="543.69" r="1.5"/><circle cx="420.16" cy="543.68" r="1.5"/><circle cx="424.99" cy="543.67" r="1.5"/><circle cx="429.82" cy="543.64" r="1.5"/><circle cx="434.65" cy="543.60" r="1.5"/><circle cx="439.48" cy="543.52" r="1.5"/><circle cx="444.31" cy="543.40" r="1.5"/><circle cx="449.14" cy="543.19" r="1.5"/><circle cx="453.97" cy="542.85" r="1.5"/><circle cx="458.80" cy="542.33" r="1.5"/><circle cx="463.63" cy="541.55" r="1.5"/><circle cx="468.46" cy="540.38" r="1.5"/><circle cx="473.29" cy="538.68" r="1.5"/><circle cx="478.12" cy="536.29" r="1.5"/><circle cx="482.95" cy="533.00" r="1.5"/><circle cx="487.78" cy="528.58" r="1.5"/><circle cx="492.61" cy="522.80" r="1.5"/><circle cx="497.44" cy="515.46" r="1.5"/><circle cx="502.27" cy="506.36" r="1.5"/><circle cx="507.10" cy="495.42" r="1.5"/><circle cx="511.93" cy="482.64" r="1.5"/><circle cx="516.76" cy="468.16" r="1.5"/><circle cx="521.59" cy="452.30" r="1.5"/><circle cx="526.42" cy="435.54" r="1.5"/><circle cx="531.25" cy="418.52" r="1.5"/><circle cx="536.08" cy="401.99" r="1.5"/><circle cx="540.91" cy="386.82" r="1.5"/><circle cx="545.74" cy="373.85" r="1.5"/><circle cx="550.57" cy="363.87" r="1.5"/><circle cx="555.40" cy="357.52" r="1.5"/><circle cx="560.23" cy="355.23" r="1.5"/><circle cx="565.06" cy="357.16" r="1.5"/><circle cx="569.89" cy="363.22" r="1.5"/><circle cx="574.72" cy="373.02" r="1.5"/><circle cx="579.55" cy="385.98" r="1.5"/><circle cx="584.38" cy="401.33" r="1.5"/><circle cx="589.21" cy="418.18" r="1.5"/><circle cx="594.04" cy="435.64" r="1.5"/><circle cx="598.87" cy="452.83" r="1.5"/><circle cx="603.70" cy="468.95" r="1.5"/><circle cx="608.53" cy="483.30" r="1.5"/><circle cx="613.36" cy="495.35" r="1.5"/><circle cx="618.19" cy="504.74" r="1.5"/><circle cx="623.02" cy="511.36" r="1.5"/><circle cx="627.85" cy="515.43" r="1.5"/><circle cx="632.68" cy="517.55" r="1.5"/><circle cx="637.51" cy="518.66" r="1.5"/><circle cx="642.34" cy="519.85" r="1.5"/><circle cx="647.17" cy="522.06" r="1.5"/><circle cx="652.00" cy="525.71" r="1.5"/><circle cx="656.83" cy="530.58" r="1.5"/><circle cx="661.66" cy="535.97" r="1.5"/><circle cx="666.49" cy="541.05" r="1.5"/><circle cx="671.32" cy="545.19" r="1.5"/><circle cx="676.15" cy="548.15" r="1.5"/><circle cx="680.98" cy="550.02" r="1.5"/><circle cx="685.81" cy="551.07" r="1.5"/><circle cx="690.64" cy="551.60" r="1.5"/><circle cx="695.47" cy="551.84" r="1.5"/><circle cx="700.30" cy="551.94" r="1.5"/><circle cx="705.13" cy="551.98" r="1.5"/><circle cx="709.96" cy="551.99" r="1.5"/><circle cx="714.79" cy="552.00" r="1.5"/><circle cx="719.62" cy="552.00" r="1.5"/></g>
<line x1="416.3" y1="344.4" x2="447.4" y2="344.4" stroke="#ee1111" stroke-width="2"/>
<line x1="416.3" y1="360.2" x2="447.4" y2="360.2" stroke="#1a1ae0" stroke-width="2"/>
<text x="450.8" y="349.0" font-size="13.3" font-weight="400" text-anchor="start" fill="#000" >Pyrrolic N</text>
<text x="450.8" y="364.7" font-size="13.3" font-weight="400" text-anchor="start" fill="#000" >Pyridinic N</text>
<text x="714.7" y="347.9" font-size="11.5" font-weight="700" text-anchor="end" fill="#000" >N 1s</text>
<text transform="translate(370.4,338.5) scale(0.95,1)" font-size="18" font-weight="700">D</text>
<text transform="translate(400.4,447.3) rotate(-90)" font-size="12" font-weight="700" text-anchor="middle">Intensity (a.u.)</text>
<text x="572.1" y="610.3" font-size="12" font-weight="700" text-anchor="middle" fill="#000" >Binding Energy (eV)</text>
</svg></body></html>
